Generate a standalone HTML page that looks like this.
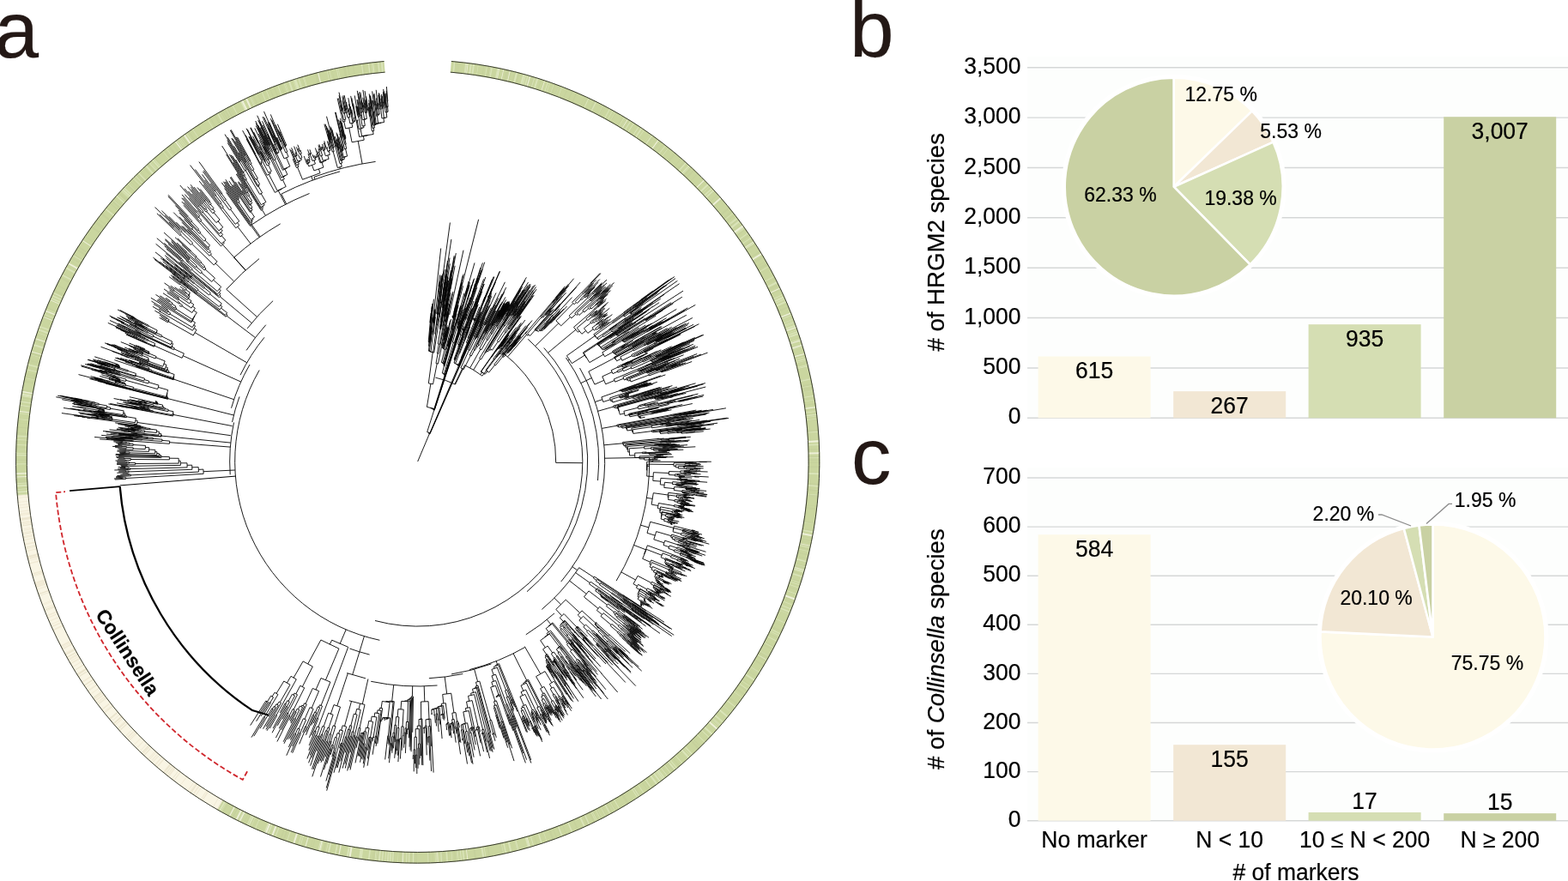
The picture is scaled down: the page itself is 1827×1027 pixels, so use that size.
<!DOCTYPE html>
<html><head><meta charset="utf-8"><title>Figure</title>
<style>
html,body{margin:0;padding:0;background:#ffffff;overflow:hidden;}
svg{display:block;}
text{stroke:#000;stroke-width:0.2px;font-family:'Liberation Sans',Arial,Helvetica,sans-serif;fill:#000;}
.tk{font-size:26.5px;}
.bl{font-size:26.5px;}
.pl{font-size:23px;}
.at{font-size:27.6px;}
.pn{font-size:92.7px;fill:#231815;stroke:#231815;}
.cl{font-size:23px;font-weight:bold;}
</style></head>
<body>
<svg width="1827" height="1027" viewBox="0 0 1827 1027">
<rect width="1827" height="1027" fill="#ffffff"/>
<g id="ring">
<path d="M525.91,71.04 A468.6,468.6 0 1 1 253.11,944.23 L259.89,932.44 A455.0,455.0 0 1 0 524.77,84.60 Z" fill="#cad69f"/>
<path d="M253.11,944.23 A468.6,468.6 0 0 1 19.78,577.62 L33.33,576.47 A455.0,455.0 0 0 0 259.89,932.44 Z" fill="#f9f5e4"/>
<path d="M19.78,577.62 A468.6,468.6 0 0 1 447.49,71.04 L448.63,84.60 A455.0,455.0 0 0 0 33.33,576.47 Z" fill="#cad69f"/>
<path d="M525.34,77.82 A461.8,461.8 0 1 1 256.50,938.33" fill="none" stroke="#dfe8c2" stroke-opacity="0.75" stroke-width="13.6" stroke-dasharray="2.0,3.6,1.5,11.7,2.0,3.6,2.0,1.3,2.0,3.9,0.6,9.4,0.8,3.5,0.6,0.6,1.5,5.4,2.0,20.1,2.0,6.3,2.0,0.1,0.6,0.4,0.8,1.3,1.5,5.5,2.0,2.4,2.0,11.1,1.0,1.6,0.6,4.2,1.0,3.7,2.0,3.1,0.6,32.7,1.0,7.4,2.0,8.5,0.6,2.0,0.6,5.0,1.0,3.1,0.6,2.9,0.6,11.3,0.6,1.4,1.5,3.8,2.0,3.3,1.0,6.0,1.0,2.5,1.5,2.4,0.6,8.5,0.6,0.9,1.5,0.1,0.8,9.6,0.8,6.9,0.8,3.6,0.8,25.3,1.5,3.3,1.5,0.7,0.6,27.7,2.0,1.9,0.6,2.2,1.5,1.4,2.0,32.9,0.6,6.2,0.8,0.3,1.0,1.4,2.0,0.1,1.0,2.4,0.6,2.9,2.0,0.6,0.6,6.1,1.0,5.5,0.8,5.8,1.5,19.2,0.8,10.7,0.8,12.1,1.0,5.9,2.0,14.3,0.8,1.7,2.0,1.0,1.5,1.3,2.0,12.8,0.6,0.5,0.6,0.7,1.0,4.3,1.5,1.6,2.0,1.8,2.0,4.1,0.6,1.2,1.5,0.8,2.0,4.9,1.0,5.7,0.8,1.4,0.6,8.3,1.5,1.9,0.6,1.7,1.0,1.2,0.8,4.5,0.8,0.6,1.0,13.3,2.0,6.4,0.8,5.3,0.6,5.3,1.0,3.9,0.6,7.2,0.6,0.1,1.0,3.9,0.6,2.3,2.0,0.5,0.6,2.8,0.8,13.8,1.0,9.5,1.5,2.6,1.5,13.9,0.6,17.3,2.0,11.9,1.5,0.1,0.6,2.9,0.6,5.6,0.6,0.6,1.5,30.1,1.5,7.8,2.0,16.3,1.5,3.7,0.6,10.9,2.0,4.4,2.0,0.2,0.6,0.6,0.6,1.6,2.0,4.1,1.5,6.5,0.6,1.8,0.8,2.8,0.8,6.8,1.0,4.4,1.5,6.5,0.8,4.1,1.0,2.4,1.5,1.3,0.8,9.8,1.5,12.7,1.0,1.5,0.8,1.4,0.6,4.1,1.0,7.5,0.6,10.4,1.0,3.6,1.5,15.6,2.0,2.9,1.0,4.1,2.0,7.6,0.6,3.6,1.0,10.6,0.6,12.4,1.0,6.8,1.0,5.1,2.0,6.3,0.8,0.1,0.8,3.1,1.0,0.2,0.8,1.6,0.6,9.6,2.0,3.5,1.0,6.4,0.8,19.1,1.5,1.3,0.6,1.8,2.0,8.4,0.8,7.5,1.0,1.5,2.0,4.7,0.8,4.2,0.8,3.0,1.5,0.5,1.5,0.8,0.6,1.3,2.0,2.8,2.0,6.3,1.0,9.6,0.8,3.7,0.6,0.6,1.5,1.4,1.0,23.6,1.0,4.6,0.6,1.8,0.6,2.6,1.0,0.2,1.0,4.8,0.6,4.0,0.6,1.5,0.6,3.4,1.0,1.1,0.8,7.0,2.0,3.8,2.0,13.8,1.5,11.0,1.5,17.5,0.6,5.2,1.5,8.5,1.0,4.5,2.0,10.7,2.0,6.1,2.0,4.3,1.5,1.8,2.0,18.6,0.8,1.4,2.0,20.7,1.5,1.9,2.0,1.3,0.6,0.7,0.6,5.6,0.6,4.6,1.5,4.4,2.0,4.7,0.6,0.8,0.6,7.0,1.5,16.0,1.5,3.2,1.5,1.9,1.0,4.1,1.5,3.4,0.6,4.5,2.0,1.3,1.0,0.2,0.6,0.8,0.8,0.2,1.0,1.5,1.0,2.3,1.5,1.7,2.0,0.7,2.0,0.8,0.8,5.9,1.5,7.3,1.5,0.1,2.0,10.5,0.8,1.0,2.0,12.0,2.0,6.1,2.0,1.5,0.8,5.7,1.0,1.6,1.0,14.0,0.8,5.5,0.8,1.5,0.8,13.1,0.8,13.2,1.0,7.8,1.5,2.9,1.5,10.7,0.8,4.7,0.6,1.3,2.0,0.6,1.0,6.9,2.0,0.7,1.0,6.0,0.8,4.2,1.5,9.7,0.6,0.7,2.0,8.6" stroke-dashoffset="2.6"/>
<path d="M525.34,77.82 A461.8,461.8 0 1 1 256.50,938.33" fill="none" stroke="#c4d09b" stroke-opacity="0.8" stroke-width="13.6" stroke-dasharray="0.8,5.0,0.6,1.3,0.8,1.4,0.6,27.8,0.8,5.2,2.0,18.2,0.6,0.5,2.0,2.4,1.2,3.3,1.2,3.4,0.6,0.1,0.8,11.2,1.2,3.1,2.0,8.1,0.8,15.3,0.6,0.6,0.6,2.3,2.0,9.7,0.8,5.1,1.2,4.2,1.2,9.8,0.6,2.0,0.8,8.2,2.0,10.1,1.2,0.9,1.2,12.7,0.8,8.7,0.8,3.1,1.2,0.4,0.6,2.2,1.2,0.1,0.6,28.0,1.2,1.6,2.0,2.5,0.6,5.1,2.0,3.0,0.6,6.2,0.6,8.6,0.6,0.7,1.2,8.1,0.6,3.5,2.0,8.6,1.2,0.1,1.2,1.7,2.0,4.8,0.6,20.5,0.6,6.1,0.6,4.8,0.8,2.9,0.8,2.9,0.6,11.6,2.0,3.4,2.0,3.3,1.2,5.5,2.0,4.5,1.2,6.4,1.2,6.5,0.8,0.2,0.8,5.3,2.0,3.2,1.2,0.3,0.6,8.3,1.2,5.2,0.8,0.5,2.0,3.4,0.8,1.7,0.6,0.3,2.0,16.6,0.8,0.9,0.6,5.6,2.0,0.3,0.8,3.6,1.2,11.8,0.6,4.5,0.8,2.7,2.0,6.6,2.0,5.5,0.8,2.7,0.8,18.3,0.6,1.6,1.2,4.2,1.2,9.2,0.8,1.9,0.8,6.0,0.8,1.3,0.8,4.2,0.6,12.7,0.6,5.9,2.0,1.9,0.6,0.2,1.2,0.6,0.6,0.5,0.8,14.6,1.2,4.8,1.2,4.0,1.2,1.4,0.8,4.1,0.6,10.9,2.0,9.7,0.8,9.9,1.2,3.5,0.8,3.0,1.2,2.8,0.8,2.1,1.2,3.3,2.0,5.2,0.6,12.5,2.0,4.7,2.0,5.0,2.0,10.1,0.6,2.1,0.8,0.5,0.6,14.5,2.0,7.1,1.2,7.7,0.8,2.0,1.2,1.5,0.6,2.7,2.0,2.3,1.2,5.1,1.2,3.5,0.8,3.7,0.8,3.1,1.2,0.5,2.0,0.1,0.8,5.3,1.2,8.1,0.8,9.6,0.8,10.9,2.0,1.2,1.2,12.8,0.8,10.0,0.8,4.3,0.6,5.0,2.0,6.3,1.2,0.4,0.6,9.3,1.2,2.4,1.2,8.0,0.8,0.5,2.0,0.6,0.8,1.7,1.2,4.0,2.0,8.7,1.2,2.6,2.0,6.7,0.6,4.0,0.6,7.4,1.2,3.2,2.0,11.5,2.0,10.8,0.6,19.0,0.6,4.5,2.0,9.7,0.8,15.4,0.8,1.7,2.0,28.3,1.2,6.9,2.0,1.4,1.2,4.5,0.6,21.0,0.6,3.8,0.8,2.2,0.8,9.0,2.0,14.6,2.0,0.1,0.6,14.4,0.8,2.2,0.8,1.2,2.0,5.3,0.8,5.4,1.2,3.5,1.2,3.1,2.0,5.9,2.0,11.5,1.2,13.1,0.6,6.5,0.8,4.0,0.8,3.1,2.0,17.7,1.2,22.4,0.6,9.3,0.8,6.4,2.0,13.4,2.0,14.1,2.0,9.6,0.8,5.6,1.2,3.2,0.8,0.9,1.2,6.1,0.6,4.4,0.8,1.0,0.8,0.0,0.6,10.4,0.6,2.6,2.0,13.2,1.2,0.5,0.8,0.1,0.6,3.2,2.0,9.1,2.0,1.4,0.8,4.5,1.2,17.6,2.0,2.3,1.2,0.5,0.6,35.4,0.8,2.7,2.0,0.7,0.6,6.8,0.6,6.4,2.0,12.0,0.6,1.6,0.6,3.7,0.8,11.6,0.8,13.9,2.0,2.1,1.2,16.6,2.0,18.5,0.6,4.9,0.8,1.8,0.6,2.8,1.2,2.4,1.2,5.0,2.0,3.6,0.8,0.6,0.8,5.8,0.8,6.8" stroke-dashoffset="0.9"/>
<path d="M525.34,77.82 A461.8,461.8 0 1 1 256.50,938.33" fill="none" stroke="#f1f2de" stroke-opacity="0.9" stroke-width="13.6" stroke-dasharray="1.2,20.6,0.8,35.9,0.8,4.2,0.8,6.8,0.8,22.8,1.2,16.7,0.8,104.6,0.8,41.7,1.2,68.8,1.2,26.4,2.0,39.0,2.0,20.5,0.8,15.3,2.0,43.2,1.2,30.2,1.2,16.1,1.2,14.7,1.2,4.5,1.2,9.2,0.8,62.2,0.8,37.8,2.0,11.7,2.0,93.3,2.0,10.7,0.8,27.8,0.8,34.1,2.0,173.0,2.0,256.5,0.8,72.2,0.8,33.5,0.8,39.5,0.8,60.0,2.0,11.2,1.2,21.6,1.2,16.0,0.8,12.4,2.0,24.1,2.0,5.8,2.0,31.4,1.2,2.6,2.0,7.4,1.2,193.8" stroke-dashoffset="3.0"/>
<path d="M26.55,577.04 A461.8,461.8 0 0 1 448.06,77.82" fill="none" stroke="#dfe8c2" stroke-opacity="0.75" stroke-width="13.6" stroke-dasharray="0.6,0.8,1.0,2.0,2.0,1.7,0.8,2.7,2.0,1.2,1.5,10.0,0.8,0.2,0.8,9.2,1.5,2.2,0.6,5.7,1.5,1.0,0.8,3.8,0.6,4.5,0.8,5.1,0.8,2.5,2.0,1.8,0.6,16.1,0.6,6.2,0.8,7.7,1.5,3.1,1.5,5.5,2.0,2.5,2.0,14.7,1.0,8.5,1.5,4.0,1.5,10.9,0.6,10.5,2.0,5.0,2.0,2.4,0.6,3.4,0.6,2.3,2.0,2.1,1.5,13.8,1.0,5.5,0.6,12.9,1.5,1.7,1.5,1.7,1.5,21.6,2.0,7.1,2.0,14.4,1.5,2.2,0.6,16.9,1.0,43.4,1.5,12.1,0.8,5.0,1.5,1.5,0.6,5.0,0.8,0.6,2.0,0.8,1.5,5.1,0.8,0.0,0.6,7.8,0.6,2.4,1.5,3.5,1.5,10.1,2.0,0.9,1.0,1.6,1.0,0.2,1.5,2.2,1.5,0.9,0.8,12.7,0.6,2.1,1.0,1.3,0.6,13.8,2.0,1.1,0.8,1.4,0.6,1.3,1.0,6.3,1.0,7.8,1.0,19.5,0.8,12.2,1.5,2.4,0.8,3.2,1.0,1.5,0.8,0.8,0.8,1.9,1.0,4.2,1.0,9.4,2.0,9.8,2.0,12.9,1.0,4.4,0.8,13.6,1.0,6.6,0.6,0.9,0.6,3.7,2.0,3.5,0.6,0.5,2.0,0.0,1.0,2.0,2.0,3.3,1.0,0.5,0.8,26.7,1.0,1.7,0.6,7.9,0.8,1.2,0.6,26.4,2.0,5.8,1.5,2.9,0.6,0.4,1.0,4.9,1.5,2.3,2.0,9.2" stroke-dashoffset="1.5"/>
<path d="M26.55,577.04 A461.8,461.8 0 0 1 448.06,77.82" fill="none" stroke="#c4d09b" stroke-opacity="0.8" stroke-width="13.6" stroke-dasharray="0.8,10.5,0.8,5.4,2.0,0.7,2.0,1.6,1.2,4.8,0.8,9.3,0.8,1.8,2.0,11.5,0.8,1.8,0.6,5.5,0.8,5.1,0.6,2.4,2.0,5.6,1.2,4.2,0.6,11.7,0.8,0.5,0.8,5.0,0.6,5.9,0.6,2.2,1.2,7.1,2.0,8.7,0.8,0.6,0.8,2.9,2.0,1.0,2.0,0.4,0.8,3.8,0.6,7.3,0.8,0.8,2.0,0.9,0.6,4.4,2.0,0.0,0.8,13.2,1.2,0.6,0.6,3.8,0.8,21.4,0.6,2.1,0.8,4.8,0.6,3.3,1.2,16.2,0.8,2.2,2.0,0.2,0.6,5.3,0.8,8.0,2.0,3.7,0.8,16.4,0.6,2.9,1.2,1.5,0.8,1.7,2.0,3.9,2.0,1.4,2.0,8.6,0.8,3.6,0.8,11.9,2.0,4.7,1.2,0.5,1.2,2.7,0.8,5.8,2.0,8.1,0.8,5.0,1.2,1.9,1.2,0.4,0.8,0.9,0.6,7.7,1.2,0.1,2.0,11.0,2.0,0.5,0.6,2.4,0.8,2.2,0.8,4.0,0.8,1.0,1.2,0.2,2.0,3.2,0.8,4.7,1.2,4.4,2.0,2.3,0.8,6.6,1.2,12.7,2.0,4.6,2.0,3.1,1.2,4.4,1.2,1.5,0.8,2.8,0.6,0.9,2.0,8.2,1.2,5.0,0.6,6.5,0.8,15.1,1.2,4.9,1.2,6.6,1.2,1.6,2.0,0.6,2.0,0.8,2.0,0.4,1.2,16.0,1.2,4.1,2.0,1.5,0.8,1.4,0.8,2.6,1.2,4.4,0.8,14.3,1.2,3.9,1.2,7.3,0.6,7.2,0.6,14.0,0.6,2.7,1.2,14.6,2.0,0.3,1.2,11.3,1.2,3.8,0.6,13.0,1.2,0.1,1.2,2.3,1.2,5.0,0.8,10.1,2.0,6.2,1.2,5.7,0.8,0.2,0.6,8.9" stroke-dashoffset="3.1"/>
<path d="M26.55,577.04 A461.8,461.8 0 0 1 448.06,77.82" fill="none" stroke="#f1f2de" stroke-opacity="0.9" stroke-width="13.6" stroke-dasharray="1.2,21.2,0.8,2.6,1.2,70.8,1.2,19.2,0.8,1.6,1.2,46.0,1.2,14.8,0.8,25.6,0.8,6.5,1.2,12.6,0.8,45.6,2.0,29.4,0.8,156.1,1.2,10.9,2.0,75.6,2.0,3.3,2.0,86.2,1.2,138.7" stroke-dashoffset="1.3"/>
<path d="M256.50,938.33 A461.8,461.8 0 0 1 26.55,577.04" fill="none" stroke="#ede6cf" stroke-opacity="0.8" stroke-width="13.6" stroke-dasharray="0.6,0.4,0.8,1.5,0.8,4.8,0.8,13.3,1.5,0.7,1.0,6.5,1.0,1.8,1.5,1.8,0.8,1.1,0.8,1.8,0.8,10.0,0.6,8.4,1.0,6.8,1.5,0.5,1.5,2.9,1.5,0.2,0.6,8.2,1.5,1.7,1.5,2.8,1.0,1.2,1.0,1.8,0.8,0.8,0.8,7.4,1.5,3.4,0.8,4.1,1.0,3.9,0.8,6.5,1.0,0.9,0.8,1.1,1.5,14.6,0.8,3.5,1.0,1.2,1.5,2.2,0.8,2.0,0.6,0.2,0.8,8.2,0.6,1.3,0.6,2.1,1.5,7.2,0.6,0.8,1.0,1.5,1.5,1.0,1.5,5.8,0.8,4.5,0.8,3.2,0.6,2.3,1.0,3.2,1.5,8.5,1.0,0.5,1.0,8.6,0.8,3.3,1.5,1.3,0.8,1.3,0.8,0.3,1.0,1.8,0.8,3.3,1.0,0.3,0.6,4.4,1.5,0.8,0.8,0.6,1.5,19.1,1.5,2.6,1.5,1.7,0.8,3.3,1.0,3.2,1.0,1.3,1.5,8.0,0.6,3.4,0.6,0.8,0.6,11.6,1.0,4.5,1.0,1.8,1.5,0.3,0.8,0.0,1.0,0.3,1.0,0.0,1.5,6.6,0.6,2.0,1.5,11.0,1.5,2.1,0.6,1.2,0.8,0.0,1.5,1.0,1.0,5.2,1.0,6.7,1.5,3.9,1.0,1.7,1.0,0.3,1.0,3.6,0.8,1.6,0.8,0.9,0.8,3.2,0.6,0.8,1.0,0.7,1.5,1.7,1.5,0.1,1.5,2.8,0.8,0.4,0.8,0.1,0.6,1.5,1.0,3.5,0.8,2.2,0.8,2.8,0.6,6.7" stroke-dashoffset="3.4"/>
<path d="M256.50,938.33 A461.8,461.8 0 0 1 26.55,577.04" fill="none" stroke="#e3ddc3" stroke-opacity="0.7" stroke-width="13.6" stroke-dasharray="1.0,35.4,1.0,25.6,0.6,8.9,1.0,1.9,0.6,29.0,1.0,2.9,1.0,26.2,0.6,8.4,1.0,1.6,1.0,6.9,1.0,6.5,1.0,8.4,0.6,11.0,0.6,8.7,1.0,9.0,0.6,7.1,1.0,10.8,1.0,2.0,1.0,4.8,1.0,16.1,1.0,2.5,1.0,54.6,0.6,0.6,1.0,16.8,0.6,1.4,0.6,22.0,0.6,21.2,1.0,8.6,0.6,0.8,1.0,14.9,1.0,8.7,0.6,7.3,0.6,24.1,0.6,8.1" stroke-dashoffset="0.4"/>
<path d="M525.87,71.49 A468.15000000000003,468.15000000000003 0 1 1 447.53,71.49" fill="none" stroke="#2d2f25" stroke-width="0.95"/>
<path d="M524.81,84.15 A455.45,455.45 0 1 1 448.59,84.15" fill="none" stroke="#2d2f25" stroke-width="0.95"/>
</g>
<g id="tree" fill="none" stroke="#000" stroke-width="0.9" stroke-linecap="butt">
<path d="M756.7,533.3A270,270 0 0 1 718.1,677.1M430.6,763.1A232,232 0 0 1 407.4,756M426,790.8L404.2,784.6M419.5,820.1L406.8,816.8M585.8,411.1A161,161 0 0 1 647.7,539.4M615.2,395.3A192,192 0 0 1 437,723.5M633.8,405.5A198,198 0 0 1 614,689.7M659.5,417A211,211 0 0 1 696.5,560.1M675.5,429A218,218 0 0 1 653.7,678.1M671,667.1A225,225 0 0 1 631.3,710.4M646,714.9A238,238 0 0 1 612.8,739.8M611.7,754.5A250,250 0 0 1 547.2,780.6M572.5,773.9A251,251 0 0 1 526,785.9M539.3,785.5A253,253 0 0 1 499.9,790.7M509.5,799A262,262 0 0 1 432.2,794.3M442.4,746.3A213,213 0 0 1 302.2,431.5M268.2,553.3A219,219 0 0 1 272.5,492.5M270.5,492.1A221,221 0 0 1 279,462.4M269.5,475.7A226,226 0 0 1 291,425M280,437.2A230,230 0 0 1 308,393.3M287.1,408.4A238,238 0 0 1 309.8,378.7M288.1,382.9A252,252 0 0 1 318.1,350.7M263.8,337.3A300,300 0 0 1 302,301.6M272.6,300.2A320,320 0 0 1 326.7,260.9M293.4,261.9A337,337 0 0 1 360.5,225.5M327.8,226.1A350,350 0 0 1 396.1,199.9M366,206.3A353,353 0 0 1 437.6,188.4M507.5,440.2A100,100 0 0 1 530.5,448.1M541.5,425.7A125,125 0 0 1 561.9,438.2M704.7,534.2L756.7,533.3M424.4,741.7L418.9,759.9M418.9,759.9L410.7,786.6M506.8,389.4L524.4,259.5M525.7,382.8L557.6,255.8M512.1,369.9L525.9,278.9M523.7,367L540,291.7M515.6,380.6L531.3,295.1M501.8,398.8L513.7,289.5M561.9,438.2L583.6,409.4M647.7,539.4L678.7,539.7M530.5,448.1L541.5,425.7M299.4,369.4L263.8,337.3M286,315.1L272.6,300.2M303.2,275.9L293.4,261.9M333.7,237.7L327.8,226.1M367,209.1L366,206.3M500,505.1L499.8,505.6L500.8,506L568.5,352M499.4,504L499.1,504.7L500.9,505.4L557.5,376.1M505.8,478.1L497.7,503.5L501,504.7L534.3,426.6M505.5,477.6L505.4,478L506.2,478.2L562.4,306.4M505,477L504.8,477.4L506.2,477.8L550.8,340.4M503.9,476.3L503.8,476.7L506.1,477.4L545.2,355.4M501.7,475.3L501.6,475.7L506.2,477L547.8,346.7M501.9,447.3L497.4,474.4L505.9,476.5L518.1,437.4M504.2,410.8L499.3,446.9L504.5,447.8L509.2,423.9M502.8,410.2L502.7,410.6L505.8,411L516.2,341.6M501,409.6L501,410L504.6,410.4L509,378.7M500,409.1L499.9,409.5L502.1,409.7L504.5,389.8M500.1,403.4L499.5,409L500.5,409.1L501.4,400.4M499.9,398.8L499.5,403.4L500.6,403.5L500.9,400.4M499.6,398.4L499.6,398.8L500.3,398.9L503.9,362.6M501.2,376.4L499.2,398.4L500,398.4L500.5,393M501.1,376L501,376.4L501.4,376.4L502.9,359.7M501.6,368.9L501,376L501.2,376L502.1,364.9M503.1,357.1L502.8,359.6L503,359.7L503.1,359.1M502.9,366.4L500.4,393L500.6,393L501.9,380M503,363.1L502.7,366.4L503,366.4L504.2,353.7M503,362.5L502.9,363.1L503.1,363.1L504,354.1M503.8,361.9L503.8,362.5L504,362.6L505.4,348.7M501.1,396.8L500.8,400.4L501.1,400.4L503,381.4M501,396.4L501,396.8L501.3,396.8L501.3,396.2M501.7,388.2L500.9,396.4L501.1,396.4L503.8,370M501.7,387.6L501.6,388.2L501.8,388.2L501.9,387.6M502.7,386.9L501.3,400.4L501.5,400.4L503.1,385.5M502.7,386.3L502.6,386.9L502.8,386.9L502.9,386.4M505.7,376.8L504.1,389.8L504.8,389.9L507.2,370.3M505.4,376.3L505.3,376.7L506,376.8L511.2,333.8M505.1,375.9L505.1,376.3L505.6,376.4L506.7,367.3M504.9,375.5L504.8,375.9L505.4,375.9L506.1,369.7M504.7,375L504.7,375.4L505.1,375.5L505.1,375.1M504.8,373.1L504.6,375L504.8,375.1L506.5,360.5M505.6,364.8L504.7,373.1L504.9,373.1L504.9,372.5M506.5,362.1L505,375.1L505.2,375.1L505.3,374.4M507.1,360.5L506,369.7L506.2,369.7L506.4,368.1M512.5,321.3L511,333.8L511.3,333.9L511.8,330.1M512.4,320.7L512.3,321.2L512.6,321.3L512.7,320.7M507.2,369.7L507.1,370.3L507.3,370.3L507.4,369.7M510.1,366.5L508.5,378.7L509.6,378.8L513.3,353.2M509.7,366L509.6,366.4L510.6,366.5L515.6,330.4M509.1,365.5L509.1,365.9L510.3,366.1L510.3,365.7M510.6,351L508.7,365.5L509.5,365.6L512.1,346M511.7,340.2L510.4,351L510.8,351.1L510.9,350.5M511.8,337.9L511.5,340.2L511.9,340.3L512,339.7M512.4,332.1L511.7,337.8L512,337.9L514.1,321.3M512.6,329.2L512.3,332.1L512.5,332.1L513.1,327.2M514.1,329.4L511.9,346L512.3,346L515.9,319.1M514.9,321.8L513.9,329.4L514.3,329.5L515.4,321M514.9,321.2L514.8,321.8L515.1,321.8L515.1,321.2M510.2,365.3L510.2,365.7L510.5,365.7L510.6,365.1M510.1,364.8L510.1,365.2L510.4,365.3L510.5,364.7M510.1,364.2L510,364.8L510.2,364.9L510.3,364.3M514.3,343.8L513,353.1L513.6,353.2L513.7,352.8M516.4,327.9L514.1,343.8L514.4,343.9L514.5,343.3M518.2,314.2L516.2,327.8L516.5,327.9L516.6,327.3M513.6,352.4L513.5,352.8L513.8,352.9L513.9,352.3M513.5,351.8L513.4,352.4L513.7,352.4L513.7,351.8M518.2,327L516,341.6L516.4,341.7L519.1,323.9M518,326.6L518,327L518.3,327L520.3,314.1M518,326L517.9,326.5L518.2,326.6L521.5,304M510.2,412L508,423.6L510.4,424.1L514.9,402.8M511.3,401.1L509.4,411.9L511,412.2L519.7,367.2M513.2,383.8L510.3,400.9L512.3,401.3L518.3,369.1M512.9,383.3L512.8,383.7L513.7,383.9L519.3,351.6M512.8,381.5L512.5,383.3L513.3,383.4L513.9,379.7M513.4,375.5L512.4,381.4L513.2,381.5L518.4,350.3M515.8,358.6L513,375.5L513.7,375.6L521.4,329.7M515.4,358.2L515.3,358.6L516.2,358.7L520.9,329.8M515.9,352.3L515,358.1L515.8,358.2L521.6,322.4M515.8,350.3L515.5,352.3L516.3,352.4L518.4,339.3M516.8,342.2L515.6,350.3L516.1,350.4L519.3,329.8M520,320L516.6,342.2L517,342.2L517.1,341.6M520,319.4L519.9,320L520.2,320L520.3,319.4M520.6,320.3L519.2,329.7L519.4,329.8L524,300.6M519.8,329.7L518.3,339.3L518.6,339.4L519.4,334.3M519.7,329.1L519.7,329.7L519.9,329.8L520,329.2M521.3,326.7L520.8,329.7L521.1,329.8L522.2,323.5M524.3,307.5L521.1,326.7L521.4,326.7L521.5,326.1M522.1,327.8L518.3,350.3L518.6,350.4L522.6,327.2M522,327.2L521.9,327.8L522.2,327.8L522.3,327.2M518,355.3L513.8,379.7L514,379.7L515.7,369.6M522.2,334.2L519.2,351.5L519.5,351.6L519.6,351M525.4,315.1L522.1,334.1L522.3,334.2L522.4,333.6M517.9,368.6L517.9,369L518.7,369.2L524.8,337.2M517.6,368.1L517.5,368.5L518.4,368.7L518.9,366M518.6,361L517.3,368.1L517.9,368.2L518,367.8M522.2,339.2L518.3,360.9L518.8,361L518.9,360.6M524.7,324.1L522,339.2L522.4,339.2L529.5,299.7M529.2,298.1L524.6,324.1L524.8,324.2L527,312.1M525.5,323.3L518.8,360.6L519,360.6L519.1,360M520.5,353.6L517.9,367.8L518.1,367.8L518.2,367.2M519.9,359.6L518.7,366L519,366L519.1,365.4M524.5,334.3L519.8,359.6L520,359.6L526.6,324.3M526.9,325.4L524.7,337.1L524.9,337.2L530.1,309.8M519.6,366.8L519.5,367.2L519.9,367.3L520,366.9M522.1,353.4L519.5,366.8L519.7,366.8L519.8,366.2M520,366.3L519.9,366.9L520.1,366.9L525.1,341.2M516.5,391.8L514.3,402.6L515.5,402.9L515.6,402.5M519.3,375.6L516.1,391.7L516.8,391.9L521.2,370.9M519.2,375.2L519.2,375.6L519.5,375.7L523.8,354.3M519.1,374.8L519.1,375.2L519.4,375.2L521.3,365.7M519.1,374.3L519,374.7L519.3,374.8L519.4,374.2M519,373.9L518.9,374.3L519.2,374.4L521.6,362.5M519,373.3L518.9,373.9L519.1,373.9L519.2,373.3M521.4,368.6L520.9,370.9L521.4,371L522.6,364.9M522.6,361.9L521.3,368.6L521.5,368.7L527,342.4M522.7,361.3L522.5,361.8L522.7,361.9L525.7,347.5M522.7,364.3L522.5,364.9L522.7,364.9L527.9,340M515.9,400.3L515.4,402.5L515.7,402.5L515.8,401.9M515.8,399.9L515.8,400.3L516,400.3L516.2,399.7M517.1,393.1L515.7,399.8L516,399.9L516.1,399.3M517.2,392.5L517,393.1L517.2,393.1L523.2,364.5M517.9,436.9L517.7,437.3L518.6,437.6L543,360.4M517.4,436.1L517.2,436.7L518.5,437.1L538.3,374.2M516.4,435.3L516.2,435.7L518.5,436.4L541.7,362.5M517.5,426.8L515.3,435L517.5,435.6L528.3,399.3M517.3,426.3L517.2,426.7L517.9,426.9L532,376.8M517.3,424.9L516.9,426.2L517.6,426.4L531.6,375.8M517.1,424.4L517,424.8L517.6,425L527.2,390M516.8,423.9L516.7,424.3L517.5,424.5L529.5,380.3M516.2,423.4L516.1,423.8L517.5,424.1L527,388.7M515.3,422.7L515.2,423.1L517.2,423.6L522.4,404.2M518.1,407.3L514.4,422.5L516.1,422.9L523.4,394.5M517,406.6L516.9,407L519.3,407.5L528.3,371.2M516.4,406L516.3,406.4L517.7,406.8L519.4,399.4M515.9,405.5L515.9,405.9L517,406.2L517.1,405.8M515.7,405.1L515.6,405.5L516.3,405.6L518.5,395.6M517.5,396.1L515.5,405L515.9,405.1L517,400.2M517.5,395.2L517.4,396.1L517.6,396.2L520.8,381.7M519.1,387.8L517.5,395.2L517.6,395.3L521.1,379.3M517,399.6L516.9,400.2L517,400.2L517.2,399.6M519.6,389.7L518.3,395.6L518.7,395.7L520.4,387.9M521.4,381.4L519.5,389.7L519.7,389.7L519.8,389.2M520.4,387.3L520.3,387.9L520.5,387.9L522,381.3M517.7,401.9L516.9,405.7L517.3,405.8L517.4,405.2M518.1,399.7L517.6,401.9L517.9,401.9L519.9,393.2M518.1,399.1L518,399.7L518.2,399.7L519.4,394.2M522.3,382.3L519.8,393.1L520,393.2L524.5,373.6M519.4,398.9L519.3,399.3L519.6,399.4L523.7,382.2M519.3,398.5L519.2,398.9L519.5,399L519.6,398.4M519.3,398.1L519.2,398.5L519.4,398.5L525.7,372M519.3,397.5L519.2,398.1L519.4,398.1L519.5,397.5M527.9,370.6L527.8,371L528.9,371.3L529.4,369.5M527.5,370.1L527.4,370.5L528.3,370.7L531.9,356.3M527.3,369.7L527.2,370.1L527.8,370.2L534.4,343.6M527.2,369.2L527.1,369.6L527.5,369.7L529,363.9M527.1,368.8L527.1,369.2L527.3,369.3L527.5,368.7M527.2,368.2L527,368.8L527.2,368.8L527.4,368.2M539.2,321.3L528.9,363.9L529.1,363.9L530.7,357M540.1,319.5L534.2,343.6L534.5,343.6L536.1,337M532.2,354.4L531.7,356.3L532,356.3L535.9,340.7M538.1,329.9L532.1,354.3L532.3,354.4L538.5,329.1M529.3,369.1L529.2,369.4L529.5,369.5L532.9,356.2M531.6,359.4L529.2,369L529.4,369.1L531.2,362M533.5,351.4L531.5,359.4L531.7,359.4L531.8,358.8M522.2,403.8L522.1,404.2L522.7,404.3L523.8,400.3M522,403.3L521.9,403.7L522.5,403.9L522.6,403.5M526.4,384.9L521.7,403.2L522.3,403.4L522.4,403M530.3,369.2L526.3,384.8L526.6,384.9L534.2,355.7M535.4,348.7L530.2,369.1L530.4,369.2L530.6,368.6M535.5,348.1L535.3,348.7L535.5,348.7L539.5,333.4M526.5,386.6L522.2,403L522.5,403L525,393.8M526.5,386.2L526.4,386.6L526.7,386.7L529.1,377.6M526.6,385.6L526.4,386.2L526.6,386.2L532,365.8M526,390.5L522.6,403.5L522.7,403.5L522.9,402.9M532.2,371.4L527.1,389.9L527.3,390L527.4,389.4M533.4,368.7L531.5,375.8L531.8,375.9L533.3,370.5M536.5,357.1L533.3,368.6L533.5,368.7L541,341.6M537.2,356.2L533.2,370.5L533.4,370.5L533.6,370M534.5,367.3L531.9,376.8L532.1,376.9L537.9,356.3M533.3,378.4L527.3,399L529.4,399.6L533.6,385.9M535.9,367.4L532.8,378.2L533.8,378.5L533.9,378.1M536.1,365.4L535.5,367.3L536.2,367.5L542.9,344.6M541.3,346.2L535.8,365.4L536.3,365.5L536.5,364.9M545.9,329.1L541,346.2L541.5,346.3L542.7,341.9M546,328.2L545.8,329.1L546,329.1L546.2,328.6M544.3,336.1L542.6,341.9L542.8,342L553,306.4M543.3,342.4L542.7,344.6L543,344.7L547.5,329.3M546.3,331.9L543.2,342.4L543.4,342.4L543.6,341.8M537.3,366.1L533.8,378.1L534.1,378.2L535.3,374M544.9,339.6L537.1,366.1L537.4,366.1L537.6,365.6M546,335.5L544.8,339.6L545,339.6L547.1,332.6M533.9,383.6L533.2,385.8L534,386.1L539.9,367.2M533.6,383.1L533.5,383.5L534.4,383.8L541.8,359.7M533.5,382.4L533.3,383L533.9,383.2L540.6,361.1M533.4,382L533.3,382.4L533.7,382.5L536.2,374.2M534.5,377.7L533.2,382L533.5,382L533.7,381.5M539.4,361.1L534.4,377.7L534.6,377.8L534.8,377.2M536.2,373.6L536.1,374.2L536.3,374.3L536.4,373.7M540.6,360.5L540.5,361.1L540.7,361.1L549.5,332.4M544.9,349.1L541.6,359.7L542,359.8L542.2,359.2M544.8,348.7L544.7,349.1L545,349.2L552.6,324.6M544.9,348.1L544.7,348.7L544.9,348.7L552,325.8M541.8,361.9L541.6,362.4L541.8,362.5L543,358.8M543.1,359.8L542.9,360.4L543.1,360.4L545.1,354.2M553.1,332.6L550.6,340.4L551,340.5L556.5,323.5M553,332.1L552.9,332.5L553.3,332.6L559.9,312.2M553.1,331.5L552.9,332.1L553.2,332.2L553.3,331.6M533.8,426L533.7,426.3L535,426.9L572.1,341.3M533.1,425.2L533,425.6L534.7,426.3L569,346.7M532,424.3L531.8,424.7L534.4,425.8L560.9,363.5M529.9,423.1L529.7,423.5L534.2,425.2L537.7,416.9M530.1,419.8L529,422.8L530.8,423.4L535.2,411.9M529.8,419.3L529.6,419.7L530.5,420L544.4,382.3M529.5,418.8L529.4,419.2L530.2,419.5L540,392.5M534.2,404.3L529.1,418.6L530,418.9L543.1,382.8M534.6,402.1L533.8,404.2L534.6,404.4L550.2,360.6M534.2,401.5L534,401.9L535.1,402.2L550.5,359.1M537,390.7L533.4,401.2L534.9,401.8L539.7,388.3M542.2,372.7L536.2,390.4L537.8,391L539.8,385.3M541.8,372.2L541.7,372.5L542.6,372.9L548.5,355.6M544.7,362.7L541.6,372.1L542,372.2L543.8,366.8M551.7,340.9L544.5,362.7L544.8,362.8L560.6,315.3M555.3,329.3L551.5,340.9L551.8,341L557.2,324.8M555.5,328.1L555.2,329.2L555.4,329.3L555.6,328.7M543.9,366.2L543.7,366.8L543.9,366.9L544.1,366.3M553.1,341L548.3,355.5L548.7,355.7L555.4,336M556.6,330.3L553,341L553.3,341.1L553.5,340.5M564.7,305.7L556.4,330.2L556.7,330.3L562.3,313.6M555.5,335.4L555.3,336L555.5,336L555.7,335.5M539.6,384.8L539.4,385.2L540.1,385.4L544.6,372.5M539.5,384.4L539.4,384.7L539.8,384.9L539.9,384.5M539.5,383.9L539.4,384.3L539.6,384.4L539.8,383.8M540.5,380.7L539.4,383.9L539.6,384L539.8,383.4M540.3,383L539.8,384.5L540,384.5L540.2,384M545,371L544.5,372.5L544.8,372.6L548.7,361.4M551.9,351L544.9,371L545.1,371.1L545.3,370.5M539.7,387.9L539.6,388.3L539.8,388.3L543.9,376.8M541.4,382.7L539.6,387.8L539.8,387.9L541,384.4M550.5,359.5L550.1,360.6L550.3,360.7L550.6,360.1M551.3,359.3L542.9,382.7L543.3,382.9L546.9,373.1M554.3,350.6L551.2,359.3L551.5,359.4L557.2,343.6M555.3,347.4L554.2,350.6L554.4,350.7L563.6,325.4M547,372.5L546.8,373.1L546.9,373.1L554.8,351.6M553.6,357.2L544.3,382.2L544.6,382.4L544.8,381.8M559.7,339.9L553.4,357.1L553.7,357.2L559.8,340.7M565.8,323L559.6,339.8L559.9,339.9L560.9,337M541.9,393.2L534.9,411.8L535.6,412.1L541.6,396.7M543.1,389.1L541.6,393.1L542.3,393.3L550.9,370.9M546.3,380.1L542.9,389L543.3,389.2L550.1,371.4M549.8,370.2L546.1,380L546.4,380.2L561.7,339.8M554.1,358.2L549.6,370.2L550,370.3L557.5,350.3M554.7,356.1L554,358.1L554.3,358.2L560.3,342.2M563.9,331.1L554.6,356.1L554.8,356.1L564.2,331M550.2,370.8L550,371.4L550.2,371.5L556.2,355.6M550.9,370.5L550.7,370.9L551,371L557.2,354.8M551,369.9L550.8,370.4L551,370.5L551.2,370M543.9,390.3L541.4,396.6L541.7,396.7L546,385.5M547.4,380.8L543.8,390.3L543.9,390.4L547.5,381.1M544.4,400L537.4,416.8L538,417L559,367.6M544,399.4L543.9,399.8L544.9,400.2L560.3,363.9M545.6,393.9L543.4,399.2L544.7,399.7L553.6,378.4M553,374.1L545,393.7L546.1,394.1L561.2,357.5M552.6,373.5L552.5,373.9L553.4,374.3L565,345.9M552.1,372.9L552,373.3L553.2,373.8L553.4,373.4M552,372.4L551.9,372.8L552.4,373L552.6,372.5M551.9,371.9L551.7,372.3L552.3,372.5L552.4,372.2M551.8,371.5L551.7,371.9L552.1,372L552.2,371.6M551.9,370.9L551.7,371.5L551.9,371.5L552.1,371M552.3,371.1L552.1,371.6L552.3,371.7L552.5,371.1M552.6,371.6L552.3,372.1L552.5,372.2L552.8,371.7M553.3,373L553.2,373.3L553.6,373.5L553.8,372.9M553.3,372.5L553.2,372.9L553.5,373L553.7,372.5M553.3,372.1L553.1,372.5L553.5,372.6L553.7,372M553.3,371.7L553.2,372L553.4,372.1L553.7,371.6M558.8,357.7L553.2,371.6L553.4,371.7L553.6,371.1M563.3,351.7L561,357.4L561.5,357.6L575.9,322.8M563.2,351.3L563.1,351.6L563.5,351.8L563.7,351.4M573.5,325.7L563.1,351.2L563.3,351.3L575.2,322.4M567.9,340.9L563.5,351.4L563.8,351.5L564,350.9M553.5,377.9L553.4,378.3L553.8,378.5L555.7,373.9M553.6,377.5L553.4,377.9L553.7,378L553.9,377.4M553.7,376.9L553.5,377.4L553.7,377.5L561.8,358M555.9,373.3L555.6,373.8L555.8,373.9L559.4,365.5M568.9,346.2L568.7,346.6L569.2,346.8L570.5,343.7M568.9,345.8L568.7,346.1L569,346.3L573.6,335.5M569,345.2L568.7,345.7L569,345.8L569.7,344.1M582.2,316.3L570.4,343.6L570.6,343.7L582.5,316.3M577.3,329L572,341.3L572.2,341.4L572.4,340.8M558.4,373.5L557.4,376L557.6,376.1L558.1,374.9M572.6,342.2L568.4,352L568.6,352.1L572.1,344.2M486.7,538L500.3,505.8M546.5,408L536.9,429L540.3,430.6L548.3,414.5M552.6,392.4L545.7,407.7L547.3,408.4L553.3,395.6M559.2,376.5L552.1,392.2L553.1,392.6L558.5,380.7M572.9,345.2L558.9,376.4L559.4,376.6L571.2,350.4M569,356.7L558.2,380.6L558.9,380.9L559.3,380M567.6,361.2L559,379.9L559.5,380.1L570.8,355.6M578,341.4L552.9,395.5L553.7,395.8L554.4,394.3M565.2,370.4L554,394.1L554.8,394.5L555.4,393.2M563.5,375.1L555.1,393L555.8,393.4L556,393M561.2,381.2L555.7,392.9L556.3,393.2L556.5,392.8M572.5,358.7L556.3,392.7L556.7,392.9L557,392.2M564.6,378.7L547.3,414.1L549.2,415L552.8,407.9M588.4,328.8L564.2,378.5L565,378.9L565.2,378.6M576.4,354.8L564.8,378.4L565.5,378.7L565.7,378.4M580.7,347.4L565.5,378.3L565.9,378.5L567.9,374.6M568.6,375L552.2,407.6L553.5,408.3L555.7,404M577.9,355.7L568.3,374.8L568.8,375.1L585.1,342.8M589.7,335.1L554.9,403.6L556.4,404.4L557.7,402M563.7,388.4L556.9,401.6L558.5,402.5L562.1,395.7M587.7,340.4L563.3,388.2L564.1,388.6L565.1,386.6M577.2,362.2L564.8,386.4L565.4,386.8L565.7,386.2M577.9,362.2L565.5,386.1L565.9,386.4L570.6,377.4M583.4,354.2L561.7,395.5L562.4,395.9L566.2,388.9M585.4,351.7L565.8,388.7L566.6,389.1L571.5,379.9M588.9,346.4L571.1,379.7L571.8,380.1L572.6,378.6M581.5,361.6L572.4,378.5L572.9,378.8L582,361.9M529.9,447.8L538.6,429.8M570.1,385.5L558.7,406.4L561,407.7L567.6,396.1M587.5,352.8L569.8,385.3L570.5,385.7L571.6,383.7M579.7,368.1L571.3,383.5L572,383.8L574.6,379.2M589.7,349.4L579.6,368L579.8,368.1L587.6,354.1M588,354L574.2,379L574.9,379.4L576.8,376M579.9,369.8L576.5,375.8L577,376.1L580.6,369.7M587.2,356.1L579.7,369.7L580,369.8L589.4,353M588.6,355L580.5,369.6L580.8,369.8L590.5,352.4M578,375.9L566.9,395.6L568.4,396.5L572.6,389.2M591.3,351.7L577.8,375.8L578.3,376L580.3,372.4M591.4,352.2L580.1,372.3L580.5,372.5L582.3,369.3M592.3,351.3L582.2,369.2L582.5,369.4L590.6,355.1M579.1,376.4L572,388.9L573.2,389.6L578.7,380.1M592.9,351.8L578.9,376.3L579.4,376.5L581.6,372.7M592.4,353.3L581.4,372.6L581.8,372.9L584.1,368.8M593.8,351.5L584,368.7L584.2,368.9L592.9,353.9M584,370.2L578.4,379.9L579,380.3L582,375.1M593.8,353L583.9,370.1L584.2,370.3L593.6,354M593.2,355.5L581.8,375L582.2,375.2L584.3,371.7M594.1,354.6L584.1,371.6L584.4,371.8L593.8,355.8M547.7,428.9L559.9,407M580,382.2L558.6,417.9L560.5,419L565.2,411.3M588.8,365.8L579.3,381.8L580.6,382.6L586.3,373.3M613.4,323.3L588.5,365.6L589.1,366L591,362.8M611.9,326.9L590.8,362.6L591.3,362.9L591.5,362.6M607.2,336L591.3,362.5L591.7,362.7L608.7,334.3M606.8,338.6L586,373.1L586.6,373.5L589.6,368.6M600,350.8L589.3,368.4L589.8,368.7L590.1,368.3M598.9,353.3L589.9,368.2L590.3,368.4L605.1,344.1M595.9,360.5L564.8,411.1L565.7,411.6L567,409.5M609.3,338.1L595.7,360.4L596.1,360.6L615.5,329.1M611.2,337L566.5,409.2L567.5,409.8L567.7,409.5M611.2,338L567,409L568.5,410L570,407.6M615.1,332.7L568.7,406.8L571.3,408.4L572,407.3M587.5,379.7L570.6,406.3L573.5,408.2L580.3,398.1M593.6,368.5L586.8,379.3L588.2,380.2L595.8,368.4M603.7,351.8L593.3,368.3L593.9,368.7L597.4,363.3M617.3,331.1L597.1,363.1L597.7,363.4L601.8,356.9M611.7,341L601.6,356.8L602,357L618.3,331.5M616.9,334.6L595.4,368.1L596.1,368.6L596.9,367.2M618.3,333.4L596.6,367.1L597.2,367.4L597.6,366.8M603.8,356.8L597.4,366.7L597.8,366.9L602.2,360.1M592.2,377.9L579.3,397.5L581.2,398.8L588.8,387.6M598.3,367.5L591.7,377.5L592.7,378.2L597.7,370.7M617.1,338.1L598,367.3L598.6,367.6L600.2,365.1M613.9,343.9L600.1,365L600.4,365.3L621.5,333.2M601.1,365L597.5,370.5L598,370.9L598.9,369.5M623.6,332L598.7,369.4L599.1,369.6L611.5,351.1M601,368.1L588.2,387.1L589.4,388L592.6,383.4M611.5,351.9L600.7,367.9L601.3,368.3L602.3,366.8M621.2,338.3L602.1,366.7L602.5,366.9L624.5,334.4M611.6,354.3L592.1,383L593.1,383.7L593.4,383.4M595.6,379.1L592.9,383L593.9,383.7L602.4,371.4M608.4,359.8L595.3,379L595.8,379.3L603.1,368.7M622.6,340L602.9,368.6L603.3,368.9L625.1,337.1M617.7,348.8L602.2,371.2L602.7,371.6L604.4,369.1M620.9,345.1L604.3,369L604.6,369.2L622.2,344M551.7,431.3L559.5,418.4M593.7,385.4L560.2,433.2L562.7,435L562.9,434.7M572.4,416.5L560.7,433.1L565.1,436.3L567.9,432.7M582.1,402.4L572.2,416.4L572.6,416.7L578,409.1M606.3,368.5L577.7,409L578.2,409.3L580,406.7M604.7,371.2L579.7,406.6L580.2,406.9L580.5,406.6M606.1,369.9L580.2,406.4L580.8,406.8L581,406.5M586.3,398.4L580.7,406.2L581.3,406.7L581.5,406.4M607.4,368.6L586.2,398.4L586.4,398.5L592.8,389.5M585.7,400L581.3,406.2L581.8,406.5L583.5,404.2M591.3,392L585.6,399.9L585.8,400.1L592.7,390.5M593.1,390.5L583.3,404.1L583.6,404.3L583.9,404M587.6,398.5L583.7,403.9L584.1,404.2L584.4,403.7M590.4,395L584.2,403.6L584.5,403.9L584.8,403.6M585,403L584.6,403.4L584.9,403.7L591.1,395.2M592.1,393.7L591,395.1L591.2,395.2L591.6,394.8M575.4,418.8L566.1,431.3L569.7,434.1L576.5,425.5M583.3,406.9L574.8,418.4L576,419.3L578.2,416.4M601.6,381.5L583.1,406.8L583.4,407L583.7,406.7M583.9,406.1L583.5,406.6L583.8,406.8L584.1,406.5M584.3,405.9L583.9,406.4L584.2,406.6L584.5,406.3M584.7,405.7L584.4,406.2L584.6,406.4L584.9,405.9M586.8,404L577.8,416.1L578.6,416.7L581.8,412.5M607.3,376.2L586.7,403.9L587,404.1L589.1,401.3M589.3,400.8L589,401.2L589.2,401.4L601,385.7M600.3,387L581.4,412.2L582.2,412.8L582.5,412.5M591,400.1L582,412.1L583,412.9L589,405M607.7,377.7L590.9,400L591.2,400.2L594.7,395.7M604,383.1L594.5,395.6L594.8,395.8L595.1,395.5M611.9,373.1L595,395.4L595.2,395.6L596.9,393.3M595.7,395.6L588.7,404.8L589.3,405.2L593.2,400.2M598.5,391.6L595.6,395.5L595.9,395.7L596.1,395.4M605.9,382.4L596,395.3L596.2,395.5L598.2,392.9M602.4,387.8L593,400.1L593.4,400.4L593.6,400M593.8,399.5L593.4,399.9L593.7,400.2L594,399.8M594.3,399.3L593.9,399.8L594.1,399.9L594.5,399.4M585.2,413L575.8,424.9L577.3,426.1L585.6,415.8M589.1,407L584.7,412.7L585.6,413.4L585.9,413M601.3,391L589,406.9L589.3,407.2L589.6,406.8M597.8,396L589.4,406.7L589.7,407L589.9,406.6M590.2,406.1L589.8,406.6L590,406.7L590.4,406.2M585.9,412.6L585.6,412.9L586.1,413.2L586.3,412.9M586.2,412L585.8,412.5L586,412.6L586.4,412.2M594.8,401.9L586.2,412.8L586.5,413L586.7,412.7M612.9,379.6L586.6,412.6L586.9,412.8L587.1,412.5M587.4,412L587,412.4L587.2,412.6L587.6,412.1M604.7,391.2L585.2,415.5L586.1,416.2L586.3,415.9M595.1,403.9L585.8,415.4L586.8,416.3L591,411.2M600.1,397.4L594.9,403.8L595.3,404L595.5,403.7M617,376.9L595.4,403.6L595.7,403.9L598.8,400.1M620.1,373.5L598.6,400L598.9,400.3L600.2,398.7M609.5,387L600,398.6L600.3,398.8L606,391.8M614.8,381.4L590.7,410.9L591.4,411.5L591.6,411.2M593,408.8L591.3,410.9L592,411.5L592.4,411M606.6,391.9L592.9,408.7L593.1,408.9L600.5,400M600.8,399.4L600.4,399.9L600.6,400L607,392.3M595.5,406.8L592.2,410.8L592.6,411.1L594.4,408.9M606.6,393.2L595.4,406.7L595.6,406.9L599.7,402M602.7,398.8L594.3,408.8L594.6,409.1L598.6,404.3M603.3,398.4L598.5,404.2L598.7,404.4L613.7,386.4M559.7,436.5L561.5,434.1M647.5,347L612.3,388.8L615.1,391.3L616.1,390.2M658.4,333.7L647.3,346.9L647.7,347.2L657.3,335.8M631,369.7L614.6,388.9L617.5,391.5L623.5,384.8M644,352.8L630.2,369.1L631.8,370.4L632.6,369.4M657.6,336.1L643.7,352.6L644.3,353.1L644.8,352.5M662.3,331.3L644.5,352.3L645,352.7L651.9,344.6M668.6,324.7L651.8,344.5L652.1,344.8L661,334.4M648.4,350.1L632.1,369L633.1,369.8L635.6,366.9M663,332.8L648.2,350L648.6,350.3L650.4,348.2M659.5,338.3L635.1,366.5L636.1,367.3L636.4,367M636.2,366.3L635.9,366.6L636.8,367.4L640.2,363.6M641.8,359.4L636,366.1L636.4,366.5L639,363.6M642.5,359.3L638.8,363.5L639.1,363.7L655.3,345.2M659.5,341.1L640,363.4L640.4,363.8L640.7,363.5M641.5,362.3L640.5,363.4L640.9,363.7L642.2,362.2M643.5,361.3L623,384.4L624,385.2L624.2,384.9M645.3,359.9L623.6,384.3L624.9,385.5L625.2,385.2M634,373.5L624.3,384.4L626.1,386L626.3,385.7M634.2,372.9L633.8,373.4L634.1,373.7L640.8,366.2M640.9,367.7L625.4,384.9L627.3,386.6L628.7,385.1M645,362.5L640.6,367.4L641.2,368L646.3,362.4M645.2,362L644.8,362.4L645.1,362.7L652.8,354.2M676.2,329L646.1,362.2L646.6,362.7L646.9,362.4M671.8,334.6L646.7,362.2L647,362.5L652.5,356.5M635,376.7L627.9,384.4L629.4,385.8L629.7,385.5M635.2,376L634.8,376.5L635.3,376.9L636.9,375.2M644.3,366.7L636.7,375L637.1,375.4L642.4,369.6M642.7,369L642.3,369.5L642.6,369.8L651.9,359.7M634.7,379.2L629.2,385L630.2,386L631,385.1M641.6,371.4L634.5,379.1L634.8,379.3L639.2,374.6M644,370.3L630.6,384.7L631.5,385.5L631.7,385.2M645,369L643.9,370.2L644.2,370.5L666.6,346.6M638.5,377.4L631.4,384.9L632.1,385.5L634.1,383.4M652.4,362.4L638.3,377.3L638.6,377.6L652.7,362.7M641.9,374.7L633.8,383.2L634.3,383.7L640.7,377M652.2,364.5L640.5,376.7L641,377.2L641.8,376.4M656.9,360.2L641.6,376.2L642,376.6L645.8,372.7M660.6,357L645.6,372.6L645.9,372.8L647.1,371.6M591.6,415.8L613.7,390M667.9,353.6L647.9,373.9L653.7,379.8L664.5,369.5M688.3,330.1L666.7,352.4L669.1,354.8L671.4,352.5M699.2,318.4L688.1,329.9L688.6,330.4L699.8,318.8M679.1,342.4L670.3,351.4L672.4,353.6L677.1,348.9M685.6,334.8L678.6,341.9L679.6,342.9L681.5,341M689.5,330.4L685.3,334.6L685.8,335L694.5,326.2M691.8,329.9L681.1,340.7L681.8,341.3L682.1,341.1M690.5,332.1L681.8,340.8L682.3,341.3L686.9,336.6M686.2,338.7L676.6,348.3L677.7,349.5L681.2,346.1M698.9,325.5L685.9,338.5L686.4,338.9L689.5,335.8M697.2,329.1L680.7,345.5L681.7,346.6L682,346.3M684.6,343L681.6,345.9L682.4,346.8L683.4,345.9M693.7,333.5L684.3,342.7L684.8,343.2L693,335.1M688,340.9L683.2,345.6L683.6,346.1L686,343.7M684.9,347.1L663.1,368.1L665.8,371L670.9,366.3M691.9,339.3L684.4,346.5L685.4,347.6L690.6,342.7M701.6,329.5L691.7,339L692.2,339.5L701.1,330.9M707,326.1L690.2,342.3L690.9,343.1L693.7,340.5M700.5,333.3L693.4,340.1L694,340.8L695.3,339.6M701,333.7L695.1,339.4L695.5,339.8L703.8,331.9M707,329.9L669.7,365.1L672,367.5L673.5,366.1M687.6,350.4L672.3,364.7L674.8,367.5L679.8,363M692.4,345L687.2,349.9L688.1,350.9L688.4,350.6M701.5,336L692.2,344.8L692.6,345.2L704.6,334M701,338.3L688.1,350.3L688.7,351L693.4,346.7M706.1,334.4L693.1,346.4L693.6,346.9L699.3,341.6M696.2,346L678.8,361.9L680.8,364L685.7,359.6M711.3,331.4L695.9,345.6L696.6,346.3L700.7,342.6M708.4,335.1L700.4,342.3L700.9,342.8L715.5,329.5M699.6,345.3L684.8,358.6L686.6,360.6L688.2,359.1M709.5,335.9L699.3,345.1L699.8,345.5L713.9,332.8M695.6,350.9L687.4,358.2L689,360L694,355.6M711.3,336.1L695.2,350.5L695.9,351.3L699,348.6M709.7,338.4L698.7,348.2L699.3,348.9L699.6,348.7M706.2,342.4L699.4,348.4L699.9,348.9L711.5,338.6M707.6,342.9L693.7,355.2L694.4,356L695.5,355M708.6,342.9L695.2,354.7L695.8,355.4L698.5,353M704.1,347.8L698.3,352.8L698.7,353.3L703.1,349.4M623.7,403.5L650.8,376.8M692.4,360.8L668.5,381.4L673.4,387.2L675.1,385.8M696.5,356.4L692,360.3L692.8,361.2L696.8,357.8M702.9,350.5L696.3,356.2L696.7,356.7L706.5,348.2M702.5,352.5L696.6,357.6L697,358L705.7,350.6M683.8,372.6L672.2,382.3L677.9,389.3L682.7,385.5M687.3,367.9L682.9,371.5L684.7,373.6L690,369.3M692.8,362.4L686.9,367.5L687.6,368.2L688.8,367.2M689,366.5L688.5,366.9L689.1,367.5L692.5,364.7M695.7,361.6L692.3,364.5L692.7,364.9L695.7,362.4M700.2,359.8L689.5,368.7L690.4,369.9L691.5,369M708.6,352.4L700,359.6L700.4,360.1L706.5,355M700.4,360.9L691.1,368.5L691.8,369.4L693.2,368.3M704.1,358.6L692.8,367.9L693.5,368.7L695.3,367.3M700.4,362.4L695,366.9L695.6,367.6L698.3,365.4M705.1,359.4L698.1,365.2L698.5,365.6L700.5,364M688.4,376.4L680.5,382.7L684.9,388.4L691.2,383.7M697.4,367.7L687.7,375.5L689.1,377.2L691.1,375.6M703,362.8L697.2,367.5L697.6,368L701.7,364.6M699.8,367.3L690.5,374.8L691.8,376.4L694.6,374.2M700.9,366L699.6,367.1L700,367.6L710.3,359.3M697.5,370.7L694.1,373.4L695.2,374.9L697.7,373M702.8,366.1L697.3,370.5L697.7,370.9L700.9,368.4M701.2,369.4L697.3,372.4L698.1,373.5L703.3,369.4M704.9,366L701,369.1L701.4,369.6L707.7,364.6M705.8,366.9L703,369.1L703.6,369.8L703.9,369.6M707.2,366.6L703.7,369.3L704.1,369.8L708,366.8M695.1,378.2L690,382.1L692.3,385.2L694.4,383.6M701.6,372.5L694.8,377.7L695.5,378.6L697,377.4M704,371.4L696.7,377L697.3,377.9L701.1,375M702.1,373.6L700.8,374.6L701.3,375.3L704.7,372.8M708.5,369.5L704.5,372.6L704.9,373.1L713.4,366.6M698.3,379.3L693.8,382.7L695.1,384.5L697.9,382.4M705.5,373.4L698.1,378.9L698.6,379.6L702.3,376.9M702.6,376.3L702.1,376.6L702.5,377.1L708.4,372.7M701.1,379.3L697.5,381.9L698.3,383L699.4,382.2M705,376L700.9,379L701.3,379.5L711.7,371.8M707.9,375.4L699.1,381.9L699.6,382.6L703.9,379.5M704.2,378.9L703.7,379.2L704,379.7L710.1,375.3M638.7,411.1L671,384.2M693.1,391.5L660.4,414.7L666.4,423.6L681.3,414.1M727.1,364.3L691.8,389.8L694.3,393.2L694.6,393M746.7,349.6L726.9,363.9L727.4,364.6L737.8,357.1M760.6,339.2L746.6,349.4L746.8,349.7L778.8,326.6M782.6,324.4L737.6,356.9L738,357.3L740.6,355.4M785.9,322.5L740.5,355.3L740.7,355.6L741.2,355.2M714.3,375.9L693.2,391L696.1,395.1L696.4,394.8M743.5,354.3L713.9,375.4L714.6,376.4L726.5,368M754,346.6L743.4,354.1L743.7,354.4L744.1,354.1M774.3,333.1L726.1,367.4L726.9,368.6L727.2,368.4M740.2,358.2L726.8,367.8L727.7,369L733.6,364.8M787,324.6L740,357.9L740.4,358.5L741.6,357.6M777,332.2L741.5,357.4L741.8,357.9L751.4,351.1M768.6,338.7L751.3,350.9L751.5,351.2L752,350.9M766.4,341.3L733.4,364.5L733.9,365.2L734.2,365M749.6,353.6L733.9,364.6L734.5,365.4L734.8,365.1M742.9,359L734.5,364.8L735,365.5L735.4,365.3M743.3,358.5L742.8,358.8L743,359.1L743.5,358.8M789.4,327.3L735.2,365L735.5,365.5L735.8,365.3M736.2,364.8L735.7,365.1L735.9,365.4L736.4,365.1M710.2,384L695.8,393.9L697,395.7L702.6,391.9M729.9,370.1L710,383.8L710.4,384.2L710.7,384M747.5,358.3L710.5,383.8L710.8,384.2L711.2,384M719.2,378.3L711.1,383.9L711.2,384.1L711.7,383.8M728,373.5L702.1,391.1L703.2,392.7L712.9,386.2M746.7,360.3L727.8,373.2L728.2,373.7L729.5,372.8M729.9,372.2L729.4,372.6L729.7,373L738.1,367.3M791.6,330.7L737.9,367.2L738.2,367.5L774.2,343.1M725.9,376.6L712.5,385.6L713.3,386.8L713.6,386.5M750.4,359.7L725.7,376.4L726.1,376.9L728.5,375.3M760.7,353.2L728.3,375L728.6,375.5L741.3,367M754.1,358.1L741.2,366.8L741.4,367.1L769.8,348.1M713.9,385.9L713.4,386.3L713.8,386.8L719.9,382.7M749.1,362.9L719.7,382.5L720.1,383L720.4,382.8M720.8,382.2L720.3,382.5L720.5,383L720.9,382.7M738.5,370.9L720.8,382.6L721,382.9L733.7,374.5M760,357.8L679.3,411L683.3,417.2L683.6,417M760.4,357.3L759.9,357.6L760.1,358L768.1,352.7M695.7,401.4L680.2,411.6L686.9,422.6L703.2,413.2M757,360.4L695.4,400.9L696,401.9L696.3,401.7M753.6,363.2L695.9,401L696.8,402.3L697.1,402.1M701.7,397.7L696.5,401.1L697.7,403.1L698.1,402.9M702.1,397.3L701.6,397.6L701.8,397.9L725.5,382.4M710.6,392.7L697.1,401.4L699,404.4L699.3,404.2M736.6,375.6L710.5,392.6L710.7,392.8L719.1,387.4M710.9,393.9L698.1,402.1L700.6,406.2L700.9,406M727.7,382.4L710.6,393.5L711.2,394.3L717.7,390.2M736.6,376.5L727.6,382.3L727.8,382.6L728.3,382.3M796,339.1L717.4,389.7L717.9,390.6L718.3,390.4M732.7,380.5L718,389.9L718.6,390.9L718.9,390.7M733.1,380L732.6,380.3L732.8,380.6L750.2,369.5M722.3,388L718.7,390.3L719.2,391.1L719.5,390.9M722.7,387.5L722.2,387.8L722.4,388.1L741.1,376.2M719.7,390.4L719.4,390.6L719.7,391.2L720.1,391M720.1,389.9L719.6,390.3L719.8,390.6L720.3,390.2M720.5,390.5L720,390.8L720.2,391.1L751.9,371.1M726.1,388.5L700.2,404.7L701.7,407.3L702.1,407M732.3,384.1L725.9,388.1L726.4,388.8L751.7,373M782.1,352.7L732.2,384L732.4,384.3L734.7,382.8M759.1,368L751.5,372.7L751.9,373.3L752.3,373.1M794.9,346.2L752.1,372.8L752.4,373.4L752.8,373.2M775.4,358.8L752.6,373L752.9,373.5L759.2,369.6M784.5,353.7L759.1,369.4L759.3,369.7L772.5,361.6M713.2,399.1L701.6,406.2L702.6,407.9L704.1,407M732.7,386.6L713,398.7L713.4,399.4L713.8,399.2M719.2,395.5L713.6,398.9L713.9,399.5L716.5,397.9M719.6,395L719.1,395.3L719.3,395.6L764.3,368M717,397.4L716.4,397.7L716.6,398L717.1,397.7M706.7,404.7L703.8,406.5L704.4,407.5L705.6,406.8M707.1,404.2L706.6,404.5L706.8,404.9L707.2,404.7M744.5,381.9L707.1,404.6L707.3,404.8L707.8,404.5M713.7,401.5L705.4,406.5L705.7,407.1L712.4,403.1M714.2,401L713.6,401.4L713.8,401.6L714.3,401.3M752.3,379L712.3,402.9L712.6,403.3L716.7,400.9M717.1,400.4L716.6,400.7L716.8,401L717.3,400.7M724.8,397.1L701.8,410.8L704.6,415.7L714.1,410.4M739.8,387.7L724.6,396.7L725,397.5L725.4,397.3M755.7,378.7L725.1,396.8L725.7,397.8L726,397.6M759.3,377L725.6,396.9L726.4,398.3L726.8,398.1M729.5,395.6L726.4,397.5L727.2,398.8L727.5,398.6M755.9,379.7L729.3,395.3L729.7,395.9L736.3,392.1M788.3,360.4L755.8,379.6L756,379.9L756.5,379.6M744.2,387.2L736.2,391.9L736.4,392.2L753.6,382.1M733,394.8L727.2,398.1L727.8,399.1L736.5,394.1M737.1,392.2L732.9,394.6L733.1,394.9L749.9,385.2M756.1,382.3L736.3,393.7L736.7,394.4L750,386.8M761.3,379L756,382.1L756.2,382.4L776.5,370.7M759.5,380.9L749.8,386.5L750.2,387.1L757,383.1M769.9,375.4L756.9,382.9L757.1,383.4L757.5,383.2M772.5,374.4L757.4,383L757.6,383.4L765.1,379.1M753.6,386.7L713.6,409.4L714.6,411.3L715,411.1M757.3,384.2L753.4,386.4L753.7,387.1L767.6,379.3M801.3,358.9L757.2,384L757.4,384.3L780.1,371.5M798.2,361.7L767.5,379.1L767.7,379.4L810.3,355.4M723.6,405L714.4,410.2L715.5,412.1L715.9,411.9M728.7,401.8L723.5,404.8L723.8,405.3L724.1,405.1M737.8,397.1L724,404.8L724.2,405.3L724.6,405.1M732,400.8L724.5,404.9L724.7,405.2L725.2,404.9M725,405.8L715.4,411.1L716.3,412.7L716.7,412.5M728.1,403.7L724.9,405.5L725.2,406L739.6,398M770,380.8L739.5,397.8L739.8,398.2L740.1,398M771.4,380.5L740,397.9L740.2,398.2L740.7,397.9M744.8,396L716.3,411.8L717.1,413.3L717.4,413.1M732.2,404L717,412.3L717.8,413.8L736.6,403.7M746.6,395.7L732,403.7L732.4,404.4L759.9,389.4M751.5,392.8L746.5,395.5L746.7,395.8L770.9,382.6M799.8,367.3L759.8,389.1L760,389.6L760.4,389.4M764.6,386.9L760.3,389.3L760.5,389.6L764.2,387.6M746.8,397.7L736.4,403.3L736.8,404.2L737.2,404M747.2,397.2L746.7,397.5L746.9,397.8L765.5,387.8M750,396.8L737,403.7L737.4,404.3L740.9,402.4M765.3,388.3L749.9,396.6L750.1,396.9L750.6,396.6M777.6,382.6L740.8,402.3L741,402.6L741.5,402.3M661.8,420.2L663.4,419.1M715.9,417.3L685.8,433.1L692.9,448.1L703.8,443.3M749.9,398.3L715.5,416.5L716.3,418L716.6,417.8M782.7,381.3L716,416.6L717.3,419.1L717.6,418.9M755.6,396.5L716.6,417L718.6,420.8L723.9,418.1M769.2,388.9L755.4,396.2L755.7,396.8L761.1,393.9M761.5,393.4L761,393.6L761.3,394.2L765.4,392M779.9,384.1L765.4,391.8L765.5,392.1L806.9,370.5M737.7,408.3L722.8,416L724.9,420.3L736.4,414.6M752.9,399.5L737.4,407.6L738.1,409L750.5,402.6M771.4,389.5L752.8,399.2L753.1,399.8L757.2,397.6M757.6,397.1L757.1,397.4L757.4,397.9L765.6,393.6M788.5,381.5L765.5,393.4L765.7,393.8L777.3,387.8M799.2,377L750.2,402.2L750.7,403.1L753.7,401.5M769.4,393L753.5,401.1L753.9,401.9L754.3,401.8M795.8,379.2L769.3,392.8L769.5,393.2L783.3,386.1M802.9,376.5L754.1,401.4L754.4,402.1L763.4,397.5M772.2,392.6L763.3,397.2L763.6,397.8L763.9,397.7M783.2,387.5L763.8,397.4L764.1,397.9L764.4,397.8M801.5,378.7L764.3,397.5L764.6,398L764.9,397.8M772.3,393.9L764.8,397.7L765,398L785.7,387.6M762.3,400.3L735.9,413.5L737,415.7L738.8,414.8M782.2,389.8L762.1,399.9L762.5,400.8L767.2,398.4M773.6,394.8L767,398.1L767.3,398.8L777.5,393.7M798.9,381.9L773.5,394.6L773.7,395L787.1,388.3M808.1,378.3L777.4,393.5L777.6,393.9L799.9,382.9M750,408.3L738.4,414L739.1,415.5L742,414.2M765.8,400.2L749.9,408L750.2,408.6L755.8,405.8M757.5,404.7L755.7,405.6L755.9,406.1L766.5,400.9M777.6,395.2L766.4,400.7L766.5,401.1L814.4,377.7M767,401.5L741.8,413.8L742.2,414.6L750.7,410.4M809.8,380.4L766.9,401.3L767.1,401.7L793.2,389M786.6,392.6L750.5,410.1L750.8,410.8L751.2,410.6M792.9,390L751,410.3L751.3,410.9L751.7,410.7M752.1,410.2L751.5,410.4L751.8,411L752.2,410.8M761.2,406.2L752.1,410.6L752.3,411.1L752.7,410.9M753.1,410.5L752.6,410.7L752.7,411.1L753.3,410.8M713.1,433.7L701.8,438.9L705.7,447.8L716,443.5M719.8,428.1L712.2,431.7L714,435.6L719.5,433.2M726.1,424.4L719.5,427.5L720.1,428.8L724.4,426.7M726.6,423.9L726,424.2L726.2,424.6L727.8,423.9M732,421.7L727.7,423.7L727.8,424L754.6,411.4M754.6,411.8L724.1,426.2L724.6,427.3L725,427.2M727.4,425.3L724.7,426.5L725.3,427.8L725.7,427.7M750.4,414.2L727.3,425L727.5,425.5L727.9,425.4M737.3,420.7L727.8,425.1L728,425.6L728.3,425.4M728.8,425L728.3,425.3L728.4,425.6L737.2,421.5M726,427L725.5,427.3L725.8,428L735.9,423.4M744.5,419L735.7,423.1L736,423.8L750.5,417.1M747.8,417.3L744.4,418.9L744.6,419.2L765.5,409.6M770.3,407.8L750.4,416.9L750.6,417.4L757,414.5M757.5,414.1L756.9,414.3L757.1,414.6L757.6,414.4M731.2,426.8L719.1,432.3L719.9,434.1L725.9,431.4M756.8,415.9L725.3,430.1L726.5,432.7L735.4,428.8M782.6,403.8L756.7,415.6L756.9,416.1L757.9,415.7M759,415L757.8,415.5L758,415.8L758.5,415.6M749,421.3L734.9,427.6L735.9,430L758.1,420.3M771.9,410.3L748.7,420.7L749.3,421.9L763.8,415.5M796.6,398.9L771.8,410L772.1,410.5L778.3,407.7M809.7,393.5L778.2,407.6L778.4,407.9L798.1,399.1M776.1,409.6L763.6,415.1L763.9,415.9L764.3,415.7M818.5,390.5L776.1,409.4L776.2,409.7L819.9,390.4M770.1,412.9L764.2,415.5L764.4,416L764.8,415.8M809.3,396L764.7,415.6L764.9,416L799.8,400.7M782.8,408.8L757.8,419.7L758.4,421L759.2,420.7M808.7,397.2L782.7,408.6L782.9,408.9L783.5,408.7M786.4,408L758.9,420L759.5,421.4L759.8,421.2M786.9,407.6L786.4,407.9L786.5,408.2L803.9,400.7M779,412.2L759.6,420.6L760.1,421.8L766.6,419.1M793.7,405.6L778.9,412L779.1,412.5L779.5,412.3M779.9,411.9L779.4,412.2L779.6,412.5L786.4,409.6M771.9,416.4L766.5,418.7L766.8,419.4L767.1,419.3M796.3,405.8L771.9,416.2L772,416.6L807.8,401.3M804.3,403.3L767.1,419.1L767.2,419.4L778.7,414.6M752.2,426.4L715.3,441.9L716.7,445.2L726.7,441.2M780.7,414.2L752.1,426.2L752.3,426.5L792.3,409.7M743.7,432L725.9,439.4L727.4,443L730,442M759.2,424.6L743.3,431.2L744,432.8L744.4,432.7M772.1,418.8L759.1,424.3L759.4,425L770.5,420.4M798.4,407.6L772.1,418.6L772.2,419L810.2,403.1M801.8,407.1L770.4,420.1L770.6,420.6L777.7,417.7M782.5,415.5L777.7,417.5L777.8,417.9L809.6,404.8M759.2,426.2L744.2,432.3L744.5,433.1L744.9,432.9M792.9,412.1L759.1,426L759.2,426.3L813,404.3M758.4,427.1L744.8,432.6L745,433.2L746.5,432.6M752.5,429.9L746.4,432.3L746.6,432.8L762.4,426.4M764.5,425.4L762.3,426.2L762.5,426.6L782.3,418.6M758.6,429.2L729.5,440.8L730.5,443.2L731.6,442.7M774.1,422.5L758.4,428.8L758.7,429.6L759.1,429.4M786.1,417.4L774,422.3L774.1,422.7L796.6,413.7M759.5,428.9L759,429.2L759.2,429.7L759.6,429.5M760,429.1L759.5,429.3L759.6,429.7L778.7,422.1M761.4,429.3L731.1,441.4L732.2,444.1L734.4,443.3M753.4,433.9L733.7,441.6L735,445L756.1,437.1M773.8,425.1L753.1,433.2L753.6,434.6L754,434.5M774.6,424.5L773.7,424.9L773.8,425.2L792,418.1M754.1,433.7L753.8,433.8L754.3,435.1L763.7,431.5M787,420.5L754,433.4L754.2,434L756.7,433M780,423.7L756.6,432.8L756.8,433.3L764,430.5M764.5,430.1L764,430.3L764.1,430.6L776.3,425.9M812.2,412.5L763.6,431.2L763.8,431.8L764.4,431.6M773,428L764.3,431.3L764.5,431.8L764.9,431.7M767.7,430.4L764.8,431.5L764.9,431.9L808.3,415.3M777.1,428.3L755.8,436.3L756.4,437.9L769.8,432.9M787,424.1L777,427.9L777.2,428.6L781.5,427M787.5,423.7L787,423.9L787.1,424.3L817,413M788.1,424.3L781.4,426.8L781.6,427.2L824.5,411.1M782.1,427.7L769.6,432.4L770,433.5L770.4,433.3M788.4,425L782,427.4L782.2,428L791.9,424.4M792.4,424L791.8,424.2L791.9,424.6L792.5,424.4M796,423.5L770.2,433L770.5,433.7L770.9,433.5M799.1,422.8L770.8,433.2L771,433.8L774.1,432.7M774.6,432.2L774,432.4L774.2,432.9L777.1,431.9M777.6,431.5L777,431.7L777.2,432.1L806.2,421.5M676.9,446.6L689.5,440.5M722.1,455.4L700.9,462.9L702.8,468.5L711.2,465.8M770,437.9L721.9,454.9L722.3,456L723.9,455.4M749.2,445.8L723.7,454.8L724.1,456L724.5,455.9M754.6,443.7L749.1,445.7L749.3,446L775.4,436.9M742.7,448.9L724.3,455.3L724.7,456.5L725,456.4M743.2,448.5L742.6,448.7L742.7,449.1L753.6,445.3M731.8,453.5L724.9,455.8L725.2,456.9L727.7,456M741,450.1L731.7,453.3L731.8,453.6L740.1,450.8M739.8,451.4L727.6,455.6L727.8,456.4L734.3,454.3M755.2,446L739.8,451.3L739.9,451.6L754,446.8M752.8,447.6L734.2,453.9L734.4,454.6L739.5,452.8M757.7,446.4L739.4,452.5L739.6,453.1L744.8,451.4M758.8,446.4L744.7,451.2L744.8,451.7L748.6,450.4M758.9,446.8L748.6,450.2L748.7,450.6L754.4,448.7M750,450.8L710.6,463.9L711.8,467.7L713.3,467.2M765.8,445.3L749.9,450.6L750.1,451.1L753.2,450.1M754.9,449.3L753.2,449.9L753.3,450.3L761.3,447.6M721.6,462.6L712.7,465.4L713.9,469L727.8,464.8M728.1,459.5L721.4,461.7L721.9,463.4L722.3,463.3M735.8,456.6L728,459.1L728.2,459.9L729.2,459.6M736.3,456.2L735.7,456.4L735.8,456.8L736.4,456.6M744.7,454.2L729.1,459.3L729.3,459.8L742.6,455.5M743.1,455.2L742.5,455.4L742.6,455.7L743.7,455.3M725.5,461.7L722.1,462.8L722.5,463.8L722.8,463.7M732.8,459.2L725.4,461.6L725.5,461.9L726.1,461.7M731.8,460.5L722.7,463.3L723,464.1L727.4,462.7M732.3,460.1L731.8,460.3L731.9,460.6L732.4,460.4M733,460.6L727.3,462.4L727.5,463L730.5,462.1M731,461.6L730.4,461.8L730.6,462.4L731,462.3M731.5,461.8L730.9,462L731.1,462.5L731.5,462.4M733,461.7L731.4,462.2L731.5,462.6L732.1,462.4M768.8,451.5L727.6,464.1L728,465.4L729.6,464.9M748.7,458.3L729.4,464.2L729.9,465.6L736.7,463.6M761.5,454.1L748.6,458.1L748.7,458.6L757.4,456M771.1,451.6L757.4,455.8L757.5,456.2L769.6,452.5M750.5,458.7L736.5,462.9L736.9,464.3L738.3,463.9M750.7,459.3L738,463.1L738.5,464.7L742.5,463.6M758.5,456.7L750.6,459L750.8,459.6L754.7,458.5M783.4,449.6L754.7,458.2L754.8,458.7L759.9,457.3M780.8,450.9L759.8,457.1L759.9,457.4L770.5,454.3M747.4,461.7L742.4,463.2L742.7,463.9L750.8,461.6M761.1,457.5L747.3,461.5L747.4,461.9L752.8,460.3M779.6,452.9L750.7,461.3L750.8,461.9L753,461.2M761.1,458.7L753,461.1L753.1,461.4L789,451.1M693.3,468.5L701.9,465.7M765.7,458.5L714.6,473.1L715.2,475.2L717,474.8M768.3,457.5L765.6,458.2L765.8,458.8L766.2,458.7M771.1,457.1L766.1,458.5L766.2,458.9L766.8,458.7M769,458.9L716.6,473.6L717.3,475.9L719.5,475.3M810.5,446.8L768.9,458.6L769.1,459.2L769.5,459.1M776.8,456.8L769.4,458.8L769.6,459.4L779.9,456.6M803.3,449.8L779.8,456.4L779.9,456.8L798.2,451.7M795.8,452.8L719.1,474L719.9,476.7L720.2,476.6M791.9,454.4L719.6,474.2L720.9,479.1L721.3,479M757.8,464.6L720.2,474.8L722.3,483.2L727.6,481.9M821.9,446.6L757.7,464.1L757.9,465.1L762.5,463.9M819.6,447.8L762.4,463.3L762.7,464.5L763.1,464.4M782,458.6L762.9,463.7L763.3,465.1L763.7,465M812.8,450.1L782,458.4L782.1,458.8L782.7,458.7M769.8,462.7L763.5,464.4L763.8,465.6L765.3,465.2M770.3,462.4L769.7,462.5L769.8,462.9L778.7,460.6M767.8,464.1L765.2,464.8L765.5,465.7L770.5,464.4M772.2,462.7L767.7,463.9L767.8,464.3L789.7,458.6M773.2,463.3L770.4,464L770.6,464.7L771,464.6M822.3,451L770.9,464.3L771.1,464.9L782.6,461.9M796.4,458.2L782.6,461.7L782.7,462.2L785.1,461.5M743.6,475.2L726.9,479.3L728.2,484.6L733,483.5M745.3,473L743.2,473.6L744,476.9L755.3,474.2M781,463.2L745.1,472.4L745.5,473.7L750.9,472.4M799.4,458.3L780.9,463L781,463.4L783.7,462.8M751.1,471.7L750.8,471.8L751,472.9L752.1,472.7M751.7,471.3L751.1,471.4L751.2,472L751.6,471.9M752.1,471.5L751.6,471.7L751.6,472.1L752.2,471.9M763.7,469.5L752.1,472.3L752.2,473L757.3,471.7M767.1,469L757.2,471.5L757.4,472L757.8,471.9M758.3,471.6L757.7,471.7L757.8,472.1L758.4,472M779.9,467.4L755.1,473.4L755.4,475L767.3,472.2M813.5,459.1L779.9,467.2L780,467.6L807.1,461.1M776.9,469.1L767.1,471.4L767.5,473L790.3,467.7M777.4,468.6L776.8,468.8L777,469.5L777.4,469.4M779.3,468.6L777.3,469.1L777.4,469.7L777.8,469.6M787.4,467.1L777.8,469.4L777.9,469.8L784.2,468.3M820.2,460.4L790.2,467.3L790.4,468.1L791.2,467.9M812.3,462.7L791.2,467.6L791.3,468.2L792.5,467.9M803.4,465.2L792.5,467.7L792.6,468.1L819.4,462M754.1,477.5L732.7,482.3L733.3,484.7L733.6,484.6M779.6,471.5L754.1,477.3L754.2,477.7L766.7,474.9M733.8,483.3L733.4,483.3L733.9,485.8L743.3,483.9M747.1,479.9L733.7,482.9L733.9,483.7L734.3,483.6M760.1,476.7L747,479.7L747.1,480L767.6,475.5M737.1,482.6L734.2,483.3L734.3,483.9L742.5,482.1M755.1,479L742.5,481.8L742.6,482.4L746.4,481.5M746.9,481.2L746.3,481.3L746.4,481.7L747,481.6M795.1,471.6L743.1,482.8L743.5,484.9L743.9,484.8M759.5,480.3L743.7,483.7L744.2,486L744.6,485.9M767.7,478.1L759.4,479.9L759.6,480.8L760,480.7M768.2,477.8L767.6,477.9L767.7,478.3L787.2,474.2M806.8,470.5L760,480.4L760.1,481L765,480M778.5,476.9L764.9,479.7L765,480.3L778,477.6M778.5,477.3L778,477.4L778,477.8L778.6,477.7M757.5,482.6L744.4,485.3L744.7,486.6L745.1,486.5M777.3,478.4L757.5,482.4L757.6,482.8L782.5,477.7M745.4,485.9L745,485.9L745.2,487L745.6,486.9M746.3,485.5L745.3,485.7L745.4,486L746.5,485.8M745.9,486.5L745.5,486.6L745.7,487.3L746,487.2M746.5,486.2L745.9,486.3L745.9,486.7L746.5,486.6M746.6,486.9L746,487L746.1,487.4L751.5,486.3M696.6,479.3L714.9,474.1M781.4,483.8L718.8,495.3L719.1,497.1L720.5,496.9M811.3,478.1L781.4,483.6L781.4,484L782,483.9M784.3,484.3L720.3,495.8L720.7,498L723.7,497.5M808.8,479.5L784.2,483.9L784.4,484.6L787.5,484.1M817.7,478.3L787.5,483.8L787.6,484.4L791.5,483.7M815.3,479.2L791.5,483.5L791.5,483.9L823.7,478.2M796.6,483.8L723.6,496.5L723.9,498.4L725,498.2M830.9,477.4L796.5,483.4L796.6,484.1L803.3,482.9M823.5,479.2L803.2,482.7L803.3,483.1L845.9,475.8M776.7,488.5L724.9,497.3L725.2,499.1L729.3,498.4M790.8,485.7L776.7,488.2L776.8,488.8L784.3,487.5M801.1,484.4L784.3,487.3L784.3,487.7L805.6,484.1M804.3,485L729.2,497.5L729.5,499.3L730,499.2M826.5,481.1L804.2,484.8L804.3,485.2L824.4,481.9M782.7,489.2L729.8,498L730.2,500.4L730.6,500.4M777.9,491.1L730.3,498.8L730.8,502L736.2,501.2M790.5,488.6L777.8,490.7L778,491.6L788.1,489.9M822.7,483.1L790.5,488.4L790.6,488.8L799.5,487.4M792.7,488.9L788.1,489.6L788.2,490.3L795.4,489.1M796.8,488.7L795.3,488.9L795.4,489.3L807.7,487.4M804.1,488.4L735.9,499.1L736.5,503.3L737.5,503.1M759.3,497.6L737.2,500.8L737.8,505.4L759.5,502.6M769.1,494.8L759.1,496.3L759.5,498.8L776,496.4M780.5,492.5L769,494.3L769.2,495.3L771,495M771.3,494.5L770.9,494.6L771,495.4L771.4,495.3M776.7,493.5L771.3,494.3L771.4,494.7L781.9,493.1M806.2,489.9L771.4,495.1L771.5,495.5L772.1,495.4M776.8,495.5L775.9,495.6L776.2,497.2L789,495.4M815.1,489.5L776.8,495.1L776.9,495.8L777.3,495.8M777.8,495.4L777.2,495.5L777.3,496.1L777.7,496M803.2,492.1L777.7,495.8L777.7,496.2L791.3,494.3M823.8,490.1L788.9,495L789,495.8L789.4,495.8M847.4,487.2L789.4,495.4L789.5,496.2L793.3,495.7M849,487.5L793.2,495.3L793.3,496L799.7,495.2M828.2,490.9L799.6,494.8L799.7,495.5L800.1,495.4M827.7,491.4L800.1,495.2L800.1,495.6L817.6,493.3M805.4,495.7L759.4,501.8L759.6,503.5L761.2,503.3M805.9,495.3L805.3,495.4L805.4,496L805.8,496M820.6,493.8L805.8,495.8L805.8,496.2L806.4,496.1M802.8,497.3L761.1,502.6L761.2,503.9L768.4,503M810.5,496.1L802.7,497.1L802.8,497.5L836.1,493.2M817.7,496L768.3,502.3L768.5,503.7L768.9,503.6M832,494.7L768.8,502.6L769,504.6L769.4,504.5M783.2,501.9L769.3,503.6L769.5,505.5L778,504.6M788.4,500.8L783.2,501.5L783.3,502.3L786.5,501.9M817.5,497L788.4,500.6L788.5,501L795,500.2M794.8,500.7L786.4,501.7L786.5,502.1L816.7,498.5M799.5,501.3L777.9,503.8L778.1,505.3L788.7,504.1M814,499.3L799.4,501L799.5,501.6L803.3,501.2M822.3,498.7L803.3,501L803.3,501.4L822.1,499.2M822.4,499.7L788.6,503.5L788.8,504.6L793.4,504.1M808.7,501.9L793.3,503.6L793.4,504.6L793.8,504.6M820.5,500.4L808.7,501.7L808.7,502.1L827.6,500M794.4,504.2L793.8,504.2L793.9,505L794.2,504.9M794.8,504.5L794.2,504.6L794.3,505.2L799.3,504.7M809.9,503.4L799.2,504.5L799.3,504.9L819.8,502.8M701.3,499.4L719,496.2M765.7,511.6L725.6,515.4L725.9,518.3L726.8,518.2M767.7,511.2L765.6,511.4L765.7,511.8L773.7,511.1M770.4,512.7L726.6,516.6L726.9,519.8L728.7,519.7M779.2,511.3L770.3,512.1L770.4,513.2L778.5,512.5M799.1,509.2L779.2,511.1L779.2,511.6L804.8,509.3M799.4,510.3L778.5,512.1L778.6,512.9L779,512.8M779.8,512.5L778.9,512.6L779,513.1L779.6,513M770.6,514.5L728.6,518L728.9,521.4L730.1,521.3M786,513L770.5,514.3L770.6,514.8L777.1,514.2M769.7,515.7L729.9,518.9L730.3,523.7L731.6,523.7M793.7,513.4L769.6,515.3L769.7,516.2L776.4,515.6M803.5,513.1L776.4,515.3L776.4,516L783.2,515.5M785.7,515L783.2,515.2L783.3,515.7L802,514.3M762.6,518.1L731.4,520.4L731.8,527L733.4,526.9M770.4,517.2L762.6,517.8L762.6,518.5L764.8,518.3M782.1,516.8L764.7,518.1L764.8,518.5L779.6,517.5M750.7,521.7L733.2,522.8L733.6,531L739.8,530.8M767.3,519.2L750.6,520.4L750.8,523.1L758.7,522.6M786.6,517.5L767.3,518.8L767.3,519.7L767.9,519.6M788.6,517.9L767.9,519.3L767.9,520L772.7,519.7M792,518.2L772.6,519.4L772.7,519.9L784.2,519.2M782,520.1L758.6,521.5L758.7,523.7L761.2,523.6M801,518.7L782,519.8L782,520.3L785.6,520.1M772.2,522.1L761.2,522.7L761.3,524.5L761.7,524.5M780.4,521.2L772.1,521.6L772.2,522.6L782.8,522M796.8,520L780.4,520.9L780.4,521.4L793.3,520.7M786.6,521.6L782.8,521.8L782.8,522.3L810.3,520.8M783.1,522.8L761.7,523.9L761.7,525.1L767.4,524.8M777.8,523.8L767.4,524.3L767.4,525.3L767.8,525.3M779.4,523.4L777.8,523.5L777.8,524L789.6,523.5M788.7,524L767.8,525L767.8,525.7L771.4,525.5M796.3,524.2L771.3,525.3L771.4,525.8L780.6,525.4M748.4,527.8L739.7,528.1L739.8,533.5L745.1,533.4M753.4,527L748.3,527.2L748.4,528.4L751.7,528.3M763.3,527.3L751.6,527.7L751.7,528.8L755.9,528.7M777.3,526.5L763.3,527L763.3,527.5L774.9,527.1M780,527.4L755.9,528.2L756,529.1L756.4,529.1M756.9,528.7L756.3,528.7L756.4,529.5L756.8,529.5M763.8,528.9L756.8,529.1L756.8,529.9L764,529.7M781.7,528.8L764,529.4L764,530.1L768.9,529.9M777.6,529.4L768.9,529.7L768.9,530.2L782.8,529.8M765.2,531.4L745,531.9L745.1,534.9L750.7,534.9M765.6,531L765.2,531L765.2,531.9L765.6,531.9M772.6,530.5L765.6,530.7L765.6,531.2L770.2,531.1M766.2,531.6L765.6,531.7L765.6,532.1L773.2,532M762,533.4L750.7,533.6L750.7,536.1L756,536.1M762.4,532.9L762,532.9L762,533.9L762.4,533.9M777.8,532.4L762.4,532.7L762.4,533.1L784.6,532.7M776.4,533.4L762.4,533.6L762.4,534.3L762.8,534.3M763.4,534L762.8,534L762.8,534.5L763.4,534.5M759.8,535.4L756,535.4L756,536.8L758.3,536.8M766.7,534.9L759.8,535L759.8,535.7L760.2,535.7M760.8,535.5L760.2,535.5L760.2,535.9L765.9,535.9M758.9,536.4L758.3,536.4L758.3,537.2L760.1,537.2M769.6,536.8L760.1,536.8L760.1,537.5L760.5,537.5M761.1,537.3L760.5,537.3L760.5,537.8L761.1,537.8M703.9,518.8L725.8,516.8M814.4,538.4L753.7,538.3L753.5,548.1L754.1,548.1M828.8,538.2L814.4,538.2L814.4,538.6L823.7,538.6M785,541.5L754.3,541.1L753.7,555.1L761.1,555.5M798.4,539.7L785,539.7L785,543.3L787.3,543.3M802.4,539.2L798.4,539.2L798.4,540.3L798.8,540.3M808.1,538.9L802.5,538.9L802.4,539.5L802.9,539.5M803.5,539.3L802.9,539.3L802.9,539.7L811.6,539.7M806.4,540L798.8,540L798.8,540.6L805.8,540.7M815.2,540.5L805.8,540.4L805.8,541L810.9,541M815.5,540.9L810.9,540.8L810.9,541.2L816.9,541.3M797.9,541.9L787.3,541.8L787.3,544.9L790.3,544.9M798.5,541.4L797.9,541.4L797.9,542.3L802.1,542.4M803.6,542.1L802.1,542L802.1,542.8L803,542.8M804.2,541.9L803.6,541.9L803.6,542.2L804.7,542.3M812.8,542.7L803,542.6L803,543L816.3,543.2M796.2,543.8L790.4,543.7L790.3,546.1L799.5,546.4M810.3,543.6L796.3,543.4L796.2,544.3L796.6,544.3M819.6,543.6L810.3,543.5L810.3,543.8L810.9,543.8M810.5,544.2L796.6,544L796.6,544.6L797,544.6M798,544.3L797,544.3L797,544.9L797.4,544.9M798,544.7L797.4,544.7L797.4,545.1L798,545.1M808.9,546L799.5,545.7L799.5,547L804.1,547.1M819.7,545.9L808.9,545.7L808.8,546.2L809.2,546.3M816.3,546.2L809.2,546.1L809.2,546.4L809.8,546.5M812.9,546.9L804.1,546.7L804.1,547.6L804.5,547.6M807.2,547.3L804.5,547.2L804.5,548L811.4,548.2M807.8,547.2L807.2,547.1L807.2,547.5L807.8,547.5M816.2,548.2L811.4,548L811.4,548.4L812,548.4M779.4,551.5L761.4,550.7L760.8,560.4L769.6,561.1M792.8,550L779.5,549.5L779.3,553.5L786.3,553.9M797.2,549L792.8,548.9L792.8,551.2L796.9,551.4M802.5,548.7L797.2,548.5L797.2,549.6L797.6,549.6M804.5,548.5L802.5,548.5L802.4,548.8L803,548.9M804.8,549.5L797.6,549.2L797.6,549.9L799.3,550M824.6,550L804.8,549.3L804.8,549.7L805.4,549.7M799.9,549.9L799.3,549.8L799.3,550.2L803.7,550.4M801,550.9L796.9,550.7L796.9,552.1L797.8,552.1M812.4,551.1L801,550.6L801,551.2L802.7,551.2M806.3,551.2L802.7,551.1L802.7,551.4L810,551.7M807.7,552.2L797.8,551.8L797.7,552.5L798.1,552.5M809.8,552.1L807.7,552L807.7,552.4L816.5,552.8M800,552.4L798.2,552.3L798.1,552.7L798.7,552.7M788.8,552.9L786.4,552.8L786.3,554.9L790.9,555.2M805.1,553.4L788.8,552.6L788.8,553.2L789.2,553.2M792.6,553.1L789.2,553L789.1,553.5L789.5,553.5M790.2,553.4L789.6,553.3L789.5,553.7L790.1,553.7M809.1,555.4L791,554.4L790.9,556L791.3,556M825.7,556L809.1,555.1L809,555.6L809.4,555.7M811.2,555.6L809.5,555.5L809.4,555.9L814.6,556.1M793.3,555.6L791.3,555.5L791.3,556.6L791.7,556.6M798,555.6L793.3,555.3L793.2,555.9L793.6,555.9M794.3,555.7L793.7,555.7L793.6,556.1L794.2,556.1M806.4,557.2L791.7,556.3L791.6,557L792,557M792.6,556.7L792.1,556.7L792,557.3L792.4,557.3M793,557.1L792.4,557.1L792.4,557.6L792.8,557.6M793.4,557.5L792.8,557.4L792.8,557.8L793.4,557.8M788.9,558.7L769.9,557.4L769.3,564.9L774.1,565.3M793.7,558.4L788.9,558.1L788.8,559.2L792.9,559.5M801.2,558.7L793.7,558.2L793.7,558.6L794.8,558.6M815.4,560.4L792.9,558.9L792.8,560.2L793.6,560.2M798.3,559.9L793.6,559.6L793.5,560.9L797.4,561.2M809.8,560.4L798.3,559.6L798.3,560.2L807.8,560.8M810.3,560.8L807.8,560.6L807.8,561L824.1,562.2M803.6,561.3L797.5,560.8L797.4,561.6L797.8,561.7M806.3,561.3L803.6,561.1L803.6,561.5L811.8,562.1M807.9,562.1L797.8,561.4L797.8,561.9L798.2,562M798.8,561.8L798.2,561.8L798.2,562.1L798.8,562.2M783.6,563.1L774.4,562.3L773.8,568.4L785.5,569.6M793,562.4L783.7,561.7L783.5,564.5L787.4,564.8M811.6,563.6L793,562.1L793,562.8L794,562.9M801.2,563.1L794,562.5L793.9,563.2L801.7,563.8M813.8,564.5L801.7,563.5L801.6,564.1L802,564.1M812.3,564.8L802,563.9L802,564.3L812.3,565.1M788.5,564.1L787.5,564L787.4,565.6L788.7,565.8M793.7,564.1L788.5,563.7L788.5,564.5L794.6,565M802.2,564.7L793.7,564L793.6,564.3L797.8,564.7M797.3,565L794.6,564.8L794.6,565.3L795,565.3M795.6,565.2L795,565.2L795,565.5L795.6,565.6M807.3,567L788.7,565.3L788.6,566.2L791.2,566.5M791.6,566.1L791.2,566.1L791.1,566.9L799.6,567.7M792.2,566L791.6,565.9L791.6,566.3L794.8,566.6M800.2,567.4L799.6,567.4L799.5,567.9L805.7,568.5M811,568.8L805.7,568.3L805.7,568.7L815.6,569.7M798.7,568.9L785.7,567.6L785.3,571.5L794.8,572.6M815.1,570L798.8,568.4L798.7,569.5L799.1,569.5M804.7,569.6L799.1,569L799,570L799.4,570M806.3,569.5L804.7,569.4L804.6,569.7L812.4,570.5M805.8,570.2L799.5,569.6L799.4,570.5L799.8,570.5M808.6,571.1L799.8,570.2L799.7,570.9L800.1,570.9M823.1,572.4L808.6,570.9L808.5,571.3L812,571.6M814.7,572.3L800.2,570.8L800.1,571.1L800.7,571.2M804.7,572.6L794.9,571.5L794.7,573.7L795.1,573.8M805.2,572.2L804.8,572.2L804.7,573L807.9,573.4M810.1,572.6L805.2,572L805.1,572.4L806.6,572.6M820.2,574.4L807.9,573.1L807.9,573.6L811.2,574M814.5,574.2L811.3,573.8L811.2,574.2L814,574.5M803.2,574L795.1,573.1L795,574.5L796.2,574.6M803.8,573.8L803.2,573.7L803.2,574.2L814.3,575.5M824.2,576.5L814.3,575.3L814.2,575.7L823.7,576.8M796.6,574.2L796.2,574.2L796.1,575L807.8,576.4M798.1,574.2L796.6,574L796.6,574.4L803,575.2M810.1,576.4L807.8,576.1L807.7,576.8L810.8,577.1M823.3,578.3L810.9,576.8L810.8,577.4L811.2,577.5M812,577.4L811.2,577.3L811.2,577.6L823.2,579.1M756.6,543.3L753.6,543.2M778.3,577L761.3,574.7L759.1,588.1L766.9,589.5M797.1,576.6L778.7,574.3L778,579.6L778.9,579.7M807.9,577.6L797.1,576.3L797.1,576.9L797.5,577M804,577.5L797.5,576.7L797.4,577.3L797.8,577.3M801,577.5L797.8,577.1L797.8,577.5L799.3,577.7M788.4,578.3L779.3,577.1L778.5,582.4L786,583.5M795.6,577.9L788.6,577L788.2,579.6L790.2,579.9M798.4,577.9L795.6,577.6L795.6,578.2L796.7,578.4M799.7,578.5L796.7,578.1L796.6,578.6L802,579.3M802.8,579.2L802,579.1L802,579.5L804.8,579.9M796.9,579.8L790.3,578.9L790.1,580.9L792.6,581.3M803.5,580.3L796.9,579.4L796.8,580.2L797.2,580.3M808.8,580.8L803.5,580.1L803.4,580.4L809.1,581.2M803.6,580.8L797.3,580L797.2,580.5L797.6,580.6M801.5,580.9L797.6,580.4L797.6,580.8L801.4,581.3M794.8,581L792.7,580.7L792.5,581.8L796.4,582.4M796.3,581L794.9,580.8L794.8,581.3L795.2,581.4M795.8,581.3L795.2,581.2L795.2,581.5L795.8,581.6M805.2,583.3L796.4,582.1L796.3,582.7L798.5,583M802.4,583.3L798.6,582.8L798.5,583.3L801.6,583.8M804,583.9L801.7,583.6L801.6,583.9L806.7,584.7M790.8,583L786.2,582.4L785.8,584.6L789.3,585.2M796.8,583.6L790.9,582.7L790.8,583.4L793.5,583.8M797.8,584.1L793.6,583.5L793.5,584L794.7,584.2M799.2,584.7L794.7,584L794.6,584.4L797.1,584.8M797.6,585.5L789.4,584.2L789.1,586.1L793,586.7M798.2,585.3L797.6,585.2L797.6,585.8L797.9,585.8M801.5,586.2L798,585.6L797.9,586L803.5,586.9M793.5,586L793.1,585.9L792.8,587.5L793.4,587.6M798.9,586.5L793.5,585.7L793.4,586.3L795.4,586.6M796,586.4L795.4,586.3L795.3,586.9L797.6,587.2M803.5,588L797.6,587.1L797.6,587.4L810.1,589.4M804.8,589L793.5,587.1L793.3,588.1L793.7,588.1M798.5,588.5L793.8,587.7L793.7,588.5L795.8,588.9M809.6,590.1L798.5,588.3L798.4,588.7L804.2,589.6M801.4,589.5L795.9,588.6L795.8,589.2L796.2,589.2M797.8,589.3L796.2,589.1L796.1,589.4L797.9,589.7M785.5,589.6L767.4,586.5L766.3,592.6L769.2,593.2M790.4,589.4L785.7,588.6L785.4,590.6L790.6,591.5M792.3,589.3L790.5,589L790.3,589.8L791.4,590M793.2,589.3L792.4,589.2L792.3,589.5L796.9,590.3M797,590.7L791.5,589.7L791.4,590.3L791.8,590.3M796.6,591L791.8,590.2L791.8,590.5L797.6,591.5M795.3,591.7L790.7,590.9L790.5,592.1L793.6,592.6M795.9,591.6L795.3,591.5L795.3,591.9L800.7,592.8M799.5,593.2L793.7,592.1L793.5,593.1L794,593.2M803.8,593.7L799.5,593L799.5,593.3L803,594M805.9,594.9L794.1,592.7L793.9,593.7L796.5,594.2M799.1,594.2L796.5,593.7L796.4,594.6L800.8,595.4M802.2,594.6L799.2,594L799.1,594.4L803.7,595.2M806.8,596.2L800.8,595.1L800.7,595.6L801.1,595.7M807.8,596.7L801.2,595.5L801.1,595.9L803.7,596.4M787.8,594.3L769.6,590.9L768.7,595.5L769.2,595.6M792.3,594.6L787.8,593.8L787.7,594.7L788.1,594.8M793.2,595.4L788.1,594.4L788,595.1L790.3,595.5M797.2,595.9L793.2,595.2L793.2,595.5L794,595.7M795.3,596.3L790.3,595.4L790.2,595.7L790.9,595.8M783.2,596.4L769.6,593.7L768.8,597.6L770.9,598M785.3,595.6L783.4,595.3L783,597.5L787,598.2M795,597L785.4,595.2L785.2,596.1L785.6,596.2M786.8,596L785.7,595.8L785.6,596.5L785.9,596.6M791.7,596.7L786.8,595.8L786.8,596.1L789.2,596.6M786.6,596.5L786,596.4L785.9,596.9L786.3,597M790,597.5L786.3,596.8L786.3,597.1L786.8,597.2M791,598.6L787.1,597.8L786.9,598.7L788.3,599M791.7,598.6L791.1,598.5L791,598.8L791.6,598.9M792.8,599.5L788.4,598.7L788.3,599.3L789.3,599.5M795.2,600.4L789.3,599.2L789.2,599.7L789.6,599.8M790.5,599.8L789.7,599.6L789.6,600L793.1,600.7M790.9,600.6L771.2,596.6L770.6,599.5L770.9,599.6M791.2,601.1L771.5,597L770.4,602.2L770.8,602.3M775.8,600.6L771.4,599.6L770.1,605L773.9,605.9M781.1,600.2L776.1,599.1L775.5,602L777.6,602.5M786.1,600.6L781.2,599.6L780.9,600.7L784.4,601.4M794.7,602.2L786.2,600.4L786.1,600.9L788.5,601.4M791.7,601.9L788.5,601.2L788.4,601.6L797.3,603.4M791.9,602.7L784.5,601.1L784.3,601.8L784.7,601.8M787.5,602.1L784.8,601.5L784.6,602.1L787.8,602.8M794.8,604.1L787.8,602.6L787.7,603.1L789.2,603.4M790.9,603.6L789.2,603.2L789.1,603.6L789.7,603.7M782,602.7L777.7,601.7L777.4,603.2L779.3,603.7M786.3,603.3L782.1,602.4L782,602.9L784.3,603.4M785.1,603.4L784.3,603.2L784.2,603.6L784.9,603.7M781.7,603.7L779.4,603.2L779.2,604.2L782.9,605M783.6,603.8L781.7,603.4L781.6,603.9L784.8,604.6M785.6,604.6L784.8,604.5L784.7,604.8L785.3,604.9M783.5,604.9L782.9,604.8L782.8,605.3L783.2,605.4M783.8,605.3L783.2,605.2L783.2,605.5L783.7,605.7M778.1,605.3L774.3,604.4L773.6,607.3L777.7,608.3M785,606.3L778.2,604.8L777.9,605.9L778.8,606.1M783,606.5L778.9,605.5L778.6,606.6L779,606.7M791.3,608.1L783.1,606.2L783,606.8L783.4,606.9M784,606.8L783.4,606.7L783.3,607L783.9,607.2M779.7,606.5L779.1,606.4L779,607L779.9,607.2M782.5,607.6L779.9,607L779.8,607.5L784.8,608.6M789.7,609.6L784.8,608.5L784.7,608.8L785.3,609M783.3,609L777.9,607.7L777.6,608.9L781.4,609.9M789.4,610.3L783.3,608.8L783.2,609.2L783.8,609.3M782,609.4L781.6,609.3L781.3,610.4L781.7,610.5M782.7,609.4L782.1,609.3L782,609.6L786.5,610.7M782.2,610.2L781.8,610.1L781.6,610.9L782,611M782.8,610.2L782.2,610L782.1,610.4L782.7,610.5M782.6,610.9L782.1,610.7L781.9,611.2L782.3,611.3M783.5,611.5L782.4,611.2L782.3,611.5L782.9,611.7M753.4,580.3L760.3,581.4M784.8,615.4L757.7,608.3L754,621.3L763.3,624.2M806,618.4L785.4,613.2L784.2,617.6L784.6,617.7M806.5,618.1L806.1,618L805.9,618.7L806.3,618.8M809.8,618.7L806.5,617.9L806.4,618.3L814.2,620.2M808.7,619.2L806.3,618.6L806.2,619L808.3,619.5M795.5,618.2L785.2,615.5L784,619.8L793.6,622.4M807.7,620.3L795.7,617.2L795.2,619.2L795.6,619.3M812.3,621.1L807.7,619.9L807.6,620.7L808,620.8M814.1,621.4L812.4,620.9L812.3,621.3L812.9,621.4M818,623.1L808,620.6L807.9,620.9L810.8,621.7M796.2,618.6L795.8,618.5L795.4,620L800.1,621.3M799.9,619.3L796.3,618.3L796.1,618.9L804.6,621.1M815.1,623.6L804.6,620.9L804.5,621.4L804.9,621.5M814.6,623.8L804.9,621.3L804.8,621.7L809.9,623M806.5,622.5L800.2,620.8L800,621.7L807.1,623.6M810.4,624.1L807.2,623.2L807,624L810,624.8M814.1,624.9L810.4,623.9L810.3,624.3L815,625.5M818.4,626.8L810.1,624.6L810,624.9L820.8,627.9M805.6,624.5L793.9,621.3L793.3,623.5L798.6,625M806.5,624.4L805.6,624.2L805.5,624.8L805.9,624.9M817.1,627.6L805.9,624.6L805.8,625.2L806.2,625.3M806.8,625.2L806.2,625.1L806.1,625.4L810.3,626.6M803.9,625.8L798.8,624.4L798.4,625.7L801.1,626.4M808.5,626.7L804,625.4L803.8,626.1L811.6,628.3M809.1,626.6L808.5,626.5L808.4,626.8L818.7,629.7M823.1,631.3L811.7,628.1L811.6,628.5L812.1,628.6M811.3,628.8L801.3,626L801,626.9L805.8,628.2M806.3,628L805.9,627.9L805.7,628.6L808.4,629.3M818.6,631.3L806.3,627.8L806.2,628.2L819,631.7M826.3,634.2L808.4,629.2L808.3,629.5L814.1,631.1M782.1,624.7L764.7,619.6L761.8,628.8L773.9,632.8M795.7,626.9L782.6,623.1L781.7,626.2L783.4,626.7M802.4,628.4L795.8,626.5L795.6,627.3L795.9,627.4M803,628.4L802.5,628.2L802.4,628.6L811.3,631.1M800.9,628.5L796,627.1L795.8,627.7L796.2,627.8M796.9,627.8L796.3,627.6L796.2,628.1L796.5,628.2M801,629.3L796.6,628L796.5,628.4L797.1,628.6M794.2,628.4L783.8,625.4L783,628.1L785.9,628.9M797.6,629.1L794.3,628.1L794.1,628.8L799.8,630.4M820.1,636.1L799.9,630.1L799.7,630.7L802.3,631.5M812.3,634.2L802.4,631.3L802.3,631.8L804.7,632.5M817.7,636.2L804.7,632.3L804.6,632.7L805.2,632.9M791,629.3L786.2,627.9L785.5,630L790.5,631.5M796.4,630.6L791,629L790.9,629.6L797.8,631.7M800.2,632.1L797.9,631.4L797.7,632L804.2,633.9M808.6,635L804.2,633.7L804.1,634.1L812.2,636.5M799.8,633.4L790.8,630.7L790.3,632.3L796.2,634.2M804.3,634.5L799.9,633.2L799.7,633.7L800.1,633.8M800.7,633.8L800.2,633.6L800.1,634L800.6,634.2M802.1,635.3L796.4,633.5L796,634.8L799.9,636.1M804.3,635.7L802.2,635L802,635.6L802.4,635.7M811.2,638.2L802.5,635.5L802.3,635.9L802.9,636M800.4,635.8L800,635.7L799.8,636.4L811.5,640.1M803.1,636.5L800.5,635.7L800.4,636L800.9,636.2M822.5,643.3L811.5,639.9L811.4,640.2L812.5,640.6M789.5,634.9L774.7,630.2L773,635.4L779.6,637.7M792.6,635.3L789.7,634.4L789.4,635.5L795.3,637.4M794,635.3L792.7,634.9L792.5,635.6L792.9,635.7M804.4,638.4L794.1,635.2L794,635.5L794.5,635.7M797.9,637.1L792.9,635.5L792.8,635.9L793.4,636.1M815.6,643.6L795.4,637.1L795.2,637.8L797.3,638.4M813.1,643.2L797.4,638.1L797.2,638.8L798.8,639.3M813.9,643.8L798.9,639L798.7,639.6L799.6,639.9M807.4,642.1L799.7,639.6L799.5,640.1L804.7,641.9M821.9,647.3L804.8,641.7L804.7,642L814.5,645.2M788.8,638.8L780.2,635.9L778.9,639.4L785.6,641.7M798.8,641.1L789.1,637.9L788.5,639.6L792.7,641M803.3,642.2L799,640.7L798.7,641.5L799.1,641.7M812.7,645.1L803.4,642L803.2,642.3L804.3,642.7M799.7,641.6L799.2,641.4L799,641.9L805.2,644M818.2,648.1L805.2,643.8L805.1,644.1L810.5,645.9M800.7,643.2L792.8,640.6L792.5,641.4L792.9,641.5M801.3,643.3L800.7,643.1L800.6,643.4L801.2,643.6M799.9,643.6L793,641.3L792.8,641.8L793.3,642M803.3,645.1L793.3,641.7L793.2,642.3L797.9,643.9M806.8,646.7L798,643.7L797.8,644L800.1,644.8M799.7,645.4L786,640.7L785.2,642.8L792.6,645.4M810.7,648.8L799.8,645.1L799.6,645.7L802.5,646.8M803.8,646.8L802.6,646.5L802.4,647.1L802.8,647.2M806.1,648.1L802.9,646.9L802.7,647.5L803.1,647.6M803.7,647.6L803.2,647.4L803,647.8L803.6,648M809.9,650.6L792.9,644.6L792.3,646.1L792.7,646.2M800.5,648L793,645.4L792.4,647.1L799.9,649.7M808.6,650.5L800.6,647.7L800.4,648.3L801.4,648.7M804.1,649.3L801.5,648.4L801.3,649L804.1,649.9M811.1,652.2L804.1,649.7L804,650.1L806.3,650.9M809.1,652.5L800.1,649.3L799.8,650.2L802.3,651.1M820,656.2L809.1,652.3L809,652.7L820.2,656.6M814.6,655.1L802.5,650.7L802.2,651.4L804.3,652.2M821.1,657.8L804.4,651.8L804.2,652.5L806.1,653.2M812.7,655.2L806.2,652.9L806,653.5L808.3,654.3M820.3,658.4L808.4,654.1L808.2,654.6L809.7,655.1M821.3,659.2L809.7,655L809.6,655.3L818.4,658.5M746.3,612.1L755.9,614.9M796.6,651.2L754.4,635.8L750.6,645.7L751,645.9M797.3,651.2L796.7,651L796.6,651.4L797.1,651.6M771.2,647.3L753.2,640.4L748.7,651.3L757.8,655.3M781.9,648.5L772.1,644.8L770.2,649.8L774.7,651.5M792.9,651.3L782.4,647.4L781.5,649.7L789.2,652.6M797.1,652.2L793.1,650.7L792.7,651.8L793,651.9M801,653.4L797.1,652L797,652.4L802.4,654.4M793.5,651.7L793.2,651.6L792.9,652.3L793.3,652.4M798.9,653.5L793.6,651.5L793.5,651.9L794,652.1M799.3,654.5L793.3,652.2L793.2,652.6L793.8,652.8M797.9,655L789.5,651.8L788.9,653.4L794.1,655.3M802.8,656.6L798,654.8L797.9,655.2L798.4,655.4M794.9,654.8L794.4,654.6L793.8,656.1L795,656.5M807.5,659.2L795,654.5L794.8,655.1L796.8,655.9M802.1,657.6L796.9,655.6L796.7,656.2L799.3,657.2M805,659.1L799.4,657L799.2,657.3L799.8,657.6M806.4,660.5L795.2,656.2L794.9,656.9L799.2,658.5M807.7,661.5L799.3,658.2L799.1,658.9L799.5,659M809.8,662.7L799.6,658.7L799.4,659.3L799.7,659.4M801.8,660L799.8,659.2L799.7,659.6L800.2,659.8M787.9,655.6L775.1,650.6L774.4,652.5L775.5,652.9M795.1,658.2L788,655.5L787.9,655.8L795.8,658.9M795.7,659.3L776,651.6L775,654.2L775.3,654.3M784,655.8L776,652.7L774.6,656L776,656.6M792.4,658.4L784.2,655.2L783.8,656.5L788.2,658.3M791.2,658.7L788.5,657.6L788,658.9L790.6,660M793.9,659.4L791.3,658.4L791.1,658.9L795.4,660.7M799.5,662L795.5,660.5L795.4,660.8L804.4,664.4M796.5,661.9L790.7,659.6L790.5,660.3L790.8,660.5M799.7,663L796.6,661.7L796.4,662.1L805.2,665.6M791.5,660.5L790.9,660.3L790.8,660.6L795.8,662.7M781.5,657.7L776.4,655.6L775.6,657.6L776,657.7M785.4,658.9L781.6,657.3L781.3,658L783.4,658.8M792.6,662.2L783.6,658.5L783.3,659.1L787,660.7M794.7,663.5L787.1,660.4L786.9,660.9L793.2,663.5M793.8,663.5L793.3,663.3L793.1,663.7L798.4,665.8M776.6,657.5L776.2,657.3L775.8,658.1L777.9,659M781,659.1L776.6,657.3L776.5,657.6L777.5,658M784.9,661.5L778.1,658.7L777.8,659.3L778.2,659.5M783.5,661.3L778.3,659.2L778,659.8L778.4,659.9M779.1,659.9L778.5,659.7L778.3,660.2L780.7,661.2M783.6,662.2L780.8,661L780.6,661.4L784.9,663.1M782.6,663L758.8,652.9L756.8,657.6L758.4,658.3M794.3,667.5L782.8,662.7L782.5,663.3L782.9,663.4M784.1,663.6L783,663.2L782.8,663.7L783.1,663.8M783.8,663.9L783.2,663.7L783.1,664L783.6,664.2M779.2,664L759.6,655.6L757.2,661L759.8,662.2M792.9,668.9L779.6,663.2L778.9,664.8L779.3,665M800.3,671.8L793,668.6L792.8,669.2L793.1,669.3M793.8,669.4L793.2,669.2L793.1,669.5L797.7,671.5M789.9,668.8L779.6,664.3L779,665.6L780.3,666.2M795,670.8L790,668.6L789.9,669L790.7,669.3M784.1,667.2L780.6,665.7L780.1,666.7L782.3,667.7M785.1,667.3L784.2,667L784,667.5L784.4,667.6M788.9,669.4L784.5,667.5L784.3,667.8L784.9,668.1M784.9,668.5L782.5,667.4L782.2,668L782.6,668.2M783.2,668.2L782.7,667.9L782.4,668.4L782.8,668.6M787.6,670.5L782.9,668.4L782.7,668.8L783.3,669M775.7,667.2L760.6,660.4L759,664L762.2,665.5M778.8,667.7L776,666.5L775.4,667.8L775.8,668M783.3,669.4L778.9,667.5L778.7,668L783.7,670.2M787.7,671.8L783.8,670.1L783.6,670.4L793.8,674.9M776.3,667.8L776,667.6L775.6,668.4L776.4,668.7M777.8,668.2L776.4,667.6L776.2,667.9L779,669.2M783.7,671.7L776.5,668.5L776.2,669L780.8,671.1M793.2,676.4L780.9,670.8L780.7,671.4L786.9,674.2M791.8,676.2L787,674L786.8,674.3L794.2,677.7M781.9,672.8L762.8,664.1L761.5,666.9L764.3,668.2M784.9,673.9L782,672.6L781.8,673.1L782.2,673.3M788.8,676.1L782.2,673.1L782.1,673.4L789.9,677M789.3,677.2L765.3,666.1L763.4,670.2L763.7,670.4M765.5,668.6L764.7,668.2L762.7,672.6L764.3,673.4M770.9,669.8L766,667.5L765,669.7L767.7,671M777.2,672L771.1,669.2L770.6,670.3L771,670.5M775.1,671.8L771.2,670L770.8,671L771.1,671.1M781.4,674.4L775.2,671.5L775,672L779,673.9M787.6,677.7L779.1,673.7L778.9,674.1L779.5,674.3M772.5,671.5L771.2,670.9L771,671.4L771.4,671.5M772,671.6L771.4,671.4L771.3,671.7L771.8,672M773.3,673.1L767.9,670.5L767.5,671.4L767.9,671.6M768.4,671.4L768.1,671.2L767.7,672L768,672.1M772.3,673L768.5,671.2L768.3,671.5L771.9,673.2M768.7,672.1L768.2,671.9L767.9,672.4L768.3,672.6M768.9,672.6L768.4,672.4L768.2,672.8L768.5,673M769.2,673.1L768.6,672.9L768.4,673.2L769,673.4M772.4,675.8L764.9,672.2L763.7,674.6L764.6,675M773.1,675.8L772.5,675.6L772.3,676.1L777,678.3M782.4,680.7L777,678.1L776.9,678.5L779.5,679.8M772.8,677.6L765.2,673.9L764.1,676.2L765.2,676.8M775.2,678.3L773,677.2L772.7,678L773.1,678.2M780.1,680.5L775.3,678.1L775.2,678.5L777.1,679.4M776.6,679.6L773.2,677.9L772.9,678.4L773.3,678.6M779.4,681.4L773.4,678.4L773.2,678.8L775.8,680M766,676L765.6,675.8L764.7,677.7L765.8,678.3M766.7,676L766.1,675.7L765.9,676.3L766.2,676.4M766.9,676.5L766.3,676.2L766.1,676.7L766.5,676.9M768.6,677.7L766.5,676.7L766.4,677L768,677.9M767.1,678.1L766.1,677.6L765.5,678.9L765.9,679.1M769.1,678.8L767.2,677.9L767,678.4L771.7,680.7M772.7,681L771.8,680.5L771.6,680.9L772.1,681.2M766.4,678.9L766,678.7L765.7,679.4L766.3,679.7M767,679L766.5,678.7L766.3,679L770.5,681.1M772.4,682.5L766.4,679.5L766.1,680L768.5,681.2M773.7,683.6L768.6,681L768.5,681.4L773.4,683.9M738.5,635.4L752.5,640.8M758.9,679.5L743.1,671.3L738,680.7L742.5,683.3M770.1,683.7L759.5,678.2L758.3,680.7L761.7,682.5M772.7,684.2L770.4,683.1L769.8,684.3L774.7,686.8M778.6,687L772.8,684L772.6,684.5L774.8,685.6M781.2,688.7L774.9,685.5L774.7,685.8L780.4,688.7M776.9,687.5L774.9,686.5L774.5,687.2L776.6,688.3M777.5,687.6L777,687.3L776.8,687.6L782.1,690.4M781.6,690.5L776.7,688L776.5,688.5L777.5,689M779.7,690L777.5,688.9L777.4,689.2L777.9,689.5M779.3,690.6L762.1,681.6L761.3,683.3L761.6,683.5M769,686L762.2,682.4L761,684.5L761.7,684.9M773.7,688.1L769.2,685.7L768.9,686.3L769.2,686.5M772.3,687.8L769.4,686.2L769.1,686.8L769.4,686.9M775.5,689.8L769.5,686.7L769.3,687.2L769.6,687.4M770.3,687.5L769.7,687.2L769.6,687.5L770.1,687.8M772.4,689.7L762,684.2L761.3,685.5L762.5,686.1M777.7,692.2L772.5,689.5L772.2,690L776.6,692.3M778.5,693.1L776.7,692.1L776.5,692.4L781.8,695.3M769.3,689L762.8,685.5L762.2,686.7L763.5,687.4M766.6,688.3L763.8,686.8L763.1,688.1L764.7,689M772.9,691.3L766.7,688L766.5,688.5L769.6,690.2M770.3,690.3L769.7,690L769.5,690.3L771.4,691.4M769.7,691.1L764.9,688.5L764.4,689.4L764.8,689.6M770.3,691.2L769.8,690.9L769.6,691.2L770.2,691.5M766,689.8L765,689.3L764.6,690L764.9,690.2M769.4,691.5L766.1,689.7L765.9,690L767.4,690.8M767.8,691.4L765.1,689.9L764.8,690.4L765.1,690.6M768.9,692.4L765.2,690.4L765.1,690.7L768,692.4M753.8,687L743.6,681.3L741.4,685.2L745.2,687.4M758.6,688L754.5,685.8L753.1,688.2L755.9,689.8M767.8,692.7L758.8,687.7L758.4,688.4L763,691M766.2,692.2L763.2,690.5L762.8,691.4L766.4,693.4M771.5,695.7L766.6,693L766.2,693.7L769.1,695.4M775.1,697.5L771.6,695.6L771.4,695.9L771.9,696.2M774.6,698.1L769.3,695.1L769,695.6L770.7,696.5M773.2,697.7L770.8,696.4L770.6,696.7L771.5,697.2M761.3,692.2L756.2,689.3L755.6,690.3L756,690.5M765.6,694.3L761.4,691.9L761.1,692.4L766.3,695.3M767.3,695.7L766.4,695.1L766.2,695.4L774.5,700.1M761.3,693.1L756.1,690.2L755.8,690.7L757.4,691.6M759.1,692.2L757.6,691.4L757.3,691.9L757.6,692.1M762.9,694.8L757.7,691.9L757.5,692.3L757.8,692.5M758.4,692.7L757.9,692.4L757.7,692.7L758.3,693M763.2,696.2L745.8,686.3L744.6,688.5L744.9,688.7M764.4,697.3L746,686.8L743.8,690.5L744.1,690.8M752.6,693L745.3,688.7L742.9,692.8L744,693.4M757.9,694.9L753.1,692.1L752.1,693.8L757,696.7M761.8,696.5L758.1,694.4L757.6,695.3L762.2,698M764.6,697.8L761.9,696.3L761.6,696.7L762,696.9M768.5,700.5L762.1,696.8L761.9,697.1L765.8,699.3M768.1,701.1L762.4,697.8L762.1,698.2L762.4,698.4M763,698.6L762.5,698.3L762.3,698.6L764.3,699.7M759.2,697.4L757.2,696.2L756.7,697.1L764.7,701.8M761.5,698.5L759.3,697.2L759.1,697.5L763,699.8M768.5,703.7L764.9,701.5L764.5,702.1L767.6,704M773.7,706.5L768.6,703.5L768.4,703.8L771,705.3M771,705.8L767.7,703.8L767.5,704.1L772.6,707.1M756.7,698.3L745.2,691.5L742.9,695.4L744.3,696.3M757.3,698.5L756.8,698.2L756.6,698.5L758.9,699.9M750.7,697.4L745.6,694.2L743.1,698.3L746.2,700.3M755.2,698.9L751.2,696.6L750.3,698.2L750.6,698.4M755.8,698.7L755.4,698.5L754.9,699.4L757.3,700.9M756.4,698.8L755.9,698.5L755.7,698.9L756,699.1M759.7,701.2L756.1,699L755.9,699.3L756.4,699.6M761.9,703.3L757.5,700.6L757.2,701.1L757.6,701.3M758.2,701.5L757.6,701.1L757.5,701.4L758.1,701.8M751.4,698.2L750.9,697.9L750.3,698.8L750.7,699M751.3,698.7L751,698.5L750.3,699.6L750.7,699.8M751.9,698.9L751.4,698.6L751.2,698.9L751.7,699.2M751.3,699.5L751,699.3L750.4,700.2L750.8,700.4M751.9,699.7L751.4,699.4L751.2,699.7L751.7,700M751.3,700.3L750.9,700.1L750.6,700.7L750.9,700.9M752.3,700.8L751.4,700.2L751.2,700.5L751.7,700.8M753.3,702.2L751,700.8L750.8,701.1L751.3,701.4M753.1,703.6L746.7,699.6L745.8,701L746.9,701.7M754.8,704.1L753.3,703.2L752.9,703.9L754.4,704.8M757.1,705.4L754.9,704L754.7,704.3L755.2,704.6M758.2,706.9L754.5,704.6L754.2,705L754.6,705.2M755.2,705.4L754.6,705.1L754.5,705.4L755,705.7M760.3,709.4L747.2,701.2L746.6,702.1L747,702.3M755.9,707.1L747.3,701.7L746.6,702.9L746.9,703.1M749.9,704.1L747.4,702.5L746.5,703.8L746.8,704M753,705.7L750,703.8L749.8,704.3L750.1,704.5M750.7,704.7L750.2,704.4L750,704.6L750.5,705M747.9,704L747.2,703.5L746.5,704.6L746.8,704.8M748.5,704.1L748,703.8L747.8,704.1L750.3,705.7M747.5,704.5L747.2,704.3L746.5,705.4L746.8,705.6M748.1,704.7L747.6,704.3L747.4,704.6L747.9,705M747.4,705.4L747.1,705.1L746.5,706L746.9,706.2M748.1,705.5L747.6,705.1L747.3,705.6L747.6,705.8M748.2,706L747.7,705.6L747.5,705.9L748,706.3M747.5,706.3L747,706L746.7,706.4L747,706.7M747.6,706.8L747.1,706.5L747,706.8L747.5,707.1M723.9,666.9L740.6,676M692,673.1L674.7,661.7L670.6,667.6L687.4,679.5M725.4,693.6L692.6,672.2L691.4,674L695.1,676.4M745.8,706.5L725.5,693.3L725.2,693.8L733.7,699.3M774,725.4L733.8,699.2L733.6,699.5L752.7,712.1M723,693.3L695.8,675.4L694.4,677.5L699.2,680.7M732.6,699.4L723.1,693.2L722.9,693.5L723.4,693.8M720.1,693.1L699.9,679.7L698.5,681.7L712.7,691.4M736.6,703.3L720.4,692.6L719.8,693.6L726.2,697.9M783,733.6L736.8,703.1L736.5,703.6L737.5,704.3M780.8,732.7L737.6,704.1L737.4,704.4L753.2,714.9M760.6,720.4L726.4,697.6L726,698.2L726.9,698.8M755,717.2L727,698.5L726.7,699L729,700.5M729.6,700.7L729.1,700.4L728.9,700.7L764.5,724.6M738.6,708.1L713.1,690.9L712.4,691.9L722.9,699M767.5,727.2L738.8,707.8L738.4,708.3L746.2,713.6M767.8,727.9L746.3,713.4L746.1,713.8L785.2,740.3M768.2,729.3L723.1,698.7L722.6,699.4L726.2,701.8M735.3,707.4L726.4,701.4L725.9,702.2L731.8,706.2M759.3,724.4L732.1,705.8L731.5,706.6L735.7,709.5M736.2,709.3L735.9,709.1L735.4,709.8L735.7,710M736.8,709.5L736.3,709.2L736.1,709.5L782.7,741.6M757.2,724.6L735.9,709.9L735.6,710.2L761.5,728.1M711.3,694.2L688.2,678.2L686.5,680.7L694.9,686.7M712,694.3L711.5,693.9L711.1,694.5L711.4,694.7M750.6,721.6L711.6,694.5L711.2,695L713.2,696.4M725.5,704.7L713.4,696.2L713,696.6L721.5,702.5M722.1,702.7L721.6,702.4L721.3,702.7L721.8,703M721.4,703.9L695.6,685.7L694.2,687.7L694.5,688M728.7,708.6L721.6,703.6L721.2,704.2L739,716.8M729.3,708.8L728.8,708.4L728.6,708.7L758.5,729.8M757.5,729.7L739.1,716.7L738.8,717L769,738.4M697.4,688.7L695.2,687.1L693.8,688.9L699.1,692.7M734.8,714.6L697.7,688.2L697.1,689.1L705.4,695.1M727.1,709.9L705.7,694.6L705.1,695.5L719,705.6M747.5,724.2L727.2,709.7L727,710L743,721.6M727.1,710.9L719.3,705.2L718.8,705.9L722.2,708.3M727.7,711.1L727.2,710.7L727,711L747.6,725.9M752.6,730L722.3,708.2L722.1,708.5L727.9,712.7M701.3,693.9L699.3,692.4L698.9,693.1L700.3,694.1M721.1,708.8L700.5,693.8L700,694.4L700.4,694.6M728.4,714.6L700.6,694.3L700.1,695L700.4,695.2M700.9,695.2L700.6,694.9L700.2,695.5L705.8,699.7M701.5,695.4L701.1,695L700.8,695.3L708.6,701.1M721.8,711.2L705.9,699.5L705.7,699.8L706.2,700.2M666.9,660.7L672.7,664.7M707.5,705.2L686,688.9L680.5,695.9L697.1,709.4M720.4,712.8L708.5,703.9L706.4,706.6L715.5,713.5M727.2,716.7L721,712.1L719.9,713.5L724.9,717.3M746,730.2L727.4,716.4L727,717.1L729.1,718.7M740.5,726.7L729.4,718.4L728.9,719L733.8,722.6M748.6,733.3L733.9,722.4L733.7,722.8L743.1,729.8M733.5,723.2L725.2,717L724.7,717.6L726,718.6M744.5,732.1L726.2,718.3L725.8,718.9L729.7,721.9M747.3,734.9L729.9,721.7L729.6,722L740.2,730M740.4,731.1L716.1,712.6L714.8,714.3L717,716M750.6,738.6L740.6,731L740.3,731.3L756,743.3M736.2,729.3L717.7,715.1L716.3,717L719.1,719.2M747.2,737.2L736.4,729L736,729.6L740.1,732.7M752.9,742.2L740.2,732.5L739.9,732.9L748.4,739.4M732.5,728.3L719.8,718.4L718.5,720L726.8,726.5M744.4,737L732.7,727.9L732.2,728.6L732.7,728.9M752.2,743.6L732.9,728.6L732.4,729.2L735.4,731.5M749,741.8L735.5,731.3L735.2,731.7L750.7,743.7M742.8,738.2L727.2,726L726.5,727L729.8,729.6M737.1,734.7L730.1,729.2L729.5,730L733.7,733.4M742.2,738.3L737.3,734.5L737,734.9L746.2,742.1M747.4,743.7L734,733.1L733.5,733.7L733.8,733.9M747,744L734,733.7L733.7,734.1L740,739.1M726.2,729.3L698.7,707.3L695.4,711.4L701.6,716.5M741,740.5L726.4,728.9L725.9,729.6L729.8,732.8M746.8,745.8L730.1,732.4L729.6,733.1L733.6,736.4M746.7,746.3L733.9,736.1L733.4,736.6L733.7,736.9M738.2,740.2L733.9,736.7L733.6,737.1L739.2,741.6M720.7,729.1L703.1,714.6L700,718.3L712.1,728.5M733.5,738L721.4,728.3L720.1,729.9L724.1,733.1M747.4,748.8L733.7,737.8L733.2,738.3L735.9,740.5M746.8,749L736,740.3L735.7,740.6L742.6,746.2M731.2,738L724.5,732.6L723.6,733.7L730.7,739.5M749.2,752.3L731.4,737.8L730.9,738.3L735.1,741.7M749.9,753.5L735.2,741.5L734.9,741.9L743.3,748.8M742.8,749L731,739.3L730.5,739.8L731.3,740.5M742.4,749.4L731.5,740.3L731.1,740.6L742.3,749.9M727.2,739.4L712.9,727.4L711.2,729.5L719.8,736.8M735.9,745.7L727.6,738.8L726.7,739.9L733.8,745.9M745.1,752.9L736.1,745.4L735.6,745.9L737.5,747.5M753.5,760.6L737.6,747.3L737.3,747.7L741.8,751.4M749.3,758.4L734.1,745.6L733.6,746.2L738,749.9M751.3,760.8L738.2,749.7L737.9,750.1L744.7,755.9M734.9,748.6L720.3,736.2L719.3,737.4L722.4,740.2M745.3,757.1L735.1,748.4L734.8,748.7L745.4,757.8M731.3,746.8L722.9,739.6L722,740.7L726,744.2M747.1,759.9L731.4,746.6L731.1,746.9L736.9,751.9M734.5,750.8L726.3,743.8L725.6,744.6L731,749.2M743.4,758.1L734.7,750.6L734.4,751L743.6,758.9M748.4,763.7L731.2,749L730.8,749.5L734.4,752.6M748.2,764.3L734.5,752.4L734.2,752.8L745.5,762.6M663.6,677L683.3,692.4M675.7,714.5L659.2,699.1L647.8,710.4L654.7,717.8M693.9,726.3L678,711.9L673.3,717L677.1,720.7M694.8,726L694.5,725.7L693.3,727L693.6,727.2M695.4,726.2L695,725.7L694.6,726.2L709.5,739.7M734.2,761.7L709.7,739.5L709.4,739.9L709.7,740.2M710.2,740.4L709.8,740L709.5,740.3L710,740.7M694.3,727.1L694,726.8L693.3,727.6L693.6,727.9M694.8,727.4L694.4,727L694.2,727.2L694.6,727.6M694.1,727.9L693.8,727.6L693.3,728.2L696.1,730.7M694.7,728.1L694.2,727.7L694,728L728.5,759.6M708.5,741.7L696.3,730.5L695.9,730.9L696.2,731.2M698,732.6L696.4,731L696,731.4L696.3,731.7M696.9,732L696.4,731.5L696.2,731.8L696.7,732.2M697.8,735.4L679.5,718.3L674.8,723.2L681.2,729.5M721.4,755.9L698.6,734.6L697.1,736.2L702.9,741.7M731.9,765.3L721.6,755.7L721.3,756L744.3,777.4M717.2,753.5L703.7,740.9L702.1,742.5L707.4,747.6M721.8,757.3L717.5,753.2L717,753.9L720,756.7M732.4,766.8L721.9,757.1L721.7,757.4L727.6,762.9M747.7,782.2L720.1,756.5L719.8,756.9L720.1,757.1M733,769.1L720.2,757L719.9,757.3L737.1,773.4M716,754.5L708,747L706.8,748.2L712.5,753.6M719.1,757L716.2,754.3L715.8,754.7L716.1,755M716.7,755.2L716.2,754.8L715.9,755.2L717.9,757.2M725.2,763.8L718.1,757.1L717.8,757.3L726.9,766M715.5,755.9L712.8,753.3L712.3,753.9L714.3,755.9M720.6,760.5L715.7,755.8L715.4,756L717.1,757.6M725.8,766.5L714.5,755.7L714.1,756.1L716.6,758.5M732.7,773.7L716.8,758.4L716.5,758.6L737.1,778.4M690.2,735.5L682.5,728.1L679.8,730.9L684.4,735.4M695,738.9L690.8,734.9L689.5,736.2L691.4,738M708.5,751.5L695.2,738.7L694.8,739.1L695.1,739.4M719.4,762.5L695.3,739.2L694.9,739.6L695.2,739.9M695.8,740.1L695.4,739.7L695,740.1L695.3,740.4M712,756.3L695.4,740.2L695.2,740.5L695.9,741.2M699.9,745.8L691.6,737.8L691.1,738.3L711.4,758.2M700.4,746.1L700,745.7L699.8,745.9L722,767.6M717.4,763.7L711.6,758L711.2,758.4L711.5,758.6M712.1,758.9L711.6,758.5L711.4,758.8L711.8,759.2M697.2,746.4L685.3,734.5L683.5,736.3L692,744.9M707.9,756.1L697.6,746L696.9,746.7L706.8,756.6M723.5,771.3L708,756L707.8,756.3L734.9,783M715,764.1L707.1,756.3L706.6,756.9L714.1,764.3M731.8,780.5L715.1,764L714.8,764.3L735.2,784.5M727.6,777.5L714.2,764.2L713.9,764.4L714.4,764.9M704.3,755.8L692.7,744.2L691.3,745.5L695.4,749.7M717.2,768.2L704.6,755.6L704.1,756.1L706.6,758.6M717.8,769.3L706.8,758.4L706.4,758.8L706.6,759.1M707.3,759.3L706.8,758.9L706.4,759.3L706.7,759.6M707.3,759.9L706.9,759.4L706.6,759.7L707,760.1M720.3,774L695.8,749.3L695.1,750.1L695.3,750.4M699.1,753.4L695.7,750L694.9,750.7L695.2,751M706,760.2L699.2,753.3L699,753.5L699.4,753.9M702.9,758.3L695.5,750.7L694.9,751.3L695.2,751.6M709.6,764.8L703.1,758.2L702.8,758.4L715.2,771.1M697.8,753.8L695.4,751.4L695,751.8L700.9,757.8M709.7,766.5L701,757.6L700.7,758L706,763.5M720.9,778.5L706.1,763.4L705.9,763.7L740.8,799.6M671.9,730.9L657.1,715.5L652.3,720L656.4,724.5M684.5,742.1L672.8,730L671,731.8L671.3,732M672.4,731.5L672.1,731.2L670.4,732.9L671.9,734.4M673.2,731.3L672.9,731L671.9,732L676.4,736.8M673.8,731.5L673.4,731.1L673,731.5L673.3,731.8M673.9,732L673.5,731.6L673.1,731.9L673.4,732.2M676.6,735.3L673.5,732.1L673.3,732.3L673.7,732.8M706.1,767.4L676.7,736.6L676.2,737.1L681.7,742.9M714,775.3L706.3,767.2L706,767.5L706.4,767.9M684.3,745.2L681.8,742.7L681.5,743L681.8,743.3M691.1,752.9L681.9,743.2L681.6,743.4L686,748M688.7,751.4L672.3,734L671.5,734.8L679.6,743.4M692.6,756.4L680,743L679.2,743.8L679.4,744.1M708.4,772.7L692.8,756.2L692.4,756.6L705.7,770.7M706.3,771L705.9,770.6L705.6,770.8L728.8,795.5M680.2,744.3L679.8,743.8L679.1,744.4L679.4,744.7M679.9,744.7L679.7,744.5L679.1,745L679.4,745.3M680.5,745.1L680.1,744.6L679.8,744.9L682.2,747.4M680,745.5L679.6,745.1L679.2,745.4L680,746.3M706,774L680.1,746.1L679.9,746.4L687.3,754.3M697.1,765.5L657.9,723.1L654.9,725.9L655.1,726.2M657.2,724.9L657,724.6L653.2,727.9L653.5,728.2M664.4,731L658.1,724.1L656.4,725.6L656.7,725.9M665,731.3L664.6,730.8L664.2,731.2L669.2,736.5M675.4,743L669.3,736.4L669,736.7L669.4,737.2M669.9,737.5L669.5,737.1L669.3,737.3L669.7,737.7M659.6,727.9L657.3,725.3L656.1,726.5L665.5,737M660.2,728L659.9,727.7L659.4,728.1L662.2,731.2M660.7,728.3L660.3,727.9L660,728.1L660.5,728.5M662.7,731.5L662.3,731L662,731.3L664.8,734.4M665.3,734.7L664.9,734.3L664.7,734.5L665.1,734.9M670.9,742.1L665.9,736.6L665.1,737.4L667.3,739.9M671.4,742.4L671,741.9L670.7,742.2L694.1,768M667.9,739.9L667.7,739.6L667,740.2L668.8,742.2M674.8,747.2L668.1,739.7L667.8,740L668,740.3M678.6,751.9L668.1,740.2L667.9,740.4L668.3,740.9M672.6,746.1L668.9,742.1L668.6,742.4L676.9,751.7M699.8,777.2L677,751.6L676.8,751.8L693.2,770.3M681.3,757.5L654.5,727.3L652.5,729.1L653.7,730.5M657.2,732L654.9,729.4L652.4,731.6L653.9,733.3M658,731.8L657.7,731.5L656.7,732.4L667.1,744.2M658.5,732.2L658.1,731.7L657.9,731.9L658.3,732.4M672.1,749L667.6,743.8L666.6,744.7L666.9,745M676.8,753.9L672.3,748.8L671.9,749.2L672.2,749.5M672.7,749.8L672.3,749.3L672,749.6L672.2,749.9M683.5,762.5L672.4,749.8L672.1,750L686,765.9M681.5,761.3L667.1,744.8L666.7,745.2L682.9,763.9M690.8,772.5L683.1,763.7L682.7,764L700.9,785M701.5,785.3L701.1,784.9L700.8,785.1L719.7,807M660.5,739.6L654.6,732.7L653.1,734L662.7,745.2M661.7,740.5L660.7,739.4L660.3,739.8L660.5,740.1M661.7,741L660.7,739.9L660.3,740.3L665,745.7M668.8,749.8L665.2,745.6L664.8,745.9L665.1,746.2M665.6,746.5L665.2,746.1L664.9,746.4L665.1,746.7M665.7,747L665.3,746.6L665,746.8L677,760.8M695.3,782.9L663,745L662.4,745.5L665.7,749.4M669.1,752.8L666,749.1L665.4,749.6L665.6,749.9M669.6,753.1L669.2,752.7L668.9,752.9L675.3,760.4M680.9,767.6L665.8,749.7L665.4,750.1L665.7,750.4M696.5,786.5L665.9,750.3L665.5,750.6L665.7,750.9M666.3,751.2L665.9,750.8L665.6,751L666,751.4M645.8,697.1L653.6,704.8M685.7,775.8L643.9,725.9L639.4,729.6L639.7,729.9M686.3,776.2L685.9,775.7L685.6,776L690.1,781.4M660.6,748L643.3,727.1L636.2,732.7L639.3,736.8M685,776L661.3,747.4L659.9,748.5L661.6,750.5M682.7,773.8L662.6,749.6L660.5,751.4L665.8,758M678.3,770.2L667.2,756.8L664.4,759.1L672.3,769M686.7,779.6L678.7,769.9L677.9,770.5L680.3,773.4M694.6,788.9L686.8,779.4L686.5,779.7L686.9,780.2M705.9,803.8L680.6,773.2L680,773.7L680.3,774M690.8,786.2L680.6,773.8L680,774.2L683.7,778.7M684.3,778.9L683.9,778.5L683.4,778.9L683.7,779.2M687,783L683.8,779.1L683.5,779.3L688.5,785.5M674,769.3L673.2,768.3L671.4,769.7L673.6,772.4M680.2,776.3L674.3,769L673.6,769.6L676.8,773.5M680.8,776.6L680.4,776.2L680.1,776.4L693.8,793.3M695.2,795.8L677.1,773.3L676.6,773.7L688.1,787.9M688.6,788.3L688.2,787.8L687.9,788.1L691.6,792.7M682.2,782.2L674.1,772.1L673.1,772.8L679.5,780.8M703.9,808.7L682.5,782L682,782.4L684.4,785.3M708.3,815L684.5,785.2L684.2,785.5L684.6,785.9M695.3,800.1L679.8,780.6L679.2,781.1L679.5,781.4M680.1,781.6L679.7,781.2L679.2,781.6L679.5,781.9M680.7,783.1L679.6,781.7L679.3,782L690.9,796.7M670,771.4L641.5,735.1L637.1,738.4L638.2,740M683.1,787.5L670.2,771.2L669.7,771.6L672.5,775.2M694.7,802.9L672.7,775L672.3,775.3L677.4,781.9M677.9,782.3L677.6,781.8L677.2,782L677.6,782.5M671.1,775.5L641.6,737.4L634.8,742.5L635,742.8M687.8,796.3L671.4,775.2L670.9,775.7L671.1,776M671.7,776.3L671.4,775.8L670.9,776.2L674.1,780.3M692.3,803.5L674.2,780.2L673.9,780.4L700.6,815M651.5,753.6L640.3,738.9L629.7,746.6L635.4,754.9M694.1,807.3L652.3,753L650.7,754.2L651,754.6M655.8,758.1L652.3,753.6L649.7,755.5L649.9,755.8M659.7,765.4L651.5,754.6L648.3,757L650.8,760.3M671.8,780.2L660.2,765L659.2,765.8L662.8,770.5M689.4,802.7L672,780L671.5,780.4L672.7,781.8M691,805.5L672.8,781.7L672.5,782L689.1,803.8M681.9,795.1L663.1,770.2L662.4,770.7L664.1,773M694.3,812L664.5,772.7L663.8,773.2L664,773.6M672.4,783.8L664.4,773.3L663.6,773.9L665.6,776.5M677.5,791.6L666,776.3L665.3,776.8L675.7,790.7M678,791.9L677.6,791.4L677.3,791.7L683.3,799.7M680.5,796.7L675.9,790.5L675.5,790.8L679.2,795.7M656.3,766.1L651.6,759.7L650,760.9L653.8,766M656.9,766.4L656.5,765.9L656.1,766.3L659.1,770.3M676.4,793.4L659.2,770.2L658.9,770.5L661.6,774.1M654.7,765.8L654.4,765.5L653.1,766.5L660.6,776.9M655.3,766.2L654.9,765.7L654.5,766L665,780.4M671.3,788.5L665.2,780.2L664.8,780.5L670.1,787.6M663.2,779.4L661.1,776.6L660.2,777.3L664.2,782.8M663.8,779.7L663.5,779.3L663,779.6L663.2,779.9M663.7,780.3L663.4,779.8L663.1,780.1L663.4,780.5M671.8,792.7L664.4,782.6L663.9,783L668.5,789.3M671.6,793.3L668.7,789.1L668.3,789.4L679.1,804.3M643.8,761.1L638.1,753L632.6,756.8L636.7,762.9M649,765.1L645.4,760L642.3,762.1L645.6,766.9M649.8,764.9L649.6,764.6L648.3,765.5L651.9,770.6M650.6,765.5L650.1,764.8L649.6,765.1L650.3,766M658,776.4L650.4,765.9L650.1,766.1L652.4,769.2M654.6,773.3L652.4,770.2L651.4,770.9L655.8,777.1M658.1,777.9L654.8,773.2L654.4,773.5L663.1,785.6M663.7,787.5L656.1,776.8L655.4,777.3L665.8,792.1M664.2,787.8L663.8,787.3L663.5,787.6L665.5,790.4M669.9,797.3L666,791.9L665.5,792.2L665.8,792.6M666.3,792.9L665.9,792.4L665.6,792.7L670.1,799.1M656.7,781.3L646.3,766.4L644.9,767.3L645.7,768.5M679.9,813.8L657,781.1L656.5,781.4L656.7,781.8M671.7,802.9L656.9,781.7L656.6,781.9L667.3,797.3M646.4,768.5L646.2,768.2L645.2,768.9L645.4,769.2M647,768.8L646.7,768.3L646.2,768.6L646.4,769M660.9,789.5L646.6,768.9L646.3,769.1L646.6,769.6M648.9,773.6L645.7,769L645,769.5L645.2,769.8M660.3,790.8L645.7,769.5L644.8,770.1L645.1,770.4M645.7,770.5L645.4,770.1L644.7,770.6L644.9,771M657.9,788L645.8,770.4L645.5,770.6L660.9,793.1M655.9,786.5L645.2,770.8L644.6,771.2L644.9,771.5M645.4,771.8L645.1,771.3L644.6,771.6L644.9,772M645.4,772.4L645,771.9L644.7,772.1L645,772.6M653.4,786.2L637.4,762.4L635.9,763.4L636.1,763.7M656.2,789.8L653.6,786L653.1,786.3L654.2,788M663.5,801.5L654.4,787.9L654.1,788.1L673.9,817.7M645.9,776.5L636.9,763.2L635.3,764.2L636.1,765.3M649.9,784.1L637,764.7L635.1,766L637,768.9M659.4,797.6L650.3,783.8L649.4,784.4L658.2,797.7M658.8,797.8L658.6,797.4L657.9,797.9L658.1,798.2M659.3,798.2L659,797.7L658.6,797.9L658.9,798.4M666,809.9L658.3,798.1L657.9,798.3L668.5,814.4M646.4,781.9L637.6,768.5L636.4,769.3L636.6,769.6M658.5,800L646.6,781.8L646.2,782L648.4,785.3M640.5,774.2L637.2,769.2L636,770L637.2,771.9M641,774.6L640.7,774.1L640.3,774.3L642.3,777.3M648.6,788.2L637.8,771.5L636.5,772.3L638.1,774.8M649.1,788.6L648.8,788.1L648.5,788.3L667.8,818.3M652.1,795.1L638.8,774.3L637.4,775.2L637.6,775.6M652.6,795.5L652.3,795L652,795.2L665.7,816.6M639.2,776.6L638.3,775.1L636.9,776L637.2,776.3M649,791.3L639.5,776.4L639,776.7L645.6,787.1M660.3,809.8L645.8,787L645.5,787.3L645.8,787.8M642.4,783.5L637.6,776L636.7,776.6L636.9,777M642.8,783.9L642.5,783.4L642.2,783.6L642.5,784.1M637.4,777.1L637.2,776.8L636.6,777.2L642.9,787.3M646,790.4L637.6,777L637.3,777.2L641,783.1M643.4,787.7L643.1,787.2L642.8,787.4L656.1,808.7M637.3,722.3L641.7,727.7M642.9,795.7L635,782.6L624.6,788.6L631.8,801.5M655,809.3L645.6,794.1L640.3,797.4L643,802M666.3,826.1L655.6,808.9L654.4,809.6L655.7,811.7M663.4,822.6L656.4,811.3L655,812.1L655.2,812.5M658.7,816.8L655.8,812.1L654.6,812.8L655.6,814.6M661.7,821L659,816.7L658.4,817L665.6,828.7M656.6,815.3L656,814.3L655.2,814.8L655.4,815.1M661.8,825L655.7,815L655.2,815.3L659.2,822M651.3,811.7L644.8,801L641.2,803.1L644.9,809.5M658.7,822.4L652,811.3L650.6,812.1L652.2,814.9M655.8,819.4L652.9,814.5L651.6,815.2L654.6,820.3M656.3,819.7L656,819.2L655.5,819.5L658.9,825.2M658.2,825.3L655,820L654.2,820.5L657.4,825.8M660,829.6L657.6,825.6L657.1,826L661.5,833.5M647.5,811.8L645.8,809L644.1,809.9L647.9,816.4M651.1,817L647.9,811.6L647.1,812L649.3,816M652.7,821.1L649.6,815.8L649.1,816.1L654.6,825.5M651.3,821.3L648.4,816.2L647.4,816.7L650.7,822.6M657.7,833.5L651.2,822.3L650.3,822.9L650.5,823.2M652.5,825.7L650.9,823L650,823.5L650.2,823.8M657.3,835.5L650.5,823.7L650,824L656.1,834.7M643.3,817.2L633.9,800.4L629.6,802.7L632.8,808.5M647.5,822.1L644.4,816.6L642.2,817.8L647.1,826.5M656.9,837.4L648,821.8L647.1,822.4L647.4,823M654.4,834.3L647.8,822.8L647,823.2L647.2,823.6M651.2,830.1L647.5,823.4L646.9,823.7L650.7,830.6M655.2,839.9L647.6,826.2L646.6,826.8L646.8,827.1M648.1,828.5L647.2,826.9L646.4,827.3L647.6,829.5M651.1,835.3L647.8,829.4L647.3,829.7L652.4,839M646.6,830.5L634.2,807.8L631.4,809.3L632.3,811.1M653.2,841.8L646.9,830.3L646.3,830.6L651.3,839.7M640.2,821.9L633.9,810.2L630.7,811.9L632.5,815.2M647.1,833.4L640.7,821.7L639.8,822.2L639.9,822.5M648.4,837.2L640.4,822.3L639.5,822.8L641.9,827.1M644.9,832.2L642.1,827L641.6,827.3L643.5,830.8M638.2,823L633.7,814.5L631.2,815.9L633.5,820.2M643.1,831.4L638.5,822.8L637.9,823.1L643.5,833.5M635.8,822.4L634.4,819.7L632.6,820.7L634.7,824.9M637.7,824.7L636.4,822.1L635.3,822.7L636.2,824.5M641.7,831.6L638,824.5L637.4,824.8L642.4,834.3M640.5,832.1L636.5,824.4L635.9,824.6L637,826.7M640,833.9L635.2,824.7L634.3,825.2L637.4,831.2M642.3,839.7L637.8,831L636.9,831.5L638.9,835.2M639.4,835.6L639.1,835.1L638.6,835.4L644.3,846.5M611.3,753.6L629.8,785.6M638.6,837.5L615.6,792.2L611.9,794L612.4,795.1M642.7,844.9L638.8,837.3L638.3,837.6L640.4,841.8M633.3,829.9L615.1,793.7L609.6,796.4L610.2,797.6M636.9,836.4L633.6,829.8L633,830L637.6,839.2M627.1,824.2L613.3,796.1L607,799.1L609.9,805.4M630.4,827.4L628.5,823.5L625.8,824.8L629.8,833M634.5,834.5L630.9,827.2L629.9,827.7L632.1,832.1M637.1,841.1L632.5,831.9L631.7,832.4L631.9,832.7M637,842.4L632.1,832.6L631.6,832.9L636.7,843.3M632.6,837.2L630.4,832.7L629.1,833.3L634.6,844.6M636,843.3L632.9,837L632.3,837.3L632.6,837.9M639.8,854.2L635,844.4L634.2,844.8L637.4,851.6M640.5,857.3L637.7,851.4L637.1,851.7L637.3,852.2M624.4,828.8L612.7,804.1L607.1,806.7L608.9,810.7M628.6,836.2L625,828.6L623.8,829.1L624.5,830.5M637.3,853.7L628.8,836L628.3,836.3L630,839.9M628.3,837.8L624.8,830.4L624.2,830.7L625.9,834.2M620.3,827.7L611.8,809.4L605.9,812L610.4,822.3M624.3,833.5L621.4,827.2L619.2,828.2L619.9,829.8M630.3,845.2L624.8,833.3L623.9,833.7L624.7,835.5M627.5,840.7L625,835.4L624.4,835.6L625.8,838.5M624.5,838.1L620.6,829.5L619.2,830.1L619.4,830.5M627,842.7L624.8,837.9L624.2,838.2L630.2,851.2M621.2,833.2L619.9,830.3L618.9,830.7L619.6,832.3M622.9,838.4L620.1,832.1L619.2,832.5L620.5,835.3M627.3,849.7L620.8,835.2L620.2,835.5L622.9,841.6M623.5,846L612.6,821.4L608.2,823.3L608.9,824.8M631.5,862.3L624.1,845.7L622.9,846.2L623.1,846.6M631.8,864.8L623.6,846.4L622.6,846.8L622.7,847.2M628.4,858.8L623.2,847L622.3,847.4L623.7,850.6M627.2,857.8L624,850.5L623.4,850.7L625.5,855.5M617.6,840.4L610.5,824.1L607.2,825.5L608.4,828.2M626,858.5L618.1,840.2L617.1,840.6L620.4,848.3M624.7,857L620.8,848.1L619.9,848.5L620.1,848.9M622.6,854L620.4,848.7L619.8,849L620,849.5M613.6,837.4L609.5,827.7L607.2,828.7L609.7,834.8M616.6,843.1L614.1,837.2L613.2,837.6L613.3,838M617.4,846.8L613.6,837.8L613.1,838.1L616.1,845.2M615.1,845.5L610.5,834.5L608.9,835.1L609.1,835.5M615.8,846.2L615.4,845.4L614.8,845.6L617.4,851.8M614.5,846.5L609.8,835.2L608.4,835.8L609,837.4M610.7,840L609.6,837.2L608.4,837.7L609.3,839.9M615.5,850.6L611,839.8L610.5,840.1L611.7,843.2M609.9,840.3L609.6,839.8L609.1,840L614.6,853.6M598.1,761.8L613.7,793.1M613.5,853.4L581.5,773.7L577.7,775.2L578.1,776.2M596.6,815.2L580.7,775.2L575.4,777.2L576.1,779.2M602.8,829.5L597.1,815L596.2,815.4L599.5,823.8M589.6,804.5L579.3,778L572.9,780.4L575.3,787M597.3,820.9L590.7,804.1L588.5,805L591.3,812.3M595,819L592.3,811.9L590.3,812.7L595.6,826.8M598.7,827.2L595.4,818.8L594.5,819.1L598.3,829.1M618.8,885.9L596.3,826.5L594.9,827.1L597.5,834.2M618.9,889.5L598,834L597.1,834.3L601.9,847.3M590.2,820.8L577.5,786.2L573,787.8L575.2,794.2M601.5,849.3L590.9,820.6L589.5,821.1L595.6,837.9M613.6,885.7L596.1,837.7L595.1,838.1L609.6,878M591.6,832.8L577.6,793.4L572.8,795.1L574.6,800.3M612.4,889.4L592.1,832.6L591.2,833L597.8,851.8M581,809.8L577.4,799.3L571.7,801.2L576.9,817.4M594.4,845.4L581.9,809.5L580.2,810.1L580.3,810.5M581.7,811.9L581.1,810.2L579.5,810.8L579.6,811.1M580.6,811.4L580.4,810.9L578.8,811.4L578.9,811.8M580,812.6L579.6,811.5L578.3,812L578.4,812.4M579,812.8L578.8,812.2L578,812.5L578.2,813.1M596.6,872.3L578.4,816.9L575.5,817.8L576.9,822.3M584.5,841.2L578.3,821.8L575.5,822.7L576.2,825M594.2,868.5L585.3,841L583.8,841.5L585.4,846.4M599,887.1L585.9,846.2L584.9,846.5L590.9,865.4M591.7,871.7L576.9,824.8L575.5,825.2L578.2,833.7M587.1,860.6L578.6,833.6L577.7,833.9L582.4,849.3M578.1,770.7L579.6,774.4M571.6,839.6L558.8,794.1L554.5,795.2L555.6,799.6M578.3,859.8L572.5,839.3L570.6,839.8L574.8,855M576.2,856.7L575.7,854.8L574,855.3L574.1,855.7M577,863.8L574.7,855.5L573.5,855.8L573.7,856.4M572,854.6L557,799.2L554.2,799.9L554.6,801.6M575.8,873.6L556.5,801.1L552.7,802.1L552.9,802.6M568.9,854.7L555.3,802L550.5,803.2L551.5,807.4M574.1,872.2L569.5,854.5L568.4,854.8L574.1,876.8M568.9,864L554.4,806.7L548.6,808.1L549.1,810.5M572.4,875.4L569.5,863.9L568.3,864.2L571.1,875.5M562.6,850.4L552.7,809.6L545.5,811.3L546.8,817.4M567.2,864.7L563.6,850.2L561.6,850.7L562.5,854.4M570.6,883.9L563.4,854.2L561.7,854.6L561.8,855M567.6,876.9L562.3,854.8L561.2,855.1L561.3,855.7M557.1,847.2L550.1,816.6L543.5,818L544.9,825.1M559.5,852.8L558.1,847L556,847.4L556.1,847.8M563.6,876.1L557.1,847.6L555.1,848L555.6,850.3M560.1,866.3L556.5,850.1L554.8,850.5L554.9,850.9M555.6,851.3L555.4,850.7L554.3,851L554.4,851.6M559.6,881.4L547.5,824.6L542.4,825.6L543.1,829.2M550.2,847.8L546.3,828.6L539.8,829.8L542.3,843.3M553.6,858.7L551.3,847.6L549.2,848L549.3,848.4M554.3,868.1L550.2,848.2L548.3,848.6L548.4,849M549.9,852.2L549.2,848.8L547.5,849.2L548.5,854.1M553.1,874.4L549,854L547.9,854.2L548,854.8M552.1,882.7L544.6,842.8L540,843.7L540.1,844.1M543.5,852.6L541.9,843.8L538.2,844.4L538.3,844.8M547.3,866.7L544.6,852.4L542.4,852.8L544.6,865.3M548,867.2L547.9,866.6L546.7,866.9L551,890.7M549.5,889.3L545.2,865.2L544,865.4L546.8,881.3M544.8,877.4L539.2,844.6L537.3,845L538.2,850.7M541.9,867.1L539.1,850.6L537.4,850.9L539.1,861.2M544.5,890.5L539.7,861.1L538.5,861.3L538.8,863.2M552.7,780.2L556.6,794.6M528.9,830.9L525.7,808.2L515.7,809.5L516.8,820M532.6,841.1L531,830.6L526.8,831.2L527.9,838.6M533.9,842.8L533.6,840.9L531.6,841.2L532.6,848.4M535.3,848L534.4,842.7L533.4,842.9L536.9,865.8M535.7,865.1L533.2,848.3L532.1,848.5L536.6,879.3M530.3,847.3L529.1,838.4L526.6,838.7L527.1,842.5M532,855.3L530.9,847.2L529.8,847.3L530.2,849.9M531.2,865.6L528.1,842.4L526.2,842.7L526.2,843.1M528.7,855.2L527.1,842.9L525.3,843.2L525.4,843.6M526.4,845.3L526.1,843.5L524.6,843.7L524.9,845.9M526.1,851.6L525.4,845.8L524.3,845.9L526.1,860.1M522,842.5L519.3,819.7L514.3,820.3L514.5,822.9M524.7,857.5L522.9,842.4L521.1,842.6L521.2,843.6M523.6,857.7L521.9,843.5L520.4,843.7L520.4,844.1M521,844.6L521,844L519.9,844.2L520.7,851.1M518.2,837.6L516.6,822.6L512.4,823L512.5,823.4M515.7,832.3L514.9,823.2L510.1,823.7L510.2,825.1M517.4,839.6L516.6,832.2L514.9,832.4L514.9,832.8M516.2,838.2L515.7,832.7L514.2,832.8L514.2,833.2M514.8,833.8L514.7,833.2L513.7,833.3L513.8,833.9M515.1,861L512,824.9L508.5,825.2L508.5,825.6M511.6,838.3L510.5,825.5L506.5,825.8L506.5,826.2M512.7,844.6L512.1,838.3L511.1,838.4L511.2,839.8M508.8,832L508.4,826L504.6,826.3L504.6,826.7M511.2,853L509.6,832L508.1,832.1L508.6,838.7M509.1,839.3L509.1,838.7L508.1,838.7L508.6,846.5M506.2,833.5L505.7,826.6L503.5,826.8L503.6,827.2M507.3,842.7L506.7,833.5L505.7,833.6L505.7,834.1M504.3,827.7L504.3,827.1L502.8,827.2L503.1,832M503.6,832.6L503.6,832L502.6,832L502.6,832.6M518.2,789L520.7,808.9M500,838.2L499.1,817.7L490.5,818L490.7,838M505.1,900.6L501.9,838.2L498,838.3L498,838.7M500.4,846.5L500.1,838.6L496,838.8L496.2,846.2M502.4,869.8L501.3,846.4L499.5,846.5L500,858.6M502.6,899.1L500.8,858.6L499.2,858.7L499.2,859.1M500.9,886.6L499.8,859.1L498.7,859.1L499,865.7M498,868.5L497.2,846.1L495.3,846.2L495.3,847.9M497.2,880.3L496.2,847.9L494.4,848L494.4,848.4M495.2,848.9L495.2,848.3L493.7,848.4L493.7,848.8M494.3,855L494.2,848.8L493.2,848.8L493.2,849.4M492.9,892.1L491.9,838L489.5,838L489.5,838.5M491.7,891.9L490.9,838.5L488.1,838.5L488.1,846.1M490.4,881.2L490,846L486.3,846.1L486.2,849.7M488.3,867L488.3,849.7L484.2,849.7L484.2,859.2M489.3,884.2L489.2,866.9L487.5,867L487.5,871.8M488.2,891.5L488.1,871.8L487,871.8L487,895.8M485.3,880L485.4,859.2L483,859.2L482.8,873.8M485.8,902L485.8,880L484.7,880L484.6,895.3M483.5,890.3L483.6,873.8L482,873.8L481.9,880.5M482.2,899.4L482.4,880.5L481.3,880.5L481.2,885M494.2,799.9L494.8,817.9M480.7,853.7L481.5,812L479.4,811.9L479.4,813.2M479.1,876.3L480.5,813.3L478.2,813.2L478.2,814.4M478.1,874.6L479.6,814.4L476.8,814.3L476.7,815.8M477.1,870.6L478.7,815.8L474.8,815.7L474.7,817.1M476.3,860.3L477.7,817.2L471.7,816.9L471.7,817.6M474.7,841.5L475.6,817.8L467.7,817.4L467,826.9M475.6,850.7L475.9,841.5L473.5,841.4L473.1,849M474.1,850.1L474.1,849L472.1,848.9L471.9,854M474.4,856L474.6,850.1L473.6,850L472.4,878M471.8,867.4L472.4,854L471.4,853.9L470.5,871.7M469,847L470.2,827.1L463.9,826.7L463.2,835.7M469.6,857.6L470.2,847L467.9,846.9L467.1,860.6M470.1,858.2L470.1,857.6L469.1,857.5L468.1,874.8M466.4,884.6L467.8,860.7L466.3,860.6L466.2,861M466.7,861.6L466.8,861L465.7,861L463.9,888.1M464,848.5L464.9,835.9L461.5,835.6L460.7,845.4M464.1,861.8L465,848.6L463,848.4L461.9,862.2M463.3,880.7L464.6,861.9L463.5,861.8L462.6,874.9M461.1,879.4L462.4,862.3L461.4,862.2L459.7,883.8M460.1,865.1L461.7,845.4L459.8,845.3L459,854.2M458.4,872.4L459.9,854.3L458.1,854.2L457.7,858.7M456.8,877.8L458.5,858.8L456.9,858.7L456.2,866.5M455.9,875.3L456.7,866.5L455.6,866.4L453.5,889.2M480.7,799.9L480.4,811.9M452.7,884.2L459.3,817.7L454.1,817.1L454,817.9M453,868.6L458.1,818.4L449.8,817.4L449.7,818.1M452,836.6L454.1,818.7L445.3,817.5L444.1,825.5M452.4,857.8L454.6,836.9L449.5,836.3L449.4,836.7M452,867L452.9,857.9L451.8,857.8L448.7,885.4M451.9,837.4L452,837L446.9,836.4L446.9,836.8M452.8,838.1L452.9,837.5L451,837.3L450.9,837.7M451.7,838.4L451.7,837.8L450.1,837.6L450,838M450.5,838.7L450.6,838.1L449.5,837.9L449.4,838.5M447.9,837.3L447.9,836.9L445.8,836.6L445.6,838.1M448.1,840.1L448.4,837.4L447.3,837.3L447.3,837.8M446,838.8L446.1,838.2L445,838L444.6,840.9M439.8,866.9L445.6,825.7L442.5,825.3L442.1,828.1M438.1,869.9L444.2,828.4L440,827.8L439.4,831.4M438,858.1L442,831.8L436.8,830.9L436.1,835.5M437.3,866.8L438.6,858.1L437.5,858L434.1,879.7M435.1,859.4L438.9,836L433.2,835.1L432.2,840.9M435.9,860.1L436,859.5L434.2,859.3L434,860.6M434,864.3L434.6,860.6L433.4,860.5L428.1,892.7M431.5,859.5L434.6,841.3L429.8,840.4L428.3,848.4M428.2,884.4L432.4,859.6L430.6,859.3L430.5,859.7M428.6,874.6L431.1,859.8L429.9,859.6L423.7,894.8M426,871.2L430.1,848.8L426.4,848.1L425.5,852.9M423.2,890.3L426.6,871.3L425.4,871.1L422.8,885.5M424.3,866.8L426.9,853.2L424.1,852.7L423.8,854.3M421.6,884.5L424.9,866.9L423.7,866.6L419.5,888.7M419.4,882.3L424.8,854.5L422.7,854.1L422.6,854.5M418.3,881.3L423.6,854.7L421.6,854.3L421.5,854.7M417,881.5L422.4,854.9L420.6,854.5L420,857.5M414,889.4L420.6,857.6L419.4,857.3L418.1,863.8M458.7,798.5L456.7,817.4M419,848.6L425,821.4L419.6,820.1L418,826.9M415,871.9L420,848.8L418.1,848.4L415.7,859.1M408,897.5L416.4,859.3L415,859L406.9,895.3M413.3,857.5L420.2,827.5L415.7,826.4L414.2,832.7M404.7,898.5L414,857.7L412.7,857.4L408,877.3M411.3,853.2L416.1,833.1L412.3,832.2L408.8,846M402.3,895.5L412.2,853.4L410.3,852.9L409,858.4M401.9,890.6L409.6,858.6L408.3,858.3L399.2,895.6M402.2,877.4L409.9,846.3L407.7,845.7L406.6,850.3M394.8,900.6L407.5,850.5L405.6,850.1L403.3,858.9M396.7,887.4L404,859.1L402.7,858.7L393.1,895M428.9,791.5L422.3,820.8M398.5,866.5L403.7,847.1L399.2,845.8L397.7,851.3M391.8,895L399.3,866.7L397.7,866.3L397.6,866.6M389,900.8L398.1,866.8L397.1,866.5L395.5,872.2M390.9,882.5L399.5,851.8L395.9,850.8L394.7,855.1M380.7,921.7L391.5,882.7L390.4,882.4L380.3,918.5M390.1,877.1L396.2,855.6L393.1,854.6L391.6,859.7M383.3,903.1L390.7,877.2L389.6,876.9L379.9,910.5M389.3,872L392.7,860.1L390.4,859.4L387.7,868.6M386.9,882L389.8,872.1L388.7,871.8L388.6,872.4M385.1,879.9L388.4,868.8L386.9,868.3L385.5,872.7M380.8,890.4L386.1,872.9L385,872.6L377.5,897.2M409.5,817.5L401.5,846.4M389.6,846.3L396.5,824.1L389,821.6L385.3,832.3M385.5,864.3L391,846.7L388.2,845.8L384.9,856M373.5,905.5L386.2,864.5L384.9,864.1L379.2,882.3M376.1,887.3L385.9,856.3L384,855.6L381.1,864.6M374,888.8L381.7,864.8L380.4,864.4L373,887M383,848.5L388.1,833.2L382.6,831.3L377.1,846.9M370.4,890.3L384.1,848.9L381.9,848.1L380.6,852M363.8,905.4L381.5,852.3L379.6,851.7L375.9,862.5M365,897L376.6,862.7L375.3,862.3L363.5,896.6M375.2,856.4L378.3,847.4L375.8,846.5L371.6,858.2M369.2,875.6L375.8,856.6L374.5,856.1L361.6,892.7M363.3,883.4L372.3,858.4L371,857.9L359.6,889.3M405.3,784.9L392.8,822.9M370.9,847.4L405.7,754.3L386.7,746.2L384.2,751.3M368.8,857.4L372.3,847.9L369.5,846.9L367.4,852.3M361.2,880.4L369.5,857.7L368.1,857.1L357.9,884.5M359.8,874.7L368.2,852.5L366.7,852L360.2,868.9M379.4,792.8L394.9,756.1L373.9,746L358.7,774M374,822.5L384.9,795L374,790.5L368,804.1M370,837.3L375.5,823.1L372.5,821.8L371.5,824.4M363.1,857.1L370.7,837.6L369.3,837.1L360.4,859.8M365.3,843.2L372.6,824.8L370.3,823.9L367.7,830.3M362.7,845.5L368.7,830.7L366.7,829.9L365.1,833.9M356.5,856.9L365.8,834.2L364.4,833.6L356.4,853.1M363.1,825.5L371.6,805.6L364.3,802.4L356,820.5M356.4,847L365.1,826.4L361,824.6L355,838.4M348.7,867.4L357.1,847.3L355.7,846.7L352.6,854M349.8,854.5L356.5,839.1L353.4,837.7L348.2,849.5M340.7,877.8L350.5,854.9L349.1,854.2L339.2,876.9M340.5,870L349.3,850L347.1,849L344.2,855.5M333.8,880.7L344.9,855.9L343.5,855.2L336.4,870.9M338.4,862.6L357.3,821.1L354.6,819.8L353.2,822.9M337.4,860.8L354.7,823.6L351.7,822.2L350.9,823.9M335.1,862L352.6,824.6L349.3,823.1L347.5,826.8M343.8,838L348.8,827.5L346.2,826.2L344.5,829.7M331,866.8L344.5,838.3L343.1,837.6L330.2,864.7M338.8,843L345.2,830L343.8,829.4L338.2,840.9M352.3,800.6L364.3,777L353.1,770.9L342.1,790.1M342.1,827.1L354.7,801.8L349.8,799.3L344.8,808.9M337.2,839.5L343.1,827.6L341.1,826.6L337.1,834.4M322.9,864.5L337.8,834.8L336.5,834.1L328,850.9M335.4,831.2L346.5,809.8L343.1,808L342,810.1M321.4,860.1L336.1,831.6L334.8,830.9L325.2,849.2M329.1,838.5L343.5,811L340.4,809.3L336.1,817.4M334.4,823.6L337.3,818L334.8,816.7L332.8,820.4M323.4,845.8L335,824L333.7,823.3L317.1,854.2M318.1,849L333.4,820.7L332.1,820L326.2,830.9M322,833.6L345.3,791.9L339,788.3L334.4,796.1M314.4,849L322.7,834L321.4,833.3L311,851.8M326.3,818.6L338,798.2L330.8,794L322,808.4M309.9,850.4L327.5,819.3L325.1,818L323.1,821.4M310,847L324.3,822L322,820.7L320,824.1M306.5,849.7L321,824.7L319.1,823.5L317.4,826.3M313,835.4L318.1,826.7L316.8,825.9L303,849.2M308,836.1L323.9,809.6L320.1,807.2L317.1,812M295.8,858.2L308.7,836.5L307.4,835.7L293,859.6M314.8,819.1L318.5,812.9L315.7,811.2L311.5,817.9M307.9,831.8L315.4,819.4L314.1,818.7L304.1,834.9M298.6,840.8L312.5,818.5L310.5,817.3L310.3,817.6M302.2,832L311,818L309.7,817.2L291.7,845.6M403.2,733.9L396.1,750.5M146.8,557.5L237.1,552.3L236.9,547.1L231.3,547.4M133.8,559L146.8,558.3L146.7,556.7L142.9,556.9M132.9,558L142.9,557.4L142.9,556.3L135,556.8M152.3,553.9L231.4,550.1L231.2,544.6L223.8,544.8M135.2,555.7L152.3,554.8L152.2,553L150.1,553.1M136.4,554.5L150.1,553.9L150.1,552.3L148.4,552.3M140.3,553.2L148.4,552.9L148.3,551.8L142.7,552.1M150,549.9L223.9,547.3L223.7,542.2L218,542.3M136.3,551.2L150.1,550.7L150,549.1L146.6,549.2M138.3,550.1L146.6,549.8L146.6,548.7L138.3,549M151.7,546.6L218.1,544.9L218,539.8L210.4,539.8M133.3,548L151.7,547.5L151.7,545.7L149.7,545.7M137.1,546.8L149.7,546.5L149.7,544.9L146,545M139.9,545.7L146,545.5L146,544.5L137.6,544.6M141.2,543.5L210.4,542.4L210.3,537.3L208.1,537.2M157.6,540.5L208.2,540.1L208.2,534.3L197.4,534.2M148.3,541.8L157.6,541.7L157.6,539.4L150.5,539.4M140.4,542.4L148.3,542.3L148.3,541.3L136.1,541.4M136,540.3L150.5,540.2L150.5,538.6L147.9,538.6M136.5,539.2L147.9,539.2L147.9,538.1L136,538.1M152.3,535.5L197.4,535.8L197.4,532.6L188.1,532.4M146.3,536.5L152.3,536.5L152.3,534.5L144.7,534.4M134.5,537L146.3,537L146.3,536L137,535.9M138.1,534.8L144.7,534.9L144.7,533.8L136,533.7M135.1,532.6L188.1,533.4L188.1,531.3L187,531.3M138.1,531.6L186.9,532.5L187,530.1L185.2,530.1M134.6,530.4L185.2,531.5L185.3,528.7L182.8,528.6M134.8,529.3L182.8,530.5L182.9,526.7L180.7,526.6M151,527.9L180.7,528.8L180.8,524.4L173.6,524M139.5,528.4L151,528.7L151,527.1L146.3,527M139,527.3L146.3,527.5L146.3,526.4L136.4,526.1M136.7,525L173.5,526.4L173.7,521.7L169.3,521.5M155.2,523L169.2,523.6L169.5,519.4L155.1,518.5M147,523.8L155.1,524.1L155.2,521.8L147.4,521.4M139,524L146.9,524.3L147,523.3L137.4,522.9M134.2,521.6L147.3,522.2L147.4,520.6L142.2,520.4M131.1,520.4L142.2,520.9L142.2,519.8L133.8,519.4M137.5,518.5L155.1,519.5L155.2,517.5L151.1,517.3M136.8,517.4L151,518.2L151.1,516.4L147.1,516.1M134.8,516.1L147.1,516.9L147.2,515.3L142.9,515M132.4,514.9L142.8,515.6L142.9,514.5L132.4,513.8M273.9,548L237,549.7M155.6,514.3L197.4,517.3L197.7,514.1L188.9,513.4M116.2,511.9L155.6,514.6L155.7,513.9L153.7,513.7M129.3,512.3L153.7,514.1L153.7,513.4L144.8,512.7M124.1,511.5L144.8,513L144.8,512.4L136.3,511.7M135.7,511.9L136.3,512L136.3,511.5L110.1,509.5M165.3,512.7L188.8,514.5L189,512.2L178.3,511.3M144.5,511.5L165.3,513.1L165.4,512.2L155.3,511.4M123,510.1L144.5,511.7L144.5,511.3L123.2,509.6M129.6,509.7L155.3,511.7L155.3,511.1L154.9,511.1M140,510.1L154.9,511.3L154.9,510.9L144.5,510M154.6,510.1L178.3,512.1L178.4,510.5L172.3,509.9M118.1,507.4L154.5,510.4L154.6,509.8L147.5,509.2M131.8,508.1L147.5,509.4L147.5,509L146.5,508.9M152.4,508.8L172.2,510.5L172.3,509.4L165.8,508.8M151.8,508.9L152.4,509L152.4,508.5L124,506M137.8,506.8L165.8,509.3L165.9,508.3L165.5,508.2M155.9,507.8L165.4,508.7L165.5,507.8L160,507.3M139.1,506.5L155.9,508L156,507.6L128.7,505.1M138.2,505.5L160,507.6L160.1,507L144.3,505.5M143.7,505.6L144.3,505.7L144.3,505.2L123.2,503.2M268.4,521.1L197.6,515.7M120,502.5L188.1,509.1L188.3,507L187.6,507M159.6,505.7L187.4,508.5L187.7,505.5L185.2,505.2M155.8,505.6L159.6,506L159.6,505.5L155.8,505.1M152.3,504.9L155.8,505.3L155.8,504.9L155.2,504.8M154.4,504.1L185,507.2L185.4,503.2L182.5,502.8M153.5,504.3L154.4,504.4L154.4,503.8L151,503.4M144.3,503L151,503.7L151,503.2L145,502.5M127.5,500.9L145,502.7L145.1,502.4L141.3,502M168.6,503L182.3,504.5L182.7,501.1L174.9,500.2M157.3,502.8L168.5,504L168.7,502L164.5,501.6M156.9,503.1L157.3,503.1L157.3,502.4L150.4,501.7M149.3,502.4L156.9,503.2L156.9,502.9L154.8,502.7M135.8,500.3L150.4,501.8L150.4,501.5L136.3,500M161.6,501.8L164.4,502.1L164.6,501L158.4,500.3M156.5,501.6L161.5,502.2L161.6,501.5L157.9,501.1M152.6,501.4L156.5,501.8L156.6,501.4L145.3,500.2M139.6,499.2L157.9,501.2L157.9,500.9L151.5,500.2M137.6,498.2L158.4,500.6L158.5,500L155.4,499.6M153.7,499.7L155.4,499.9L155.4,499.4L155,499.3M148.9,498.8L155,499.5L155.1,499.1L152.3,498.8M163.7,499.6L174.8,500.9L175,499.5L169.9,498.9M152.1,498.4L163.7,499.8L163.8,499.3L154.9,498.2M154.3,498.3L154.9,498.4L154.9,498.1L145.3,496.9M159,498L169.8,499.3L169.9,498.4L166.6,497.9M156.3,497.9L159,498.2L159,497.9L158.4,497.8M145.2,495.8L166.5,498.4L166.6,497.5L163.9,497.1M151.3,496L163.9,497.6L164,496.6L163,496.5M137.5,494.5L151.3,496.2L151.3,495.8L140.2,494.4M151.1,495.4L163,496.9L163.1,496.1L159.2,495.6M153.3,495.2L159.1,495.9L159.2,495.2L156.9,494.9M134.2,492.9L153.2,495.4L153.3,495L152.7,494.9M156.3,495L156.8,495.1L156.9,494.8L156.3,494.7M268.8,516.1L188.2,508.1M105.2,487.4L159.6,494.6L160.2,490.4L157.9,490M101.4,487.2L105.1,487.6L105.2,487.2L99.3,486.4M95.4,486.1L99.3,486.6L99.3,486.2L92,485.2M86.2,484.6L92,485.4L92,485L91.7,485M91,485L91.6,485.1L91.7,484.8L91.1,484.8M130.9,488.9L157.5,492.6L158.3,487.5L147.5,485.8M97.3,485.2L130.8,489.8L131,488.1L130.6,488M87.7,484.1L97.3,485.3L97.3,485.1L71.9,481.6M114.5,486.9L130.5,489.1L130.7,487L130.4,486.9M108.1,486.3L114.4,487.2L114.5,486.6L114.1,486.5M110.6,486.3L114.1,486.8L114.2,486.3L113.8,486.2M106.4,485.8L110.6,486.4L110.6,486.2L110,486.1M113.2,486.3L113.8,486.4L113.8,486.1L113.2,486M124.9,487L130.2,487.8L130.5,486.1L130.1,486M123,487L124.9,487.3L125,486.8L124.6,486.7M118.5,486.5L122.9,487.2L123,486.9L111.7,485.3M123.9,486.8L124.5,486.9L124.6,486.5L114.7,485.1M92.9,482.2L114.7,485.3L114.7,484.9L113.3,484.7M108.9,484.2L113.3,484.8L113.3,484.6L102.3,483M120,485.1L130,486.6L130.2,485.5L127.7,485.2M116.8,484.9L120,485.3L120.1,485L118.4,484.7M117.8,484.7L118.4,484.8L118.4,484.6L91.5,480.7M114.8,483.7L127.6,485.6L127.8,484.7L127.4,484.7M114.2,483.7L114.8,483.8L114.8,483.6L114.2,483.5M121.5,484.2L127.3,485L127.4,484.3L126.8,484.2M106.5,482.1L121.5,484.3L121.5,484L120.2,483.8M119.6,483.8L120.1,483.9L120.2,483.7L109.5,482.1M116.2,482.8L126.8,484.4L126.8,484.1L115.8,482.4M115.2,482.4L115.8,482.5L115.8,482.3L115.2,482.2M93.7,478.6L147.4,486.7L147.6,485L145.9,484.7M91.1,478.3L93.7,478.7L93.7,478.5L74,475.5M107.1,480L145.7,485.9L146.1,483.5L145.1,483.3M106.5,480.1L107.1,480.2L107.2,479.8L106.2,479.7M81.9,476.1L106.1,479.8L106.2,479.5L105.8,479.4M105.2,479.4L105.8,479.5L105.8,479.3L105.2,479.2M108.6,479.5L144.9,485.1L145.4,481.6L143.8,481.3M121.5,480.2L143.4,483.6L144.2,478.9L128.5,476.2M97.4,477.4L121.3,481.1L121.6,479.3L121.2,479.2M96.8,477.4L97.4,477.5L97.4,477.2L96.9,477.1M120.7,480.2L121.1,480.3L121.4,478.1L121,478M111.1,479.1L120.6,480.6L120.7,479.8L120.3,479.8M115.1,479.3L120.3,480.1L120.4,479.4L114.9,478.5M113.5,479.3L115.1,479.5L115.1,479.1L114.7,479.1M114.1,479.1L114.7,479.2L114.7,479L114.1,478.9M114.3,478.7L114.9,478.7L115,478.3L99.9,475.9M84.4,473.6L99.9,476.1L100,475.7L91.2,474.3M90.6,474.4L91.2,474.5L91.3,474.2L90.7,474.1M120.5,478.5L120.9,478.6L121.1,477.5L120.7,477.4M119.9,478.6L120.5,478.7L120.6,478.3L120.2,478.3M114.7,477.5L120.2,478.4L120.2,478.2L119.6,478.1M120.3,477.7L120.7,477.8L120.8,477.1L113.3,475.8M118.8,477.7L120.2,477.9L120.3,477.6L117.1,477M116.5,477.1L117,477.2L117.1,476.9L112.6,476.2M93.1,472.7L113.3,476L113.3,475.6L102.8,473.9M86,471.2L102.7,474L102.8,473.7L86.4,470.9M85.8,471L86.4,471.1L86.5,470.8L84.2,470.4M92.4,471.4L128.3,477.5L128.7,475L124.6,474.3M89.3,471L92.4,471.5L92.4,471.3L91.8,471.2M112,473.5L124.3,475.6L124.8,473L115,471.2M106.8,473.3L111.9,474.1L112.1,472.8L107.1,472M104,473L106.8,473.5L106.9,473L106.5,473M105.8,473.1L106.4,473.2L106.5,472.8L94.6,470.7M85.5,469.3L94.5,470.9L94.6,470.6L94,470.5M102.4,471.5L107.1,472.3L107.2,471.6L95.3,469.5M88.5,469.3L102.3,471.7L102.4,471.3L102,471.3M101.4,471.3L102,471.4L102,471.1L101.4,471M72.3,465.7L95.3,469.7L95.4,469.3L95,469.3M93.2,469.1L94.9,469.4L95,469.1L83.3,467.1M101.3,469.6L114.8,472L115.1,470.4L110.7,469.6M89.2,467.7L101.2,469.9L101.3,469.3L91.8,467.6M86.5,467.4L89.2,467.9L89.2,467.6L87.3,467.3M82.6,466.2L91.8,467.8L91.9,467.4L87.3,466.6M65.3,462.8L87.3,466.7L87.4,466.5L86.7,466.4M97.5,467.8L110.6,470.2L110.8,469L103.5,467.7M88.4,466.4L97.4,468L97.5,467.6L89.5,466.2M88.9,466.2L89.5,466.3L89.6,466L89.2,465.9M88.6,465.9L89.1,466L89.2,465.8L83.2,464.7M90.3,465.6L103.4,468L103.5,467.4L95.2,465.9M73.1,462.6L90.3,465.7L90.3,465.4L67.2,461.2M87.2,464.6L95.2,466.1L95.3,465.7L87.7,464.3M70,461.2L87.7,464.4L87.7,464.2L87.1,464.1M268.8,507.7L159.9,492.5M148.5,475.1L201.6,485L202.2,481.9L201.5,481.8M138.7,473.4L148.5,475.2L148.5,475L126.4,470.9M178.2,479.5L201.1,483.8L201.9,479.7L196,478.5M166.3,477.9L178,480.1L178.3,478.8L174.9,478.2M165.6,477.9L166.2,478.1L166.3,477.7L160.6,476.6M148.9,474.6L160.6,476.8L160.6,476.4L150.5,474.5M128.3,470.5L150.5,474.7L150.5,474.4L139.3,472.3M161.4,476.1L174.8,478.6L174.9,477.7L174.6,477.7M157.9,475.6L161.4,476.3L161.4,475.9L161,475.9M150.1,473.9L161,476L161.1,475.8L160.5,475.6M164.2,476.1L174.5,478.1L174.6,477.2L173.3,477M159.4,474.7L173.2,477.3L173.4,476.6L168.7,475.7M157.8,474.6L159.4,474.9L159.5,474.4L157.3,474M155.6,474.3L157.7,474.7L157.8,474.4L157.2,474.3M156.7,474L157.3,474.1L157.4,473.9L136.1,469.8M145.3,471.3L168.7,475.9L168.7,475.5L168.4,475.4M167.7,475.5L168.3,475.6L168.4,475.2L168,475.2M167.4,475.2L168,475.3L168,475L167.6,474.9M162.1,473.9L167.6,475L167.7,474.8L167.1,474.7M173.2,475.1L195.8,479.6L196.2,477.4L192.3,476.6M164.6,473.8L173.1,475.5L173.3,474.6L162.8,472.5M163.9,473.9L164.5,474L164.6,473.7L164.2,473.6M163.6,473.6L164.2,473.7L164.2,473.5L163.6,473.4M148.3,469.9L162.7,472.8L162.9,472.2L160.2,471.6M145.3,469.5L148.3,470.1L148.3,469.8L143.1,468.8M159.8,471.8L160.2,471.9L160.3,471.4L154.6,470.2M145.6,469.1L159.8,471.9L159.8,471.7L159.2,471.6M154,470.3L154.6,470.4L154.7,470.1L154.3,470M153.7,470L154.3,470.1L154.3,469.9L148.9,468.8M151.1,469L192.1,477.4L192.5,475.7L190.1,475.2M158.9,470.3L189.8,476.6L190.4,473.8L189.3,473.6M155.1,469.6L158.9,470.4L158.9,470.2L158.4,470M179,472.9L189,475L189.6,472.1L183.9,470.9M165,470.8L178.8,473.7L179.1,472L171.1,470.3M149.9,467.9L165,471.1L165.1,470.6L164.7,470.5M132.6,464.5L149.8,468L149.9,467.8L140,465.8M164.1,470.6L164.7,470.7L164.8,470.3L164.4,470.2M163.7,470.3L164.3,470.4L164.4,470L164,469.9M163.4,470L164,470.1L164,469.8L163.7,469.7M160.9,469.2L163.6,469.8L163.7,469.6L163.1,469.5M164.6,469.4L171,470.7L171.2,469.9L170,469.6M148.2,466.1L164.6,469.6L164.7,469.2L164.3,469.1M163.7,469.1L164.3,469.3L164.3,468.9L160.6,468.1M156.4,467.3L160.6,468.2L160.6,468L152.8,466.4M150.8,465.7L169.9,469.8L170,469.4L169.6,469.3M169,469.4L169.6,469.5L169.7,469.2L169.3,469.1M168.6,469.1L169.2,469.2L169.3,468.9L168.9,468.8M168.3,468.8L168.9,468.9L168.9,468.7L168.3,468.6M169.1,468.2L183.7,471.4L184,470.3L183.6,470.3M168.6,468.3L169,468.4L169.1,468L165.6,467.2M160.7,466.7L168.6,468.4L168.6,468.2L168.1,468.1M165,467.2L165.6,467.3L165.7,467.1L165.1,467M178.6,469.6L183.5,470.7L183.7,469.8L183.3,469.7M178,469.6L178.6,469.7L178.6,469.5L178,469.4M174.8,468.3L183.2,470.2L183.4,469.2L183,469.1M174.2,468.4L174.8,468.5L174.9,468.2L166.1,466.2M165.5,466.2L166.1,466.3L166.1,466.1L150.8,462.7M182.5,469.4L182.9,469.5L183.1,468.7L182.7,468.6M181.9,469.4L182.5,469.6L182.6,469.2L182.2,469.1M181.6,469.1L182.2,469.3L182.2,469L181.8,468.9M181.2,468.9L181.8,469L181.9,468.8L181.3,468.7M182.1,468.6L182.7,468.8L182.8,468.4L182.4,468.3M181.8,468.3L182.3,468.5L182.4,468.1L182,468M181.4,468.1L182,468.2L182.1,467.9L181.7,467.8M181.1,467.8L181.7,467.9L181.7,467.7L181.1,467.6M270.6,496.6L201.9,483.4M122.9,447.1L195.6,465.3L195.9,464.1L195.5,464M134.8,449.7L195.3,464.8L195.7,463.1L194.5,462.8M134.1,449.6L134.7,449.8L134.8,449.5L114.3,444.4M104.4,441.6L194.2,464.2L194.9,461.4L194.3,461.2M113.6,443.5L193.7,463.8L195,458.6L194.7,458.5M155.2,452.6L193.6,462.5L195.7,454.6L184.3,451.4M116,443.8L154.9,453.7L155.5,451.4L146.4,449M137.1,447.8L146.1,450.2L146.7,447.9L145.7,447.6M119.5,443.9L137,448.4L137.3,447.3L128,444.9M115.4,443.2L119.4,444.2L119.6,443.6L111.4,441.5M105.6,440.9L115.4,443.4L115.5,443.1L111.2,442M91.5,436.6L111.3,441.7L111.4,441.4L110.8,441.2M115.8,442L127.9,445.2L128.1,444.5L120.3,442.5M109.9,440.7L115.8,442.2L115.9,441.9L115.3,441.7M108.8,439.7L120.3,442.7L120.4,442.3L116.7,441.3M105.6,438.6L116.7,441.5L116.7,441.2L116.2,441M135.1,445.4L145.5,448.2L145.8,447L145.5,446.9M134.4,445.5L135,445.7L135.1,445.2L134.8,445.1M134.1,445.1L134.7,445.3L134.8,444.8L134.4,444.7M133.8,444.7L134.4,444.9L134.5,444.6L133.9,444.4M126.9,442.3L145.4,447.2L145.5,446.6L145.1,446.5M144.5,446.7L145.1,446.8L145.2,446.2L140.6,444.9M134.1,443.6L140.5,445.3L140.7,444.6L140.3,444.5M139.5,444.6L140.2,444.8L140.4,444.2L140,444.1M116.2,438.5L139.4,444.7L139.5,444.4L129.1,441.7M138.3,443.8L139.9,444.3L140.1,443.9L139.7,443.7M126.8,440.4L139.6,443.9L139.7,443.6L139.1,443.4M146.7,443.3L183.7,453.6L185,449.1L173.2,445.6M139.5,442.6L146.4,444.5L147,442.1L134.1,438.4M137.2,442.5L139.4,443.1L139.6,442.2L139.2,442.1M136.6,442.5L137.2,442.6L137.2,442.3L135.3,441.8M126,438.8L139.2,442.4L139.3,441.7L138.9,441.6M118.3,436.8L125.9,438.9L126,438.6L123.8,438M130.3,439.5L138.9,441.9L139,441.4L137,440.8M131.3,439.5L136.9,441L137.1,440.6L136.7,440.5M131.8,439.3L136.6,440.7L136.7,440.4L125.5,437.2M120.5,435.3L133.9,439L134.3,437.9L125.2,435.3M117.4,434.7L120.5,435.5L120.6,435L115.6,433.6M115,433.7L115.6,433.8L115.7,433.4L115.3,433.3M106.4,430.9L115.2,433.4L115.3,433.1L114.7,433M94.7,427L125.1,435.6L125.3,435L124.9,434.9M124.2,435L124.8,435.2L125,434.6L124.6,434.5M110.2,430.7L124.5,434.8L124.6,434.3L119.8,432.9M94.3,425.8L119.7,433.1L119.8,432.6L116.7,431.7M116.1,431.7L116.7,431.9L116.7,431.6L116.2,431.4M140.4,437.7L172.8,447L173.7,444.2L168.2,442.6M131.6,435.4L140.3,437.9L140.5,437.4L129,434M116.1,431.1L131.5,435.5L131.6,435.3L121.6,432.4M121.7,432.1L128.9,434.2L129,433.9L128.4,433.7M139.8,435.8L167.7,444L168.6,441.2L158.1,438M128.6,433.2L139.6,436.4L140,435.1L138.5,434.6M127.9,433.3L128.5,433.4L128.7,433L113.7,428.6M99.1,424.5L113.6,428.7L113.7,428.4L113.1,428.3M129.3,432.5L138.3,435.2L138.7,434.1L132.9,432.4M106.9,426.1L129.2,432.7L129.4,432.3L114.3,427.8M101.3,424.1L114.2,427.9L114.3,427.7L102.5,424.2M117.7,428.2L132.8,432.7L133,432.1L121.4,428.6M103.1,424L117.6,428.3L117.7,428L113,426.6M120.7,428.6L121.3,428.8L121.4,428.5L105.5,423.7M114.7,426.1L157.7,439.1L158.4,436.9L158,436.8M134.2,431.1L157.6,438.2L158.4,435.4L149.2,432.5M117.6,426.5L134.1,431.5L134.3,430.7L134,430.5M117,426.5L117.6,426.7L117.7,426.4L117.1,426.2M133.3,430.8L133.8,431L134.1,430.1L133.7,430M133.2,430.3L133.6,430.4L133.8,429.6L128.2,427.8M132.6,430.3L133.1,430.5L133.2,430.2L132.7,430M120.3,425.8L128.1,428.1L128.2,427.5L116.4,423.9M112.9,423.6L120.3,425.9L120.4,425.6L116.5,424.4M115.8,423.9L116.4,424.1L116.5,423.8L102,419.3M126.2,426.1L148.9,433.2L149.4,431.8L139.8,428.8M103.1,419.3L126.1,426.4L126.3,425.9L123.5,425M110.3,421.2L123.4,425.3L123.6,424.8L122,424.2M115.9,422.6L121.9,424.5L122,424L118.5,422.9M108.4,419.9L118.4,423.1L118.5,422.8L118,422.6M119.8,422.9L139.7,429.1L139.9,428.5L139.6,428.3M108.4,418.9L139.4,428.7L139.7,428L139.3,427.9M124.8,423.8L139.2,428.3L139.4,427.4L139.1,427.3M131.7,425.5L138.9,427.8L139.2,426.8L138.8,426.7M131.1,425.5L131.7,425.6L131.8,425.3L113.7,419.6M130.8,424.6L138.7,427.1L139,426.3L138.6,426.2M121.5,421.8L130.7,424.7L130.8,424.4L130.2,424.2M134.3,425.2L138.5,426.5L138.7,425.8L138.3,425.7M137.8,425.9L138.2,426L138.4,425.4L137.1,425M137.2,425.8L137.8,426L137.9,425.7L137.3,425.6M134.8,424.4L137.1,425.2L137.2,424.7L134.1,423.7M133.5,423.7L134,423.9L134.1,423.6L110.2,415.8M272.4,484L195.8,464.7M133.4,419.6L202.3,442.7L202.7,441.4L202.3,441.3M174.1,432.9L202,442.3L202.6,440.4L202.2,440.2M157.9,427.1L201.7,441.8L202.8,438.6L202.4,438.5M176.6,432L201.7,440.6L203.1,436.5L196.8,434.2M162.9,428.1L176.3,432.7L176.8,431.3L173.7,430.2M159.9,427.4L162.9,428.4L163,427.9L155.3,425.3M153.9,425L155.2,425.4L155.4,425.1L145.8,421.9M155.7,424.9L173.4,430.9L173.9,429.5L173.3,429.3M152.7,423.2L173,430.2L173.6,428.5L168.5,426.7M134.2,417.1L152.6,423.4L152.7,422.9L151.1,422.3M139.5,418.5L151,422.5L151.1,422.2L136.1,417M155.4,422.7L168.3,427.2L168.7,426.2L164.8,424.8M153,422.3L155.2,423L155.5,422.4L147.8,419.7M152.4,422.2L153,422.4L153.1,422.1L152.5,421.9M140.3,417.3L147.7,419.9L147.8,419.5L146.2,418.9M151.1,420.3L164.7,425.1L164.9,424.5L163.7,424.1M150.1,419.6L163.6,424.3L163.8,423.8L163.4,423.7M162.8,423.7L163.3,423.9L163.4,423.5L162.9,423.3M161.9,422.6L196.6,434.9L197.1,433.5L196.4,433.2M163,422.5L196.1,434.3L196.8,432.2L194.8,431.4M162.4,422.4L163,422.6L163.1,422.3L162.5,422.1M150.3,416.8L194.3,432.7L195.2,430.2L194.8,430.1M147.2,416.1L150.2,417.1L150.5,416.5L142.3,413.5M146.6,416L147.1,416.2L147.3,415.9L140.8,413.6M130.4,409.4L142.2,413.7L142.3,413.3L117.5,404.3M157.6,418.3L194.3,431.6L195.4,428.6L193,427.7M156.9,418.3L157.5,418.5L157.6,418.1L157.1,417.9M155.9,416.8L192.2,430.1L194,425.3L190.9,424.1M141.4,411.9L155.8,417.1L156,416.5L155.6,416.4M146.4,413.3L155.5,416.6L155.7,416.1L155.3,416M151.3,414.7L155.3,416.2L155.4,415.8L140.8,410.4M173.1,421.1L189.7,427.3L192.2,420.9L181.6,416.7M155.9,415.6L172.8,421.9L173.4,420.3L172.9,420.2M152.6,414L172.5,421.4L173.4,418.9L172.5,418.6M161.7,416.1L172,420L173,417.2L166,414.5M151.6,413L161.5,416.7L161.9,415.6L148.8,410.6M146.6,411.4L151.5,413.2L151.7,412.7L142.1,409.2M141.5,409.1L142,409.3L142.1,409L136.6,406.9M138.4,407.2L148.6,411L149,410.2L142.9,407.9M142.4,408.1L142.8,408.2L143,407.6L134.5,404.3M133.2,404.8L142.3,408.3L142.5,407.9L124.7,401.2M122.1,399.8L134.5,404.5L134.6,404.2L124.6,400.3M157.1,412L165.7,415.3L166.2,413.8L160.7,411.6M143.7,407.2L157,412.3L157.2,411.7L148.1,408.2M130.1,401.6L148,408.5L148.2,408L136.5,403.5M135.9,403.4L136.4,403.6L136.6,403.3L132.4,401.7M153.4,409.2L160.6,412L160.8,411.3L160,411M149.4,407.8L153.3,409.4L153.4,409L152.9,408.8M153.8,408.8L159.9,411.2L160,410.8L145.2,405M166.5,412.2L181.1,418L182.1,415.5L173.6,412M151.1,406.8L166.3,412.7L166.7,411.7L166.4,411.6M150.5,406.7L151.1,406.9L151.2,406.6L150.6,406.4M165.8,411.8L166.2,411.9L166.5,411.2L166.1,411.1M165.2,411.7L165.8,412L165.9,411.6L158.1,408.6M165.5,411.1L166,411.3L166.2,410.8L158.5,407.8M155.2,406.7L158.5,407.9L158.6,407.6L158,407.4M163.4,408.8L173.3,412.8L173.9,411.3L173.6,411.1M161.8,408.5L163.3,409.1L163.6,408.6L157.8,406.2M156,405.8L157.7,406.5L157.9,406L157.5,405.9M152,403.8L157.4,406L157.6,405.7L150.3,402.8M140.8,398.6L173.4,411.7L173.8,410.6L173.4,410.5M163.8,407.3L173.2,411.1L173.7,409.9L168.6,407.8M163.2,407.2L163.8,407.4L163.9,407.1L163.3,406.9M167.4,407.9L168.4,408.3L168.8,407.3L168.5,407.2M156,403.5L167.3,408.1L167.5,407.6L163.4,406M162.8,405.9L163.4,406.1L163.5,405.8L162.9,405.6M150.5,400.1L168.4,407.4L168.6,406.9L168.2,406.7M167.6,406.7L168.1,407L168.3,406.5L161.7,403.8M158.2,402.5L161.6,403.9L161.8,403.6L161.2,403.4M272.6,465.7L202.5,442.1M180,403.1L212.1,417.3L214.4,412.1L202.9,406.8M146.8,390L179.5,404.2L180.4,402L180.1,401.9M170.8,399.5L179.4,403.3L180.7,400.4L172.5,396.7M159.2,395L170.6,400L170.9,399.1L167.9,397.8M148.1,389.8L167.7,398.3L168.2,397.3L159.7,393.5M156.3,392.6L159.5,394L159.9,393L148.6,388M145.6,388.2L156.2,392.9L156.4,392.4L156,392.2M155.4,392.1L155.9,392.4L156.1,392L155.5,391.8M140.3,384.6L148.5,388.3L148.8,387.8L144.6,385.9M135,381.9L144.5,386.1L144.6,385.7L144.1,385.5M151.7,388.2L172.3,397.4L172.8,396.1L169.3,394.5M134.3,380.7L151.6,388.4L151.8,387.9L140.1,382.7M125.8,376.4L140.1,382.8L140.2,382.5L139.7,382.3M159.8,390.7L169.1,394.9L169.4,394.1L163.7,391.5M150,386.5L159.7,390.8L159.8,390.5L159.1,390.2M135.8,379.2L163.6,391.8L163.9,391.2L163.5,391.1M162.8,391.1L163.4,391.3L163.6,390.8L155.3,387M136.6,378.7L155.2,387.2L155.4,386.9L154.8,386.6M151,384.1L202.5,407.7L203.4,405.8L200.3,404.3M150.3,384.1L150.8,384.4L151.1,383.9L146,381.6M128,373.5L146,381.7L146.1,381.4L142.5,379.7M137.8,377.1L199.7,405.7L200.9,403L200.6,402.8M163.8,388.4L199.6,405L201.6,400.7L199.8,399.9M159.7,386.8L163.7,388.7L164,388.2L163.6,388M163,387.9L163.5,388.2L163.7,387.9L157.3,384.9M178.6,392L199,401.7L200.7,398.1L188.5,392.1M160.2,384.8L178,393.1L179.1,390.9L172.3,387.7M149.3,380.4L159.9,385.4L160.5,384.2L144.7,376.7M148.6,380.4L149.2,380.7L149.4,380.2L141.8,376.6M141.2,376.5L141.7,376.8L141.9,376.4L141.3,376.2M137,373.5L144.5,377.1L144.9,376.4L144.5,376.2M136.4,373.4L136.9,373.7L137.1,373.3L129,369.5M135.4,372.1L144.4,376.4L144.6,376L127.6,368M166.9,385.9L172,388.3L172.6,387.1L159.2,380.6M160.4,383.1L166.8,386.1L167,385.6L162.1,383.3M150.9,378.2L162,383.4L162.2,383.1L156.8,380.5M153.5,378.4L159,381L159.4,380.3L158,379.6M152.9,378.3L153.4,378.5L153.6,378.2L136.4,369.9M138.6,370.6L157.9,379.9L158.2,379.4L157.8,379.2M157.2,379.1L157.7,379.4L157.9,379L157.3,378.8M152.3,375.7L188,393L188.9,391.2L182.3,387.9M151.7,375.6L152.2,375.9L152.4,375.5L147,372.9M152.2,374.8L181.7,389.2L182.9,386.6L182.6,386.4M142.1,370.1L152.1,375L152.3,374.6L139.6,368.4M171.3,382.6L181.9,387.8L183.3,385.1L173,379.9M168.1,381.7L171.1,383.1L171.6,382.1L165.2,378.9M156.3,376.2L168,381.9L168.2,381.4L167.9,381.2M156.7,376L167.8,381.4L168,381.1L161.7,378M149.1,371.3L165.1,379.2L165.4,378.6L164.8,378.4M164.1,378.4L164.7,378.6L165,378.1L160.7,375.9M157.5,374.7L160.6,376.2L160.8,375.7L158.7,374.6M148.2,369.6L158.6,374.8L158.8,374.5L158.2,374.2M166.7,377.4L172.7,380.4L173.3,379.4L158.2,371.7M155.1,372L166.6,377.7L166.9,377.1L161.2,374.2M146.8,368.1L155.1,372.2L155.2,371.9L151.8,370.1M160.6,374.1L161.1,374.4L161.3,374.1L152.8,369.8M146.2,366.1L158.1,372L158.4,371.4L156.6,370.5M137.1,361L156.4,370.8L156.7,370.3L156.3,370.1M154,369.1L156.2,370.3L156.4,369.9L139.8,361.5M280.7,445.1L213.2,414.7M196.3,374.8L225.2,391L229,384.4L226,382.6M185.6,370.3L195.7,375.9L196.9,373.7L196.5,373.5M187.5,369.7L196,374.4L197.1,372.6L194.4,371.1M185.9,367.1L194.1,371.7L194.8,370.5L180.3,362.1M186.7,363.3L224.4,385.3L227.6,379.9L225.8,378.8M185.5,363.4L186.3,363.9L187,362.7L177.9,357.3M198,366L224.1,381.6L227.5,376L224.1,373.9M185.1,359.8L197.3,367L198.6,364.9L195.7,363.1M179.1,354.5L195.1,364.1L196.2,362.2L194.7,361.3M176.5,351.1L194.3,361.9L195.1,360.7L187.8,356.2M175.9,347.2L222.8,376L225.4,371.8L225,371.6M182.9,349.7L223.1,374.6L227,368.5L226.7,368.3M204.9,360.1L224.1,372.3L229.3,364.3L225.6,361.8M184.2,348.8L204.2,361.3L205.6,359L204.3,358.2M185.3,347.7L203.6,359.2L204.9,357.1L200.5,354.3M181.5,343.5L199.9,355.2L201.1,353.4L197.5,351.1M186.4,344.8L197.2,351.7L197.9,350.5L193,347.3M211.9,356.6L223.8,364.5L227.4,359.2L224.4,357.1M209,356L211.3,357.5L212.5,355.7L209.3,353.6M190,341.7L208.9,354.2L209.7,353.1L207,351.3M208,348.9L223,359.1L225.8,355L221.9,352.3M194.6,341.2L207.4,349.8L208.6,348L207.7,347.4M191,336.9L207.3,348L208.1,346.9L197.4,339.5M197.6,337.8L220.8,353.9L223,350.7L219.4,348.2M202.7,338.7L218.3,349.7L220.5,346.7L220.1,346.4M196.2,335.1L202.3,339.3L203.1,338.1L191.5,329.9M198.8,333.2L219.2,347.7L221.1,345.1L219.8,344.2M203.6,334.8L218.7,345.7L220.9,342.7L220.6,342.5M216.8,341.7L219.6,343.7L221.5,341.2L216.6,337.6M208.6,336.6L216.3,342.2L217.2,341.1L211.9,337.3M210,334L216,338.5L217.3,336.7L209.7,331.1M197.1,322.6L209.3,331.7L210.1,330.5L200.6,323.3M287.7,422.8L227.1,387.7M198.9,320.7L263.3,369.3L264.9,367.1L263.5,366M229.1,342L262.5,367.4L264.6,364.6L257.5,359.1M201.5,321.7L228.8,342.4L229.4,341.6L219.3,333.9M210.6,327.7L219.1,334.2L219.5,333.6L200.3,318.9M179.9,302.3L256.2,360.9L258.9,357.4L256.7,355.7M230.5,338.3L255.3,357.6L258.3,353.8L244.4,342.7M215.2,327.8L229.8,339.2L231.1,337.5L219.5,328.4M178.4,300.1L214.9,328.3L215.5,327.4L207.3,321M186.3,305.2L207.1,321.3L207.5,320.7L193.2,309.5M197.3,311.8L219.1,328.9L219.9,327.9L215.6,324.5M189.7,304.9L215.2,324.9L215.9,324.1L214.9,323.3M214.2,323.2L214.7,323.6L215.1,323L187.1,300.8M226,329.9L243.5,343.9L245.4,341.5L238.3,335.7M189.7,301.9L225.6,330.4L226.3,329.4L220.6,324.8M181,293.9L220.2,325.2L220.9,324.4L218.1,322.2M203,310.5L217.9,322.4L218.3,321.9L216.9,320.7M223.4,324.6L237.8,336.3L238.7,335.1L223.4,322.6M193.5,300.9L223.2,324.9L223.6,324.3L203.6,308M192.1,297.7L223.1,323L223.8,322.2L223.5,321.9M213.2,314L223.2,322.2L223.7,321.6L223.2,321.3M297.5,393.6L264.1,368.2M193.4,295.5L255.5,346.8L257.2,344.8L255.7,343.5M181.6,284.3L254.5,344.9L256.9,342.1L255.3,340.7M208.6,305.3L253.5,342.9L257.2,338.5L255.4,337M223.5,314.3L253.2,339.6L257.7,334.4L248.6,326.3M219.7,312.7L222.7,315.2L224.2,313.5L212.8,303.7M210.3,305.4L219.4,313L220.1,312.3L194,290.2M191.7,286.8L212.3,304.3L213.3,303.1L211.2,301.3M182.8,277.7L210.9,301.7L211.6,300.9L191.2,283.4M234.6,317.8L246.7,328.4L250.4,324.2L239.1,314M216.5,303.8L233.8,318.8L235.5,316.9L228.6,310.8M219.9,304.7L227.9,311.7L229.4,310L220.5,302.1M195.9,284.5L219.6,305.1L220.2,304.3L192.2,279.7M192.6,278.6L220,302.7L221,301.5L220.7,301.3M202,285.4L220.3,301.7L221,300.9L199.7,281.9M199.5,280.2L238.3,315L240,313L237.9,311.1M217.5,294.2L237.1,311.9L238.6,310.2L234,306M191.1,271.1L217.1,294.6L217.8,293.8L206.1,283.1M226.9,300.6L233.4,306.6L234.6,305.3L228.5,299.7M211.8,285.4L228,300.3L229.1,299.1L222.1,292.6M204,276.7L221.7,293L222.4,292.3L206.9,277.9M293.2,376.5L256.4,345.8M223.6,284.3L249.2,308.9L253.1,304.9L245.3,297.1M210.5,274L222.5,285.5L224.7,283.2L211.3,270.1M182.9,248.8L210,274.6L211.1,273.4L202.1,264.7M185.9,250.1L201.7,265.1L202.5,264.3L196.9,259M180.6,241.5L210.7,270.7L211.9,269.5L209.3,266.9M192.2,251.1L208.9,267.3L209.6,266.5L188.4,245.7M215.8,270.3L244.1,298.3L246.5,295.9L244.4,293.9M196.8,252.3L215.4,270.7L216.2,269.9L205.4,259.1M221.8,273.1L243.5,294.8L245.4,292.9L242.8,290.3M211.4,263.5L221.5,273.5L222.2,272.8L213,263.5M218.4,267.3L241.9,291.1L243.6,289.4L242.7,288.5M212,259.3L241.7,289.4L243.7,287.5L243.4,287.2M202.2,247.6L242.2,288.4L244.6,286.1L238.8,280M223.7,266.8L237.6,281.2L240,278.9L233.1,271.6M208.8,252.7L223.1,267.4L224.3,266.3L224,266M223.2,265.9L223.6,266.4L224.4,265.6L214.6,255.4M209,247.9L232.4,272.3L233.8,271L230.9,267.8M207.8,245L230.2,268.5L231.6,267.2L223.3,258.4M204.3,239.5L222.7,258.9L223.9,257.8L218.5,252.1M195.9,228.9L218.1,252.5L218.9,251.7L196,227.2M272.5,327.9L251.1,306.9M213.9,239.3L257.4,286.9L261.4,283.3L260.4,282.2M233.9,257.6L258,284.3L262.8,280.1L258.2,274.7M211.8,235L233.1,258.4L234.8,256.9L231.4,253M214.6,236.1L230.5,253.8L232.2,252.3L231.9,252M211.7,230.8L231.2,252.6L232.7,251.3L228.9,247.1M213.4,230.7L228.4,247.5L229.4,246.7L212,226.9M229.9,245.3L256.8,276L259.6,273.5L257.3,270.8M215.3,226.6L255.3,272.5L259.3,269.1L257.4,266.9M236.1,247L255,268.9L259.8,264.9L254,257.9M220.4,230.4L235.3,247.6L236.8,246.4L231.8,240.5M209.8,216L231.3,241L232.3,240.1L215,219.8M240.8,246.5L251.9,259.6L256.1,256.2L249.1,247.7M219.5,223L240,247.2L241.7,245.8L239.8,243.6M223.6,225.8L239.1,244.2L240.6,242.9L235.8,237.3M218.6,217.6L235.3,237.7L236.3,236.9L222.8,220.5M222.3,217.8L247.8,248.7L250.4,246.7L248,243.7M238.7,234.6L246.9,244.6L249.1,242.8L245.4,238.3M222,215.2L238.2,235L239.2,234.2L226.1,218.1M232.7,224L244.7,238.9L246.2,237.7L244.1,235M230,218.5L243.5,235.4L244.6,234.6L233.2,220.4M286.2,314.9L259.4,285.1M232.2,211.1L274.8,265.8L278.8,262.7L276.5,259.6M259.4,242.1L274.2,261.3L278.8,257.9L268.6,244M237.2,215.2L258.5,242.8L260.3,241.4L257.2,237.3M221.6,192.6L256.4,237.9L258,236.7L251.3,227.9M227.3,197.5L250.7,228.3L251.8,227.4L238.4,209.6M250.7,222.5L267.4,244.9L269.7,243.1L262.5,233.3M235.5,203.4L250.1,222.9L251.2,222.1L245.1,213.8M236.5,199.9L261.7,233.9L263.3,232.7L258.2,225.7M237.3,198.5L257.6,226.1L258.7,225.4L231.9,188.6M292,284L276.8,264.2M263.7,224.4L291.4,263.4L293.3,262L292.5,261M261.6,219.5L291.5,261.8L293.6,260.3L292.8,259.1M258.3,212.8L291.5,260.1L294.1,258.2L293.2,256.9M261.8,215.8L291.4,258.2L295.1,255.6L294.4,254.5M278.4,236L292.2,256L296.5,253L292.3,246.7M260.3,211.7L277.6,236.5L279.2,235.4L277.4,232.7M261.9,211.9L276.6,233.2L278.2,232.2L277.9,231.8M263.2,211.7L277.2,232.2L278.5,231.3L277.6,229.9M262.8,209.2L277.1,230.2L278,229.6L269.5,217M266.8,210.9L291.3,247.4L293.3,246L292.9,245.4M271.3,215.6L291.7,246.2L294.1,244.6L292.8,242.6M281,227.3L291.7,243.4L294,241.9L291.8,238.5M272.3,215.1L280.6,227.6L281.5,227L268.2,206.9M269,206L290.8,239.2L292.8,237.8L292.6,237.5M274.4,212.1L291.4,238.3L293.8,236.7L292.4,234.6M285.4,226L291.4,235.3L293.5,234L289.9,228.3M282.1,222L284.9,226.3L285.8,225.7L277.2,212.4M278.1,211.6L289.1,228.8L290.7,227.8L288.5,224.4M281,214.1L287.9,224.9L289.2,224L286.3,219.4M275.3,203L285.9,219.7L286.8,219.1L276.2,202.2M302.1,276.6L292.3,262.7M263.7,180.1L304.2,245.2L306.4,243.9L305.4,242.3M258.7,170.1L304,243.2L306.8,241.5L306.1,240.2M271.8,189.3L304,241.5L308.2,239L307.1,237.1M286.6,209.7L304.3,238.8L309.9,235.5L304.2,225.7M267.4,180.1L285.8,210.2L287.4,209.3L284.7,204.9M269,180.7L284,205.3L285.4,204.4L283.5,201.3M270.7,181.6L282.9,201.6L284.1,200.9L283.9,200.5M274.6,186.1L283.5,200.8L284.4,200.3L284,199.8M286.2,198.6L302.7,226.5L305.6,224.9L301,216.9M279.2,188.8L285.4,199.1L287.1,198.1L280.6,187M265.2,166.3L278.8,189L279.7,188.5L264.9,163.5M262,156.6L280.1,187.3L281,186.8L265.4,160.2M272.6,170.3L300,217.5L302,216.4L301.5,215.5M278.2,177.9L300.3,216.1L302.6,214.8L299.1,208.6M286.3,188.9L298,209.3L300.3,208L294.7,198.2M269.7,161L285.9,189.2L286.8,188.7L271.2,161.5M274.3,164.8L293.7,198.8L295.8,197.6L292.3,191.3M285.5,181.3L291.4,191.8L293.1,190.9L291.3,187.6M268.3,151.9L285,181.5L285.9,181L269.1,151.2M275.2,159.8L290.9,187.9L291.8,187.4L276.5,159.8M309.5,251.3L305.3,244.5M287.1,161.9L320.3,224.4L328.4,220.3L328.2,219.9M313.3,203.2L323.2,222.4L333.2,217.5L329.4,209.6M304.2,191L311.2,204.3L315.4,202.1L314.5,200.5M297.5,179.8L303.6,191.3L304.8,190.7L304.6,190.3M282.6,152.1L297.3,179.9L297.8,179.6L286.1,157.4M303.9,190L304.2,190.5L305,190.1L304.8,189.8M304,188.8L304.5,189.9L305,189.6L304.1,187.9M305.2,186.8L312.8,201.4L316.3,199.6L312.7,192.3M300.8,179.6L304.7,187.1L305.8,186.5L302.4,179.8M289.8,159.1L300.6,179.8L301.1,179.5L290.7,159.4M291.5,159.6L302,180L302.8,179.6L297.6,169.6M287.1,149.7L297.4,169.7L297.9,169.5L288.3,150.8M308.9,188.6L311.2,193.1L314.1,191.6L313.4,190.1M294.9,162.2L308.5,188.9L309.4,188.4L308.8,187.3M302.9,176.7L308.4,187.5L309.2,187.1L307.1,182.9M294.5,158.7L306.8,183L307.3,182.8L304.2,176.5M304.3,174.5L312.4,190.6L314.4,189.7L312.7,186.4M301.9,170.6L303.9,174.7L304.7,174.3L300.9,166.6M291.7,149.1L300.6,166.8L301.1,166.5L292.2,148.6M308.2,178.6L312.2,186.7L313.3,186.1L312.8,185.1M295.6,154L307.9,178.7L308.4,178.5L308.2,177.9M312.2,184.8L312.5,185.3L313.2,184.9L311,180.4M302.3,163.4L310.7,180.5L311.2,180.2L306.4,170.4M315.3,185.2L327.6,210.5L331.3,208.7L330.1,206.1M310.8,177.3L314.8,185.5L315.8,185L314.1,181.6M296.8,149.4L310.5,177.4L311,177.1L307.8,170.5M301.4,156L313.9,181.7L314.4,181.4L306.6,165.2M309.3,168.8L327.8,207.2L332.4,205L332.2,204.7M298.2,146.5L309,169L309.6,168.7L300.1,149.1M320.3,186.3L329.6,205.9L334.9,203.5L332,197.2M313.2,174L319.3,186.8L321.3,185.8L316.9,176.5M298.3,143.8L312.9,174.2L313.6,173.8L311.3,168.9M297.7,141L311,169L311.6,168.8L300.7,145.9M312.9,169.5L316.3,176.8L317.5,176.2L314.2,169.1M302.9,149L312.6,169.6L313.2,169.4L307.8,157.9M303.9,148.2L313.8,169.3L314.6,168.9L314.3,168.3M300.8,140L314,168.4L314.6,168.2L302.3,141.9M312.3,161L329.5,198.3L334.6,196L334.3,195.5M299.7,134.7L312,161.2L312.5,160.9L312.3,160.4M322.6,179.4L330.7,197.1L337.9,193.9L333.6,183.9M306.2,145.7L321.9,179.7L323.4,179L323.2,178.7M311.7,156.2L322.2,179.1L324.2,178.2L324.1,177.8M321.4,174.8L323,178.3L325.1,177.4L321.2,168.5M305.5,141.2L320.9,175L321.9,174.5L321.7,174.2M321,173.8L321.3,174.4L322.1,174L321.9,173.6M319,167.9L321.7,173.8L322.2,173.5L321.9,173M306,136L320.7,168.8L321.6,168.3L320.4,165.6M312.4,148.9L320,165.8L320.8,165.4L318.9,161M307.6,136.5L318.6,161.2L319.1,160.9L311.9,144.6M326.8,175.2L331.1,184.9L336.1,182.8L333.8,177.4M318.4,157.7L326.2,175.5L327.4,175L327.2,174.6M312.2,142.3L326.6,174.9L327.8,174.3L327.7,174M307.5,129.9L327,174.3L328.4,173.7L328.2,173.3M327.4,173.2L327.6,173.6L328.8,173L328.6,172.7M313.8,142.7L327.2,173.3L327.7,173.1L322.2,160.4M322.7,160L328.2,172.8L329,172.5L328.9,172.1M328.4,171.7L328.6,172.3L329.1,172L328.9,171.5M327.2,165L332.8,177.9L334.8,177L332.3,170.9M315.3,138.2L326.8,165.2L327.6,164.8L327.5,164.4M316.7,140L327.2,164.6L327.8,164.3L327.5,163.8M326,157.8L331.6,171.2L332.9,170.6L332.7,170.3M315.3,133.4L325.7,157.9L326.2,157.7L321.2,145.8M324.2,151.3L332.3,170.5L333.2,170.1L333,169.7M325.8,153.4L332.6,169.9L333.4,169.5L333.3,169.2M332.8,168.7L333,169.3L333.6,169L323.4,144.7M332.5,238.3L324.3,222.3M346.6,194.9L352.5,209.3L373,201.7L371.4,197M341.2,185.3L345.4,195.4L347.9,194.4L346.9,191.9M337.7,173.7L345.4,192.6L348.4,191.3L347.5,189M339.5,175.2L345.4,189.8L349.6,188.2L349.2,187.2M344.6,182.3L346.9,188.1L351.4,186.3L350.7,184.4M339.6,172.3L343.7,182.7L345.5,181.9L345.4,181.6M343.7,179.5L344.6,181.9L346.2,181.3L345.6,179.9M344,177.3L345.1,180.1L346.1,179.7L342.6,170.6M347.6,180.4L349.4,184.9L351.9,183.9L350.3,179.4M347.9,176.3L349.2,179.8L351.3,179L350.2,176.2M345.4,171.4L347.3,176.5L348.4,176.1L347.3,173.2M346.8,168.7L349.7,176.4L350.8,176L350.6,175.5M363.5,192.4L365.9,198.9L376.9,195.1L375,189.2M358.6,190.8L359.7,193.8L367.4,191L366,186.8M354.2,182L357.6,191.2L359.6,190.5L359.4,190.1M356.9,186.1L358.5,190.4L360.4,189.7L360.2,189.4M357.7,185.2L359.3,189.7L361.1,189L360.3,186.9M358.9,185.2L359.6,187.1L361.1,186.6L360,183.4M359.2,183L359.4,183.6L360.5,183.2L359,179.2M361.4,180.1L364,187.5L368,186.2L367.3,184.2M358.5,174.4L360.6,180.3L362.2,179.8L362.1,179.4M361,178L361.5,179.6L362.6,179.2L360.9,174.3M365.7,183.1L366.2,184.6L368.5,183.8L368.3,183.4M364.1,180.1L365.1,183.3L366.2,183L365.7,181.6M366.7,181.2L367.6,183.7L369.1,183.2L369,182.8M368.2,182.2L368.5,183L369.5,182.6L368.6,179.8M367.4,172.5L373,189.9L377.1,188.6L376.9,188.1M369.8,176.3L373.9,189.1L379.9,187.2L379.7,186.3M374.5,181.6L376.3,187.3L383.1,185.3L381.8,181M371.8,177.3L373.3,182L375.6,181.3L373.7,175.1M371.1,176.9L371.3,177.5L372.3,177.1L371.1,173.2M371,169.3L372.9,175.3L374.5,174.8L374.4,174.4M371.9,168.3L373.9,174.6L374.9,174.3L373.9,170.9M377.4,175.3L379.3,181.7L384.3,180.3L383.1,176.2M375,170.8L376.5,175.6L378.3,175.1L378.1,174.4M375.4,168.1L377.4,174.7L378.9,174.2L378.4,172.4M377.7,171.8L377.9,172.6L378.9,172.3L377.2,166.5M381,173.3L381.9,176.5L384.3,175.8L384.2,175.4M377.8,164.4L380.4,173.4L381.5,173.1L380.9,171.2M383.1,174.9L383.4,175.7L385,175.2L384.5,173.5M381.3,164.4L383.9,173.6L385,173.3L382.8,165.4M364.4,210L362.7,205.4M388.2,176.8L393.3,195.5L398.3,194.2L397.3,190.4M384.2,165.7L387.3,177L389.2,176.5L388.1,172.6M377.9,144.7L383.8,165.8L384.6,165.6L384.3,164.6M381.8,156.4L384,164.7L384.6,164.5L379.1,144.6M380.4,147.1L387.4,172.8L388.8,172.4L388.6,171.5M385.4,162L388,171.7L389.2,171.4L387.1,163.6M381.7,149.4L385.1,162.1L385.6,161.9L383.1,152.3M383.5,151.7L386.7,163.7L387.5,163.5L385.9,157.5M385,155.1L385.7,157.6L386.2,157.5L380.5,135.7M390.9,171L396,190.7L398.7,190L397.9,187M390.2,170.5L390.4,171.1L391.3,170.8L391.2,170.5M384.8,147.4L390.8,170.6L391.6,170.3L390.6,166.5M385.7,148.7L390.4,166.6L390.9,166.4L386.9,151.1M391.1,165.1L396.8,187.3L399,186.8L398.9,186.4M394.3,173.7L397.6,186.7L400.2,186.1L400.1,185.7M390.2,159L393.9,173.8L394.7,173.6L394.5,172.9M392.5,166.1L394.3,173L394.8,172.9L392.3,163M393.2,163L398.9,186L401.4,185.4L400.9,183.4M392.5,161.5L392.9,163.1L393.5,163L393.3,162.4M392,154.6L399.2,183.8L402.5,183L402.4,182.6M398.6,176L400.3,183.1L404.6,182.1L402.6,173.5M393,156.4L397.9,176.2L399.3,175.9L399.2,175.5M398.4,174.9L398.6,175.6L399.8,175.3L399.7,174.9M398,174.4L398.1,175L398.7,174.8L394.9,159.4M397.6,167.9L399.3,175L400.1,174.8L399.6,172.8M399.2,172.2L399.3,172.8L399.8,172.7L395.9,155.9M398.5,160.9L401.5,173.8L403.7,173.3L402.6,168.4M397,157L397.9,161L399,160.7L398.5,158.3M390.5,130.9L396.7,157.1L397.3,157L391.1,130.8M398,157.8L398.2,158.4L398.7,158.2L394.4,139.5M399.8,159.1L402,168.5L403.2,168.2L401.9,162.3M397.7,151L399.5,159.2L400.1,159.1L395.9,140.6M396.6,141L401.4,162.4L402.4,162.2L402.3,161.8M396.5,137.8L401.9,161.9L402.7,161.7L402.6,161.3M398.2,142.8L402.3,161.3L402.9,161.2L401.9,156.7M396.3,196.8L395.8,194.8M406.7,149L410.1,165.8L424.2,163.2L423.5,158.7M400.8,141.8L402.6,149.9L410.8,148.2L409.9,143.6M397.4,132.1L399.6,142.1L402.1,141.5L401.6,139.5M393.2,114.6L397.1,132.2L397.7,132L397.5,131.4M398.3,129.7L400.5,139.7L402.8,139.2L401.3,132.2M394.5,114.6L397.8,129.8L398.7,129.6L398.7,129.2M397,122.9L398.3,129.2L399,129.1L395.1,111.2M399.3,126.3L400.6,132.3L402,132L401.9,131.7M395,107.6L399,126.4L399.7,126.3L399.5,125.7M401.3,130.9L401.5,131.7L402.4,131.6L401.9,129.2M399.1,117.4L401.6,129.3L402.2,129.2L398.8,112.5M406.4,136.8L407.9,144L412,143.2L411.8,142.1M403.9,131.8L405,137.1L407.8,136.5L407.3,133.8M401.6,123L403.4,131.9L404.5,131.6L403.6,127.4M399.9,111.3L403.2,127.5L404.1,127.3L404,126.9M403.6,126.4L403.7,127L404.3,126.9L401.2,111.1M406,130.3L406.7,133.9L407.9,133.7L407.8,133.3M403.4,118.9L405.7,130.3L406.3,130.2L406,128.6M406.1,126.2L407.5,133.4L408.1,133.2L408,132.6M408.9,132.2L410.8,142.3L412.7,141.9L412.7,141.5M406.5,121.3L408.6,132.2L409.2,132.1L405.8,114.2M410.4,133.6L412,141.7L413.4,141.4L413.3,141M408.3,124.1L410.1,133.6L410.7,133.5L409.7,127.8M412.7,140.5L412.8,141.1L413.8,140.9L413.2,137.7M412.7,137.2L412.8,137.8L413.7,137.6L411.2,124M408.7,111.9L410.9,124.1L411.5,124L409.8,114.3M411.6,120.7L418.6,159.5L428.4,157.9L428.3,157.5M420.1,150L421.6,158.6L435.1,156.5L434.6,152.7M416.3,140.8L418,150.4L422.2,149.6L422.1,149M415.7,140.3L415.8,140.9L416.7,140.7L416.7,140.3M416.3,139.8L416.4,140.4L417,140.3L416.9,139.7M418,136.5L420.2,149.3L424,148.7L423.7,146.8M416.8,134.1L417.3,136.6L418.6,136.4L418.5,135.5M414.7,123.7L416.5,134.2L417.1,134.1L413.2,111.4M416.1,124.3L418,135.6L419,135.4L418.3,131.5M416.7,123.9L418,131.6L418.6,131.5L416,116.2M420.1,134.9L422.1,147L425.3,146.5L424.2,139.4M416.7,116.3L419.8,134.9L420.4,134.8L420.2,133.5M421,131.7L422.3,139.7L426,139.1L426,138.7M416.3,105.8L420.5,131.7L421.5,131.6L420.6,126.5M417.5,109L420.3,126.6L421,126.5L420.9,125.9M423.3,130.5L424.6,138.9L427.4,138.5L426.4,131.4M422.1,127.4L422.6,130.6L423.9,130.4L423.2,125.2M418.6,107.3L421.7,127.4L422.4,127.3L420.8,117.6M419.9,107.5L422.7,125.3L423.6,125.1L423.6,124.7M422.4,119.5L423.2,124.8L423.9,124.7L423.5,122.2M422.9,113.8L425.5,131.5L427.2,131.3L427.1,130.9M425.2,122.6L426.4,131L427.9,130.8L427.6,128.9M424.4,119.7L424.9,122.7L425.5,122.6L422.9,104.9M425.4,117.4L427.1,129L428.1,128.8L428.1,128.4M425.8,116.2L427.6,128.5L428.5,128.4L428,124.2M425.1,106.1L427.6,124.3L428.3,124.2L426.6,112.4M431,135.6L433.4,152.9L435.7,152.6L435.3,149.1M429,124.8L430.5,135.7L431.4,135.6L431.4,135.1M429.6,124.8L431.1,135.1L431.7,135L429.6,120.2M429.8,116.5L434.2,149.3L436.4,149L436,145.9M432.3,127.1L434.8,146.1L437.1,145.8L437.1,145.4M431.4,123.5L431.9,127.1L432.8,127L432.7,126.6M430.2,109.4L432.4,126.6L433,126.6L431.1,111.7M431.7,111.4L436.1,145.5L438,145.3L437.9,144.9M433.1,116.8L436.7,145L439.2,144.7L439.2,144.3M435.3,129.7L437.2,144.6L441.1,144.1L441.1,143.7M435.6,123.2L438.2,144L444,143.4L444,143M434.4,117L435.2,123.3L436.1,123.1L435.9,121.5M433.7,106.4L435.6,121.5L436.2,121.5L436.1,120.9M439.5,135.1L440.5,143.4L447.5,142.6L447,137.7M435.5,110.1L438.5,135.2L440.5,135L440.3,133.7M438,122.8L439.3,133.8L441.4,133.6L441.4,133.2M436,108.8L437.7,122.8L438.3,122.8L437.7,117.8M439.8,127.2L440.4,133.3L442.3,133.1L441.6,127.1M438.8,121.5L439.4,127.2L440.1,127.2L438.6,114.4M440.3,120.6L441,127.2L442.2,127L441.7,121.7M438.2,104.8L440,120.6L440.6,120.6L440.5,120M441.3,121.1L441.4,121.7L442,121.6L440.8,110.8M443.8,127.4L444.9,137.9L449.1,137.5L449,137.1M441.2,108.4L443.2,127.4L444.3,127.3L444,124.2M441.9,108.7L443.5,124.2L444.5,124.1L444,119.8M443.7,119.3L443.7,119.9L444.3,119.8L443.8,114.8M446.2,126.7L447.3,137.3L450.8,136.9L450.2,130.8M444.1,111.3L445.7,126.7L446.8,126.6L446.4,123M444.6,109.8L445.9,123L446.9,123L446.6,119.7M445.5,112.2L446.3,119.7L446.9,119.7L446.8,119.1M448.5,125.4L449,130.9L451.4,130.7L451.4,130.3M446.4,107.3L448.1,125.4L449,125.3L448.5,120.2M446.7,103.9L448.2,120.3L448.8,120.2L447.6,106.3M450.3,125.8L450.7,130.3L452.1,130.2L451.6,124.5M448.5,109.4L450,125.8L450.6,125.7L449.1,108.6M451,123.2L451.1,124.5L452.1,124.5L451.5,118M450.2,105.7L451.2,118L451.8,118L450.4,101M422.1,191L417.2,164.4"/>
</g>
<g id="annot">
<path d="M288.1,899.2 L282.8,908.9 A423.2,423.2 0 0 1 65.0,574.1 L76.0,573.2" fill="none" stroke="#d0262c" stroke-width="1.8" stroke-dasharray="6,2.9"/>
<text transform="translate(142,764.5) rotate(56.7)" text-anchor="middle" class="cl">Collinsella</text>
<path d="M274.4,555.1L139.8,565.9" fill="none" stroke="#000" stroke-width="1"/>
<path d="M139.9,567.1L81.1,572.1" fill="none" stroke="#000" stroke-width="1.6"/>
<path d="M294.5,828.4A348.2,348.2 0 0 1 139.7,567.1" fill="none" stroke="#000" stroke-width="2.3"/>
<path d="M313.1,833.8L294.0,828.0" fill="none" stroke="#000" stroke-width="2"/>
</g>
<g id="charts">
<rect x="1197" y="66" width="630" height="421.3" fill="#fdfefd"/>
<line x1="1197" y1="487.30" x2="1827" y2="487.30" stroke="#d5d7d7" stroke-width="1.4"/>
<text x="1189.5" y="494.50" text-anchor="end" class="tk" transform="matrix(1,0,0,1.04,0,-19.78)">0</text>
<line x1="1197" y1="428.93" x2="1827" y2="428.93" stroke="#d5d7d7" stroke-width="1.4"/>
<text x="1189.5" y="436.13" text-anchor="end" class="tk" transform="matrix(1,0,0,1.04,0,-17.45)">500</text>
<line x1="1197" y1="370.56" x2="1827" y2="370.56" stroke="#d5d7d7" stroke-width="1.4"/>
<text x="1189.5" y="377.76" text-anchor="end" class="tk" transform="matrix(1,0,0,1.04,0,-15.11)">1,000</text>
<line x1="1197" y1="312.19" x2="1827" y2="312.19" stroke="#d5d7d7" stroke-width="1.4"/>
<text x="1189.5" y="319.39" text-anchor="end" class="tk" transform="matrix(1,0,0,1.04,0,-12.78)">1,500</text>
<line x1="1197" y1="253.82" x2="1827" y2="253.82" stroke="#d5d7d7" stroke-width="1.4"/>
<text x="1189.5" y="261.02" text-anchor="end" class="tk" transform="matrix(1,0,0,1.04,0,-10.44)">2,000</text>
<line x1="1197" y1="195.45" x2="1827" y2="195.45" stroke="#d5d7d7" stroke-width="1.4"/>
<text x="1189.5" y="202.65" text-anchor="end" class="tk" transform="matrix(1,0,0,1.04,0,-8.11)">2,500</text>
<line x1="1197" y1="137.08" x2="1827" y2="137.08" stroke="#d5d7d7" stroke-width="1.4"/>
<text x="1189.5" y="144.28" text-anchor="end" class="tk" transform="matrix(1,0,0,1.04,0,-5.77)">3,000</text>
<line x1="1197" y1="78.71" x2="1827" y2="78.71" stroke="#d5d7d7" stroke-width="1.4"/>
<text x="1189.5" y="85.91" text-anchor="end" class="tk" transform="matrix(1,0,0,1.04,0,-3.44)">3,500</text>
<rect x="1209.6" y="415.50" width="131.0" height="71.80" fill="#fdf9e8"/>
<rect x="1367.2" y="456.13" width="131.0" height="31.17" fill="#f2e7d4"/>
<rect x="1524.6" y="378.15" width="131.0" height="109.15" fill="#d5deb3"/>
<rect x="1682.2" y="136.26" width="131.0" height="351.04" fill="#c9d1a3"/>
<rect x="1197" y="545" width="630" height="411.70000000000005" fill="#fdfefd"/>
<line x1="1197" y1="956.70" x2="1827" y2="956.70" stroke="#d5d7d7" stroke-width="1.4"/>
<text x="1189.5" y="963.90" text-anchor="end" class="tk" transform="matrix(1,0,0,1.04,0,-38.56)">0</text>
<line x1="1197" y1="899.60" x2="1827" y2="899.60" stroke="#d5d7d7" stroke-width="1.4"/>
<text x="1189.5" y="906.80" text-anchor="end" class="tk" transform="matrix(1,0,0,1.04,0,-36.27)">100</text>
<line x1="1197" y1="842.50" x2="1827" y2="842.50" stroke="#d5d7d7" stroke-width="1.4"/>
<text x="1189.5" y="849.70" text-anchor="end" class="tk" transform="matrix(1,0,0,1.04,0,-33.99)">200</text>
<line x1="1197" y1="785.40" x2="1827" y2="785.40" stroke="#d5d7d7" stroke-width="1.4"/>
<text x="1189.5" y="792.60" text-anchor="end" class="tk" transform="matrix(1,0,0,1.04,0,-31.70)">300</text>
<line x1="1197" y1="728.30" x2="1827" y2="728.30" stroke="#d5d7d7" stroke-width="1.4"/>
<text x="1189.5" y="735.50" text-anchor="end" class="tk" transform="matrix(1,0,0,1.04,0,-29.42)">400</text>
<line x1="1197" y1="671.20" x2="1827" y2="671.20" stroke="#d5d7d7" stroke-width="1.4"/>
<text x="1189.5" y="678.40" text-anchor="end" class="tk" transform="matrix(1,0,0,1.04,0,-27.14)">500</text>
<line x1="1197" y1="614.10" x2="1827" y2="614.10" stroke="#d5d7d7" stroke-width="1.4"/>
<text x="1189.5" y="621.30" text-anchor="end" class="tk" transform="matrix(1,0,0,1.04,0,-24.85)">600</text>
<line x1="1197" y1="557.00" x2="1827" y2="557.00" stroke="#d5d7d7" stroke-width="1.4"/>
<text x="1189.5" y="564.20" text-anchor="end" class="tk" transform="matrix(1,0,0,1.04,0,-22.57)">700</text>
<rect x="1209.6" y="623.24" width="131.0" height="333.46" fill="#fdf9e8"/>
<rect x="1367.2" y="868.20" width="131.0" height="88.50" fill="#f2e7d4"/>
<rect x="1524.6" y="946.99" width="131.0" height="9.71" fill="#d5deb3"/>
<rect x="1682.2" y="948.13" width="131.0" height="8.57" fill="#c9d1a3"/>
<circle cx="1367.7" cy="217.7" r="131" fill="#ffffff"/>
<path d="M1367.7,217.7 L1367.70,90.70 A127,127 0 0 1 1458.90,129.32 Z" fill="#fdf9e8" stroke="#ffffff" stroke-width="2.6" stroke-linejoin="round"/>
<path d="M1367.7,217.7 L1458.90,129.32 A127,127 0 0 1 1483.55,165.66 Z" fill="#f2e7d4" stroke="#ffffff" stroke-width="2.6" stroke-linejoin="round"/>
<path d="M1367.7,217.7 L1483.55,165.66 A127,127 0 0 1 1456.60,308.40 Z" fill="#d5deb3" stroke="#ffffff" stroke-width="2.6" stroke-linejoin="round"/>
<path d="M1367.7,217.7 L1456.60,308.40 A127,127 0 1 1 1367.62,90.70 Z" fill="#c9d1a3" stroke="#ffffff" stroke-width="2.6" stroke-linejoin="round"/>
<circle cx="1669.5" cy="742.5" r="135" fill="#ffffff"/>
<path d="M1669.5,742.5 L1669.50,611.50 A131,131 0 1 1 1538.65,736.33 Z" fill="#fdf9e8" stroke="#ffffff" stroke-width="2.6" stroke-linejoin="round"/>
<path d="M1669.5,742.5 L1538.65,736.33 A131,131 0 0 1 1635.73,615.93 Z" fill="#f2e7d4" stroke="#ffffff" stroke-width="2.6" stroke-linejoin="round"/>
<path d="M1669.5,742.5 L1635.73,615.93 A131,131 0 0 1 1653.49,612.48 Z" fill="#d5deb3" stroke="#ffffff" stroke-width="2.6" stroke-linejoin="round"/>
<path d="M1669.5,742.5 L1653.49,612.48 A131,131 0 0 1 1669.50,611.50 Z" fill="#c9d1a3" stroke="#ffffff" stroke-width="2.6" stroke-linejoin="round"/>
<text x="1275.10" y="441.30" text-anchor="middle" class="bl" transform="matrix(1,0,0,1.04,0,-17.65)">615</text>
<text x="1432.70" y="481.93" text-anchor="middle" class="bl" transform="matrix(1,0,0,1.04,0,-19.28)">267</text>
<text x="1590.10" y="403.95" text-anchor="middle" class="bl" transform="matrix(1,0,0,1.04,0,-16.16)">935</text>
<text x="1747.70" y="162.06" text-anchor="middle" class="bl" transform="matrix(1,0,0,1.04,0,-6.48)">3,007</text>
<text x="1275.10" y="649.04" text-anchor="middle" class="bl" transform="matrix(1,0,0,1.04,0,-25.96)">584</text>
<text x="1432.70" y="894.00" text-anchor="middle" class="bl" transform="matrix(1,0,0,1.04,0,-35.76)">155</text>
<text x="1590.10" y="942.99" text-anchor="middle" class="bl" transform="matrix(1,0,0,1.04,0,-37.72)">17</text>
<text x="1747.70" y="944.13" text-anchor="middle" class="bl" transform="matrix(1,0,0,1.04,0,-37.77)">15</text>
<text x="1380.5" y="117.6" class="pl" transform="matrix(1,0,0,1.04,0,-4.70)">12.75 %</text>
<text x="1468.3" y="160.7" class="pl" transform="matrix(1,0,0,1.04,0,-6.43)">5.53 %</text>
<text x="1263.3" y="235.4" class="pl" transform="matrix(1,0,0,1.04,0,-9.42)">62.33 %</text>
<text x="1403.4" y="238.7" class="pl" transform="matrix(1,0,0,1.04,0,-9.55)">19.38 %</text>
<text x="1529.6" y="607.4" class="pl" transform="matrix(1,0,0,1.04,0,-24.30)">2.20 %</text>
<text x="1694.8" y="591.2" class="pl" transform="matrix(1,0,0,1.04,0,-23.65)">1.95 %</text>
<text x="1561.4" y="705" class="pl" transform="matrix(1,0,0,1.04,0,-28.20)">20.10 %</text>
<text x="1690.8" y="781.3" class="pl" transform="matrix(1,0,0,1.04,0,-31.25)">75.75 %</text>
<polyline points="1606,600 1610,600 1644,613" fill="none" stroke="#8c8c8c" stroke-width="1.3"/>
<polyline points="1692,587.4 1688,587.4 1662,610.5" fill="none" stroke="#8c8c8c" stroke-width="1.3"/>
<text x="1275.10" y="987.6" text-anchor="middle" class="bl" transform="matrix(1,0,0,1.04,0,-39.50)">No marker</text>
<text x="1432.70" y="987.6" text-anchor="middle" class="bl" transform="matrix(1,0,0,1.04,0,-39.50)">N &lt; 10</text>
<text x="1590.10" y="987.6" text-anchor="middle" class="bl" transform="matrix(1,0,0,1.04,0,-39.50)">10 ≤ N &lt; 200</text>
<text x="1747.70" y="987.6" text-anchor="middle" class="bl" transform="matrix(1,0,0,1.04,0,-39.50)">N ≥ 200</text>
<text x="1510" y="1026" text-anchor="middle" class="bl" transform="matrix(1,0,0,1.04,0,-41.04)"># of markers</text>
<text transform="translate(1099.5,282.3) rotate(-90)" text-anchor="middle" class="at"># of HRGM2 species</text>
<text transform="translate(1099.5,756.6) rotate(-90)" text-anchor="middle" class="at"># of <tspan font-style="italic">Collinsella</tspan> species</text>
<text x="-6.5" y="66.8" class="pn">a</text>
<text x="990" y="66" class="pn">b</text>
<text x="992" y="563.8" class="pn">c</text>
</g>
</svg>
</body></html>
